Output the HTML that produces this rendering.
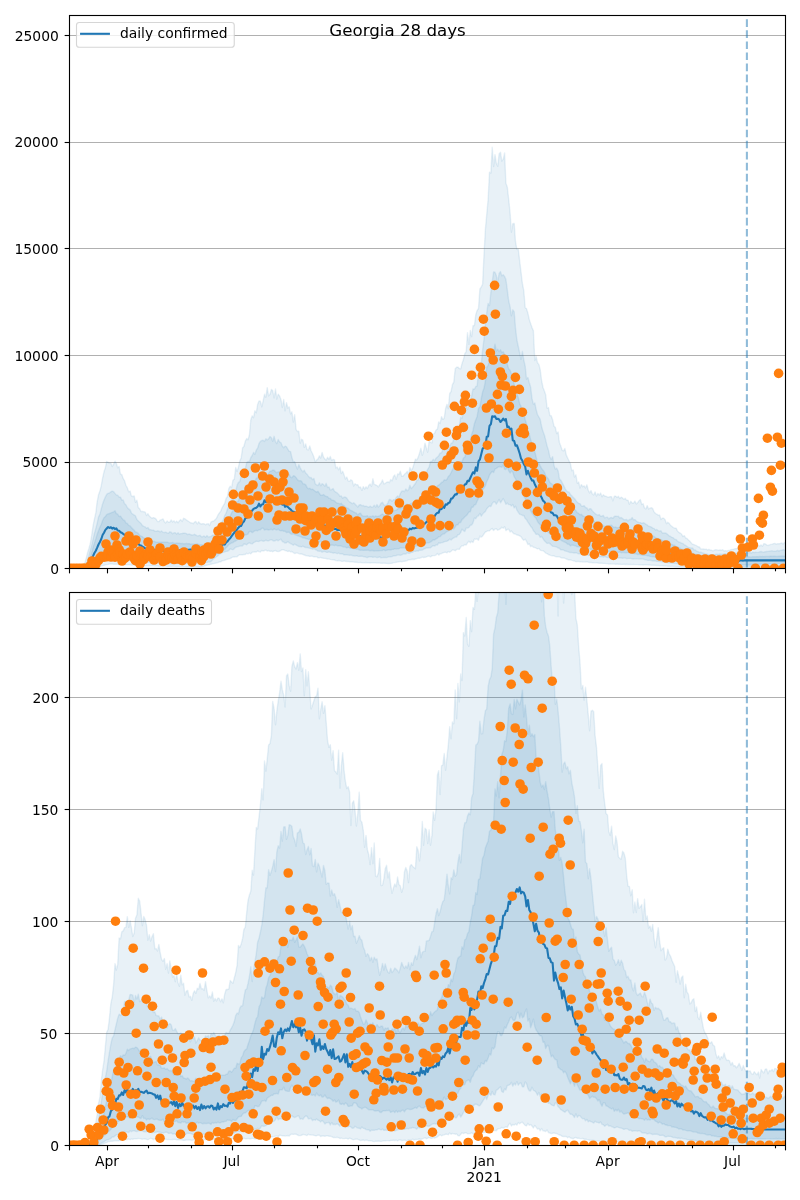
<!DOCTYPE html>
<html lang="en"><head><meta charset="utf-8"><title>Georgia 28 days</title>
<style>
html,body{margin:0;padding:0;background:#fff}
svg{display:block;will-change:transform}
text{font-family:"DejaVu Sans","Liberation Sans",sans-serif;fill:#000}
.t10{font-size:13.89px}
.t12{font-size:16.67px}
</style></head><body>
<svg width="800" height="1200" viewBox="0 0 800 1200">
<rect width="800" height="1200" fill="#fff"/>
<defs>
<clipPath id="c1"><rect x="69.70" y="15.00" width="716.10" height="553.20"/></clipPath>
<clipPath id="c2"><rect x="69.70" y="592.00" width="716.10" height="553.20"/></clipPath>
</defs>
<g stroke="#b0b0b0" stroke-width="1.11"><line x1="69.50" x2="785.50" y1="462.50" y2="462.50"/><line x1="69.50" x2="785.50" y1="355.50" y2="355.50"/><line x1="69.50" x2="785.50" y1="248.50" y2="248.50"/><line x1="69.50" x2="785.50" y1="142.50" y2="142.50"/><line x1="69.50" x2="785.50" y1="35.50" y2="35.50"/><line x1="69.50" x2="785.50" y1="1033.50" y2="1033.50"/><line x1="69.50" x2="785.50" y1="921.50" y2="921.50"/><line x1="69.50" x2="785.50" y1="809.50" y2="809.50"/><line x1="69.50" x2="785.50" y1="697.50" y2="697.50"/></g>
<g clip-path="url(#c1)">
<path d="M69.7 568.3 L71.1 568.1 L72.4 567.8 L73.8 567.6 L75.2 567.4 L76.6 567.2 L77.9 567.0 L79.3 566.8 L80.7 566.5 L82.0 566.3 L83.4 566.1 L84.8 563.1 L86.2 558.3 L87.5 552.8 L88.9 548.4 L90.3 543.5 L91.6 535.9 L93.0 526.2 L94.4 519.1 L95.8 512.9 L97.1 502.1 L98.5 494.8 L99.9 491.1 L101.3 485.3 L102.6 478.1 L104.0 471.8 L105.4 467.6 L106.7 461.5 L108.1 462.3 L109.5 463.4 L110.9 463.2 L112.2 466.6 L113.6 464.1 L115.0 461.2 L116.3 463.3 L117.7 467.8 L119.1 466.5 L120.5 474.4 L121.8 474.5 L123.2 478.6 L124.6 480.8 L125.9 485.4 L127.3 487.7 L128.7 491.9 L130.1 491.1 L131.4 495.9 L132.8 496.5 L134.2 496.0 L135.5 502.3 L136.9 500.2 L138.3 507.6 L139.7 508.8 L141.0 511.5 L142.4 511.4 L143.8 511.7 L145.2 512.1 L146.5 515.5 L147.9 513.7 L149.3 516.0 L150.6 517.2 L152.0 518.3 L153.4 517.6 L154.8 518.1 L156.1 519.1 L157.5 521.5 L158.9 521.6 L160.2 519.9 L161.6 519.7 L163.0 518.9 L164.4 521.7 L165.7 522.9 L167.1 520.9 L168.5 522.2 L169.8 522.0 L171.2 520.0 L172.6 522.0 L174.0 520.7 L175.3 522.7 L176.7 521.1 L178.1 522.8 L179.4 520.7 L180.8 519.6 L182.2 521.4 L183.6 518.3 L184.9 518.8 L186.3 519.9 L187.7 520.8 L189.1 521.8 L190.4 522.7 L191.8 522.9 L193.2 523.7 L194.5 522.1 L195.9 521.5 L197.3 523.9 L198.7 521.8 L200.0 523.5 L201.4 524.0 L202.8 523.7 L204.1 523.7 L205.5 524.8 L206.9 523.9 L208.3 523.7 L209.6 525.5 L211.0 522.1 L212.4 521.3 L213.7 521.1 L215.1 519.7 L216.5 518.3 L217.9 515.2 L219.2 513.1 L220.6 511.4 L222.0 507.9 L223.3 505.6 L224.7 503.3 L226.1 498.5 L227.5 496.5 L228.8 488.5 L230.2 486.2 L231.6 487.5 L232.9 480.3 L234.3 479.1 L235.7 467.5 L237.1 471.5 L238.4 467.1 L239.8 461.0 L241.2 457.7 L242.6 447.8 L243.9 446.5 L245.3 441.1 L246.7 438.6 L248.0 439.8 L249.4 434.7 L250.8 419.8 L252.2 415.8 L253.5 417.7 L254.9 410.8 L256.3 412.7 L257.6 404.5 L259.0 400.9 L260.4 401.2 L261.8 406.8 L263.1 401.1 L264.5 394.3 L265.9 397.2 L267.2 387.6 L268.6 395.9 L270.0 394.2 L271.4 389.5 L272.7 390.6 L274.1 397.9 L275.5 389.0 L276.8 399.1 L278.2 394.1 L279.6 395.9 L281.0 399.6 L282.3 407.5 L283.7 399.5 L285.1 410.8 L286.5 402.6 L287.8 408.0 L289.2 406.9 L290.6 413.9 L291.9 411.8 L293.3 422.1 L294.7 414.7 L296.1 429.4 L297.4 431.5 L298.8 431.2 L300.2 443.2 L301.5 439.3 L302.9 440.1 L304.3 447.4 L305.7 444.0 L307.0 449.5 L308.4 449.9 L309.8 445.9 L311.1 450.8 L312.5 453.5 L313.9 457.1 L315.3 461.8 L316.6 460.1 L318.0 458.9 L319.4 455.8 L320.7 458.1 L322.1 452.4 L323.5 457.1 L324.9 459.1 L326.2 460.1 L327.6 457.3 L329.0 459.3 L330.3 456.5 L331.7 460.4 L333.1 459.4 L334.5 459.8 L335.8 468.0 L337.2 467.0 L338.6 469.8 L340.0 467.0 L341.3 473.5 L342.7 471.3 L344.1 474.9 L345.4 479.1 L346.8 477.1 L348.2 480.9 L349.6 481.4 L350.9 479.7 L352.3 480.7 L353.7 486.0 L355.0 483.7 L356.4 484.8 L357.8 484.8 L359.2 487.6 L360.5 487.0 L361.9 490.4 L363.3 486.6 L364.6 489.1 L366.0 486.8 L367.4 488.6 L368.8 485.2 L370.1 483.9 L371.5 486.5 L372.9 478.8 L374.2 484.4 L375.6 484.8 L377.0 485.6 L378.4 486.9 L379.7 484.6 L381.1 483.0 L382.5 479.9 L383.9 483.9 L385.2 483.5 L386.6 482.3 L388.0 481.8 L389.3 482.7 L390.7 479.5 L392.1 480.8 L393.5 476.5 L394.8 474.9 L396.2 479.4 L397.6 473.9 L398.9 474.6 L400.3 471.2 L401.7 476.3 L403.1 476.1 L404.4 474.3 L405.8 473.3 L407.2 471.3 L408.5 474.6 L409.9 467.5 L411.3 470.4 L412.7 468.1 L414.0 463.9 L415.4 459.1 L416.8 459.9 L418.1 457.4 L419.5 453.3 L420.9 448.1 L422.3 455.3 L423.6 451.0 L425.0 443.1 L426.4 448.1 L427.7 452.2 L429.1 441.1 L430.5 442.3 L431.9 442.9 L433.2 434.2 L434.6 433.2 L436.0 430.0 L437.4 429.1 L438.7 421.9 L440.1 423.4 L441.5 416.6 L442.8 419.4 L444.2 418.4 L445.6 408.5 L447.0 404.3 L448.3 408.7 L449.7 393.5 L451.1 391.5 L452.4 384.7 L453.8 382.1 L455.2 368.7 L456.6 367.3 L457.9 367.1 L459.3 368.5 L460.7 368.8 L462.0 363.6 L463.4 359.8 L464.8 353.7 L466.2 351.5 L467.5 332.6 L468.9 344.4 L470.3 330.5 L471.6 336.6 L473.0 325.8 L474.4 325.6 L475.8 314.6 L477.1 310.6 L478.5 308.4 L479.9 289.0 L481.3 286.9 L482.6 284.3 L484.0 254.5 L485.4 229.1 L486.7 214.9 L488.1 199.6 L489.5 172.1 L490.9 173.1 L492.2 147.3 L493.6 166.5 L495.0 154.7 L496.3 163.1 L497.7 166.3 L499.1 153.9 L500.5 152.2 L501.8 161.1 L503.2 159.3 L504.6 152.9 L505.9 183.3 L507.3 187.1 L508.7 199.3 L510.1 212.8 L511.4 232.2 L512.8 223.7 L514.2 223.4 L515.5 241.7 L516.9 249.4 L518.3 249.3 L519.7 261.1 L521.0 271.8 L522.4 283.5 L523.8 290.7 L525.2 307.7 L526.5 308.6 L527.9 313.1 L529.3 319.5 L530.6 323.6 L532.0 327.6 L533.4 330.8 L534.8 360.5 L536.1 356.4 L537.5 362.7 L538.9 364.4 L540.2 369.6 L541.6 380.4 L543.0 387.5 L544.4 391.0 L545.7 394.9 L547.1 408.3 L548.5 407.5 L549.8 415.5 L551.2 415.8 L552.6 419.7 L554.0 426.2 L555.3 427.3 L556.7 433.5 L558.1 431.9 L559.4 442.6 L560.8 446.1 L562.2 450.3 L563.6 450.8 L564.9 448.4 L566.3 455.1 L567.7 458.0 L569.0 460.8 L570.4 463.7 L571.8 470.7 L573.2 470.0 L574.5 477.0 L575.9 474.8 L577.3 483.2 L578.7 482.0 L580.0 488.0 L581.4 484.6 L582.8 486.8 L584.1 485.8 L585.5 488.0 L586.9 484.8 L588.3 490.4 L589.6 492.9 L591.0 490.5 L592.4 494.0 L593.7 494.9 L595.1 491.9 L596.5 496.0 L597.9 493.5 L599.2 495.2 L600.6 493.1 L602.0 496.8 L603.3 494.8 L604.7 496.0 L606.1 496.3 L607.5 496.9 L608.8 497.2 L610.2 496.6 L611.6 496.8 L612.9 500.9 L614.3 496.2 L615.7 496.1 L617.1 497.6 L618.4 496.3 L619.8 498.6 L621.2 497.1 L622.6 498.1 L623.9 499.4 L625.3 498.3 L626.7 500.4 L628.0 500.1 L629.4 504.2 L630.8 501.3 L632.2 503.0 L633.5 503.2 L634.9 501.1 L636.3 503.9 L637.6 502.7 L639.0 500.8 L640.4 499.6 L641.8 504.5 L643.1 503.8 L644.5 508.0 L645.9 508.9 L647.2 505.6 L648.6 509.0 L650.0 508.2 L651.4 507.7 L652.7 508.5 L654.1 511.9 L655.5 513.5 L656.8 514.2 L658.2 515.1 L659.6 515.0 L661.0 519.6 L662.3 518.1 L663.7 518.1 L665.1 519.7 L666.5 523.7 L667.8 522.3 L669.2 523.4 L670.6 525.4 L671.9 526.4 L673.3 527.5 L674.7 528.2 L676.1 528.1 L677.4 530.9 L678.8 532.3 L680.2 533.2 L681.5 534.0 L682.9 536.6 L684.3 535.7 L685.7 538.0 L687.0 538.5 L688.4 540.0 L689.8 541.1 L691.1 542.8 L692.5 544.2 L693.9 544.5 L695.3 545.2 L696.6 545.7 L698.0 546.7 L699.4 547.0 L700.7 548.9 L702.1 548.9 L703.5 549.0 L704.9 549.4 L706.2 549.2 L707.6 550.0 L709.0 549.4 L710.3 550.2 L711.7 550.3 L713.1 550.9 L714.5 550.0 L715.8 549.8 L717.2 549.9 L718.6 550.3 L720.0 549.8 L721.3 550.3 L722.7 549.7 L724.1 551.0 L725.4 550.6 L726.8 551.0 L728.2 550.4 L729.6 550.5 L730.9 549.7 L732.3 549.4 L733.7 549.2 L735.0 548.7 L736.4 548.6 L737.8 548.2 L739.2 547.9 L740.5 548.9 L741.9 547.8 L743.3 547.7 L744.6 547.5 L746.0 547.5 L747.4 548.4 L748.8 547.4 L750.1 547.7 L751.5 547.3 L752.9 548.2 L754.2 546.8 L755.6 546.2 L757.0 545.5 L758.4 545.4 L759.7 546.1 L761.1 544.9 L762.5 546.3 L763.9 543.6 L765.2 543.9 L766.6 544.8 L768.0 545.5 L769.3 544.9 L770.7 544.4 L772.1 544.4 L773.5 543.6 L774.8 543.4 L776.2 544.1 L777.6 543.7 L778.9 543.8 L780.3 543.5 L781.7 542.9 L783.1 544.0 L784.4 542.8 L785.8 542.0 L785.8 567.3 L784.4 567.4 L783.1 567.4 L781.7 567.3 L780.3 567.4 L778.9 567.3 L777.6 567.3 L776.2 567.3 L774.8 567.3 L773.5 567.4 L772.1 567.4 L770.7 567.3 L769.3 567.3 L768.0 567.3 L766.6 567.3 L765.2 567.3 L763.9 567.4 L762.5 567.4 L761.1 567.4 L759.7 567.4 L758.4 567.3 L757.0 567.3 L755.6 567.4 L754.2 567.4 L752.9 567.4 L751.5 567.4 L750.1 567.4 L748.8 567.4 L747.4 567.4 L746.0 567.4 L744.6 567.4 L743.3 567.4 L741.9 567.4 L740.5 567.4 L739.2 567.4 L737.8 567.4 L736.4 567.4 L735.0 567.4 L733.7 567.4 L732.3 567.5 L730.9 567.5 L729.6 567.4 L728.2 567.4 L726.8 567.4 L725.4 567.4 L724.1 567.4 L722.7 567.4 L721.3 567.4 L720.0 567.4 L718.6 567.4 L717.2 567.4 L715.8 567.4 L714.5 567.5 L713.1 567.4 L711.7 567.5 L710.3 567.5 L709.0 567.5 L707.6 567.5 L706.2 567.5 L704.9 567.5 L703.5 567.5 L702.1 567.4 L700.7 567.4 L699.4 567.5 L698.0 567.5 L696.6 567.5 L695.3 567.5 L693.9 567.5 L692.5 567.5 L691.1 567.5 L689.8 567.5 L688.4 567.4 L687.0 567.3 L685.7 567.2 L684.3 567.1 L682.9 567.0 L681.5 567.0 L680.2 566.9 L678.8 566.8 L677.4 566.7 L676.1 566.7 L674.7 566.5 L673.3 566.4 L671.9 566.3 L670.6 566.4 L669.2 566.2 L667.8 566.2 L666.5 566.1 L665.1 565.9 L663.7 566.0 L662.3 565.8 L661.0 565.6 L659.6 565.7 L658.2 565.4 L656.8 565.5 L655.5 565.4 L654.1 565.3 L652.7 565.2 L651.4 565.3 L650.0 565.0 L648.6 565.0 L647.2 564.9 L645.9 564.9 L644.5 564.8 L643.1 565.0 L641.8 564.7 L640.4 564.7 L639.0 564.7 L637.6 564.6 L636.3 564.6 L634.9 564.6 L633.5 564.4 L632.2 564.6 L630.8 564.4 L629.4 564.5 L628.0 564.5 L626.7 564.3 L625.3 564.5 L623.9 564.2 L622.6 564.4 L621.2 564.4 L619.8 564.2 L618.4 564.2 L617.1 564.0 L615.7 564.2 L614.3 564.1 L612.9 564.1 L611.6 564.1 L610.2 564.0 L608.8 564.1 L607.5 563.6 L606.1 563.6 L604.7 563.4 L603.3 563.4 L602.0 563.3 L600.6 563.3 L599.2 563.3 L597.9 563.0 L596.5 562.8 L595.1 562.6 L593.7 562.8 L592.4 562.7 L591.0 562.5 L589.6 562.5 L588.3 562.3 L586.9 561.7 L585.5 562.0 L584.1 562.1 L582.8 562.1 L581.4 561.6 L580.0 561.7 L578.7 561.5 L577.3 561.4 L575.9 561.7 L574.5 561.0 L573.2 560.7 L571.8 560.3 L570.4 559.8 L569.0 560.0 L567.7 559.5 L566.3 559.0 L564.9 558.3 L563.6 558.0 L562.2 558.1 L560.8 557.7 L559.4 556.6 L558.1 556.8 L556.7 556.8 L555.3 556.6 L554.0 555.8 L552.6 555.9 L551.2 555.6 L549.8 555.1 L548.5 554.5 L547.1 553.7 L545.7 553.1 L544.4 551.8 L543.0 550.6 L541.6 550.6 L540.2 550.2 L538.9 548.4 L537.5 548.9 L536.1 548.2 L534.8 547.5 L533.4 547.2 L532.0 546.0 L530.6 546.6 L529.3 543.9 L527.9 544.6 L526.5 541.3 L525.2 539.2 L523.8 540.3 L522.4 538.9 L521.0 536.6 L519.7 535.9 L518.3 535.2 L516.9 535.0 L515.5 534.1 L514.2 533.9 L512.8 532.7 L511.4 530.9 L510.1 532.0 L508.7 529.2 L507.3 529.4 L505.9 530.6 L504.6 526.7 L503.2 528.3 L501.8 527.2 L500.5 528.7 L499.1 529.6 L497.7 530.2 L496.3 528.7 L495.0 529.1 L493.6 530.5 L492.2 528.5 L490.9 529.4 L489.5 530.9 L488.1 530.6 L486.7 531.4 L485.4 532.0 L484.0 533.9 L482.6 536.1 L481.3 537.1 L479.9 536.1 L478.5 540.3 L477.1 538.9 L475.8 539.3 L474.4 538.9 L473.0 542.5 L471.6 541.3 L470.3 542.7 L468.9 541.2 L467.5 542.8 L466.2 545.0 L464.8 544.4 L463.4 545.7 L462.0 545.6 L460.7 547.1 L459.3 549.4 L457.9 549.1 L456.6 549.4 L455.2 550.7 L453.8 550.1 L452.4 549.9 L451.1 551.2 L449.7 552.2 L448.3 551.5 L447.0 552.8 L445.6 552.2 L444.2 552.4 L442.8 552.8 L441.5 553.6 L440.1 553.9 L438.7 555.1 L437.4 553.5 L436.0 555.1 L434.6 555.6 L433.2 555.6 L431.9 555.9 L430.5 556.8 L429.1 556.1 L427.7 556.3 L426.4 556.9 L425.0 557.3 L423.6 557.5 L422.3 557.1 L420.9 557.8 L419.5 558.3 L418.1 558.2 L416.8 558.6 L415.4 559.0 L414.0 559.5 L412.7 559.2 L411.3 559.5 L409.9 559.8 L408.5 559.8 L407.2 560.6 L405.8 561.0 L404.4 561.2 L403.1 561.4 L401.7 561.7 L400.3 561.4 L398.9 561.7 L397.6 562.1 L396.2 562.3 L394.8 562.6 L393.5 562.6 L392.1 563.3 L390.7 563.4 L389.3 563.5 L388.0 563.5 L386.6 563.4 L385.2 563.2 L383.9 563.1 L382.5 563.3 L381.1 563.3 L379.7 563.1 L378.4 563.0 L377.0 563.1 L375.6 562.9 L374.2 562.9 L372.9 562.7 L371.5 562.8 L370.1 563.0 L368.8 562.8 L367.4 562.9 L366.0 562.5 L364.6 562.7 L363.3 562.6 L361.9 562.7 L360.5 562.4 L359.2 562.6 L357.8 562.5 L356.4 562.2 L355.0 562.3 L353.7 562.1 L352.3 561.9 L350.9 561.7 L349.6 561.7 L348.2 561.4 L346.8 561.5 L345.4 561.3 L344.1 560.9 L342.7 561.4 L341.3 561.2 L340.0 560.8 L338.6 560.5 L337.2 560.9 L335.8 560.6 L334.5 560.0 L333.1 559.9 L331.7 559.6 L330.3 559.4 L329.0 559.1 L327.6 559.1 L326.2 558.5 L324.9 558.4 L323.5 558.3 L322.1 558.1 L320.7 557.4 L319.4 557.8 L318.0 557.9 L316.6 556.6 L315.3 556.7 L313.9 556.9 L312.5 556.3 L311.1 556.1 L309.8 556.4 L308.4 556.0 L307.0 555.8 L305.7 555.5 L304.3 555.0 L302.9 554.4 L301.5 554.0 L300.2 554.0 L298.8 553.6 L297.4 553.1 L296.1 553.1 L294.7 553.5 L293.3 552.6 L291.9 551.5 L290.6 551.8 L289.2 551.0 L287.8 551.5 L286.5 550.8 L285.1 550.6 L283.7 549.8 L282.3 549.7 L281.0 550.3 L279.6 551.2 L278.2 551.5 L276.8 551.4 L275.5 550.5 L274.1 550.9 L272.7 551.7 L271.4 551.0 L270.0 551.4 L268.6 550.5 L267.2 551.0 L265.9 550.1 L264.5 550.5 L263.1 551.0 L261.8 550.4 L260.4 552.0 L259.0 551.6 L257.6 551.0 L256.3 552.0 L254.9 551.9 L253.5 552.1 L252.2 552.3 L250.8 553.8 L249.4 553.1 L248.0 553.8 L246.7 553.3 L245.3 554.5 L243.9 554.5 L242.6 554.9 L241.2 554.7 L239.8 554.7 L238.4 555.5 L237.1 556.7 L235.7 556.6 L234.3 557.0 L232.9 557.0 L231.6 557.7 L230.2 558.6 L228.8 558.8 L227.5 559.3 L226.1 559.6 L224.7 560.3 L223.3 560.6 L222.0 560.9 L220.6 561.8 L219.2 562.0 L217.9 562.6 L216.5 563.0 L215.1 563.3 L213.7 563.6 L212.4 563.9 L211.0 564.2 L209.6 564.7 L208.3 564.8 L206.9 565.3 L205.5 565.5 L204.1 566.1 L202.8 566.4 L201.4 566.7 L200.0 567.0 L198.7 567.0 L197.3 567.0 L195.9 566.9 L194.5 566.8 L193.2 566.8 L191.8 566.8 L190.4 566.8 L189.1 566.7 L187.7 566.8 L186.3 566.7 L184.9 566.6 L183.6 566.6 L182.2 566.5 L180.8 566.5 L179.4 566.4 L178.1 566.4 L176.7 566.5 L175.3 566.4 L174.0 566.3 L172.6 566.2 L171.2 566.4 L169.8 566.3 L168.5 566.4 L167.1 566.3 L165.7 566.1 L164.4 566.1 L163.0 566.1 L161.6 565.9 L160.2 566.2 L158.9 566.2 L157.5 566.0 L156.1 566.0 L154.8 566.0 L153.4 565.9 L152.0 565.8 L150.6 565.8 L149.3 565.7 L147.9 565.6 L146.5 565.8 L145.2 565.7 L143.8 565.5 L142.4 565.6 L141.0 565.5 L139.7 565.6 L138.3 565.4 L136.9 565.5 L135.5 565.4 L134.2 565.1 L132.8 565.1 L131.4 565.2 L130.1 564.8 L128.7 564.9 L127.3 564.9 L125.9 564.7 L124.6 564.7 L123.2 564.7 L121.8 564.6 L120.5 564.5 L119.1 564.5 L117.7 564.3 L116.3 564.2 L115.0 564.2 L113.6 564.3 L112.2 563.9 L110.9 564.0 L109.5 564.1 L108.1 564.4 L106.7 564.6 L105.4 564.9 L104.0 565.2 L102.6 565.7 L101.3 566.1 L99.9 566.3 L98.5 566.7 L97.1 567.1 L95.8 567.3 L94.4 567.5 L93.0 567.6 L91.6 567.6 L90.3 567.6 L88.9 567.7 L87.5 567.7 L86.2 567.8 L84.8 567.8 L83.4 567.8 L82.0 567.9 L80.7 568.0 L79.3 568.0 L77.9 568.0 L76.6 568.1 L75.2 568.1 L73.8 568.2 L72.4 568.2 L71.1 568.2 L69.7 568.2Z" fill="#1f77b4" fill-opacity="0.100" stroke="#1f77b4" stroke-opacity="0.100" stroke-width="1.39" stroke-linejoin="round"/>
<path d="M69.7 568.8 L71.1 568.6 L72.4 568.3 L73.8 568.1 L75.2 567.9 L76.6 567.7 L77.9 567.5 L79.3 567.3 L80.7 567.0 L82.0 566.8 L83.4 566.6 L84.8 566.2 L86.2 565.4 L87.5 560.5 L88.9 555.5 L90.3 550.3 L91.6 545.8 L93.0 539.6 L94.4 533.6 L95.8 528.6 L97.1 523.6 L98.5 517.1 L99.9 514.3 L101.3 508.7 L102.6 503.9 L104.0 500.0 L105.4 496.9 L106.7 494.4 L108.1 493.3 L109.5 492.9 L110.9 491.8 L112.2 491.1 L113.6 491.7 L115.0 493.4 L116.3 494.9 L117.7 495.2 L119.1 497.2 L120.5 497.1 L121.8 500.1 L123.2 500.0 L124.6 503.8 L125.9 504.7 L127.3 507.5 L128.7 508.9 L130.1 509.9 L131.4 512.9 L132.8 514.2 L134.2 515.1 L135.5 515.9 L136.9 519.6 L138.3 520.9 L139.7 522.2 L141.0 523.4 L142.4 525.6 L143.8 526.4 L145.2 526.9 L146.5 528.3 L147.9 527.5 L149.3 529.5 L150.6 529.7 L152.0 530.1 L153.4 530.1 L154.8 531.1 L156.1 531.3 L157.5 530.8 L158.9 531.1 L160.2 531.9 L161.6 530.9 L163.0 532.4 L164.4 532.5 L165.7 532.2 L167.1 532.8 L168.5 533.2 L169.8 531.8 L171.2 532.2 L172.6 533.8 L174.0 532.7 L175.3 532.7 L176.7 534.0 L178.1 532.7 L179.4 534.2 L180.8 533.6 L182.2 533.5 L183.6 533.1 L184.9 533.2 L186.3 533.6 L187.7 534.6 L189.1 534.0 L190.4 534.5 L191.8 535.0 L193.2 534.9 L194.5 534.3 L195.9 535.1 L197.3 535.9 L198.7 535.7 L200.0 535.3 L201.4 536.7 L202.8 536.7 L204.1 535.9 L205.5 537.2 L206.9 535.6 L208.3 536.9 L209.6 536.7 L211.0 536.4 L212.4 535.2 L213.7 535.1 L215.1 534.6 L216.5 533.1 L217.9 530.7 L219.2 527.6 L220.6 524.7 L222.0 521.8 L223.3 519.9 L224.7 515.5 L226.1 513.2 L227.5 509.0 L228.8 506.1 L230.2 504.1 L231.6 500.2 L232.9 497.8 L234.3 492.7 L235.7 491.4 L237.1 485.2 L238.4 482.4 L239.8 481.6 L241.2 476.2 L242.6 474.9 L243.9 469.0 L245.3 468.7 L246.7 462.6 L248.0 461.5 L249.4 461.7 L250.8 457.6 L252.2 455.5 L253.5 452.5 L254.9 454.3 L256.3 450.0 L257.6 448.2 L259.0 443.6 L260.4 441.4 L261.8 440.5 L263.1 440.3 L264.5 441.4 L265.9 438.7 L267.2 439.9 L268.6 438.8 L270.0 436.5 L271.4 437.7 L272.7 441.3 L274.1 436.3 L275.5 441.7 L276.8 443.6 L278.2 439.5 L279.6 442.0 L281.0 442.7 L282.3 446.0 L283.7 447.7 L285.1 446.1 L286.5 446.8 L287.8 449.1 L289.2 451.3 L290.6 451.6 L291.9 457.6 L293.3 461.7 L294.7 461.6 L296.1 465.9 L297.4 469.0 L298.8 464.6 L300.2 467.8 L301.5 470.3 L302.9 471.9 L304.3 470.3 L305.7 473.0 L307.0 474.2 L308.4 476.2 L309.8 477.8 L311.1 477.5 L312.5 479.6 L313.9 478.5 L315.3 483.9 L316.6 484.9 L318.0 485.5 L319.4 482.8 L320.7 485.8 L322.1 483.7 L323.5 484.6 L324.9 486.2 L326.2 483.4 L327.6 487.6 L329.0 487.0 L330.3 489.9 L331.7 489.6 L333.1 488.5 L334.5 491.2 L335.8 492.1 L337.2 492.9 L338.6 494.4 L340.0 496.2 L341.3 495.9 L342.7 498.3 L344.1 496.9 L345.4 497.1 L346.8 498.1 L348.2 500.4 L349.6 501.9 L350.9 502.6 L352.3 503.7 L353.7 502.7 L355.0 504.0 L356.4 505.4 L357.8 507.0 L359.2 505.0 L360.5 504.6 L361.9 505.7 L363.3 505.4 L364.6 506.5 L366.0 506.1 L367.4 506.7 L368.8 507.3 L370.1 506.2 L371.5 507.1 L372.9 506.9 L374.2 505.2 L375.6 507.2 L377.0 504.6 L378.4 507.1 L379.7 505.6 L381.1 503.1 L382.5 502.3 L383.9 504.9 L385.2 505.2 L386.6 505.1 L388.0 502.6 L389.3 499.5 L390.7 499.8 L392.1 501.3 L393.5 499.6 L394.8 500.1 L396.2 497.5 L397.6 496.0 L398.9 497.3 L400.3 493.5 L401.7 491.2 L403.1 490.8 L404.4 491.7 L405.8 489.0 L407.2 490.8 L408.5 489.8 L409.9 485.2 L411.3 488.5 L412.7 487.1 L414.0 485.3 L415.4 483.5 L416.8 480.5 L418.1 479.7 L419.5 475.8 L420.9 474.3 L422.3 473.6 L423.6 476.0 L425.0 472.9 L426.4 472.2 L427.7 469.3 L429.1 467.0 L430.5 461.5 L431.9 461.3 L433.2 459.3 L434.6 460.8 L436.0 458.2 L437.4 456.9 L438.7 455.7 L440.1 453.1 L441.5 452.8 L442.8 449.9 L444.2 447.6 L445.6 446.5 L447.0 445.0 L448.3 449.8 L449.7 446.6 L451.1 443.2 L452.4 442.9 L453.8 439.1 L455.2 439.1 L456.6 429.5 L457.9 428.2 L459.3 426.0 L460.7 417.2 L462.0 418.2 L463.4 412.3 L464.8 409.8 L466.2 406.4 L467.5 409.4 L468.9 402.4 L470.3 400.9 L471.6 396.3 L473.0 388.9 L474.4 389.3 L475.8 386.5 L477.1 386.0 L478.5 372.8 L479.9 367.1 L481.3 363.8 L482.6 350.4 L484.0 339.0 L485.4 324.9 L486.7 313.1 L488.1 303.4 L489.5 305.5 L490.9 292.0 L492.2 281.9 L493.6 272.0 L495.0 272.3 L496.3 275.6 L497.7 282.0 L499.1 273.5 L500.5 271.6 L501.8 275.9 L503.2 274.8 L504.6 276.5 L505.9 279.4 L507.3 289.8 L508.7 301.0 L510.1 306.8 L511.4 315.8 L512.8 309.8 L514.2 311.8 L515.5 328.1 L516.9 340.0 L518.3 346.5 L519.7 353.0 L521.0 359.3 L522.4 351.5 L523.8 360.1 L525.2 366.1 L526.5 379.1 L527.9 377.5 L529.3 382.7 L530.6 386.9 L532.0 398.6 L533.4 404.2 L534.8 402.9 L536.1 409.3 L537.5 414.7 L538.9 417.0 L540.2 419.3 L541.6 426.5 L543.0 431.6 L544.4 434.9 L545.7 440.2 L547.1 446.1 L548.5 450.4 L549.8 456.7 L551.2 459.5 L552.6 456.6 L554.0 465.5 L555.3 469.1 L556.7 468.2 L558.1 470.8 L559.4 478.7 L560.8 480.2 L562.2 482.7 L563.6 485.4 L564.9 488.3 L566.3 490.5 L567.7 491.8 L569.0 491.9 L570.4 494.5 L571.8 495.8 L573.2 497.4 L574.5 498.5 L575.9 500.6 L577.3 502.3 L578.7 503.5 L580.0 503.6 L581.4 506.0 L582.8 506.3 L584.1 505.6 L585.5 507.5 L586.9 507.9 L588.3 510.2 L589.6 508.7 L591.0 508.8 L592.4 510.9 L593.7 512.3 L595.1 513.6 L596.5 514.5 L597.9 515.2 L599.2 514.5 L600.6 516.2 L602.0 516.0 L603.3 515.4 L604.7 517.9 L606.1 517.4 L607.5 517.3 L608.8 518.9 L610.2 517.7 L611.6 517.5 L612.9 518.3 L614.3 516.5 L615.7 516.1 L617.1 516.4 L618.4 516.3 L619.8 518.1 L621.2 517.5 L622.6 518.5 L623.9 519.8 L625.3 519.8 L626.7 519.5 L628.0 521.0 L629.4 519.5 L630.8 519.5 L632.2 517.5 L633.5 519.8 L634.9 519.6 L636.3 521.0 L637.6 522.0 L639.0 522.5 L640.4 522.6 L641.8 523.3 L643.1 522.8 L644.5 523.1 L645.9 524.4 L647.2 524.9 L648.6 526.2 L650.0 526.6 L651.4 527.1 L652.7 528.1 L654.1 528.4 L655.5 530.1 L656.8 529.4 L658.2 530.7 L659.6 531.1 L661.0 530.8 L662.3 533.0 L663.7 532.9 L665.1 533.0 L666.5 533.5 L667.8 534.6 L669.2 535.9 L670.6 536.5 L671.9 537.3 L673.3 537.8 L674.7 539.4 L676.1 539.5 L677.4 541.0 L678.8 542.0 L680.2 542.4 L681.5 543.2 L682.9 543.5 L684.3 544.8 L685.7 545.4 L687.0 546.6 L688.4 547.3 L689.8 547.7 L691.1 547.9 L692.5 548.0 L693.9 549.8 L695.3 549.9 L696.6 551.3 L698.0 551.5 L699.4 552.4 L700.7 552.2 L702.1 552.7 L703.5 553.2 L704.9 553.7 L706.2 554.0 L707.6 554.3 L709.0 554.8 L710.3 554.8 L711.7 554.6 L713.1 555.0 L714.5 554.8 L715.8 554.3 L717.2 554.3 L718.6 554.5 L720.0 554.0 L721.3 554.1 L722.7 554.2 L724.1 553.8 L725.4 553.6 L726.8 553.9 L728.2 553.6 L729.6 553.6 L730.9 553.6 L732.3 553.8 L733.7 553.7 L735.0 553.6 L736.4 553.3 L737.8 553.4 L739.2 553.3 L740.5 552.7 L741.9 552.5 L743.3 553.3 L744.6 553.4 L746.0 553.0 L747.4 552.7 L748.8 552.5 L750.1 552.6 L751.5 553.0 L752.9 552.1 L754.2 552.6 L755.6 552.3 L757.0 552.4 L758.4 552.4 L759.7 551.8 L761.1 551.5 L762.5 551.9 L763.9 552.1 L765.2 551.7 L766.6 551.5 L768.0 551.4 L769.3 551.1 L770.7 550.9 L772.1 550.8 L773.5 551.2 L774.8 551.1 L776.2 551.0 L777.6 550.4 L778.9 551.0 L780.3 550.4 L781.7 550.3 L783.1 549.6 L784.4 550.0 L785.8 550.7 L785.8 565.6 L784.4 565.6 L783.1 565.7 L781.7 565.7 L780.3 565.6 L778.9 565.8 L777.6 565.8 L776.2 565.8 L774.8 565.9 L773.5 566.0 L772.1 565.9 L770.7 565.8 L769.3 565.9 L768.0 565.9 L766.6 566.0 L765.2 566.0 L763.9 566.1 L762.5 566.1 L761.1 566.1 L759.7 566.1 L758.4 566.1 L757.0 566.3 L755.6 566.3 L754.2 566.3 L752.9 566.2 L751.5 566.3 L750.1 566.3 L748.8 566.3 L747.4 566.3 L746.0 566.5 L744.6 566.4 L743.3 566.5 L741.9 566.4 L740.5 566.5 L739.2 566.5 L737.8 566.4 L736.4 566.5 L735.0 566.4 L733.7 566.4 L732.3 566.4 L730.9 566.4 L729.6 566.4 L728.2 566.4 L726.8 566.4 L725.4 566.4 L724.1 566.3 L722.7 566.3 L721.3 566.3 L720.0 566.2 L718.6 566.3 L717.2 566.3 L715.8 566.2 L714.5 566.2 L713.1 566.2 L711.7 566.2 L710.3 566.2 L709.0 566.1 L707.6 566.1 L706.2 566.1 L704.9 566.0 L703.5 566.0 L702.1 566.1 L700.7 566.1 L699.4 565.9 L698.0 565.7 L696.6 565.7 L695.3 565.5 L693.9 565.4 L692.5 565.2 L691.1 565.1 L689.8 565.0 L688.4 565.1 L687.0 564.7 L685.7 564.4 L684.3 564.4 L682.9 564.3 L681.5 564.1 L680.2 564.0 L678.8 563.8 L677.4 563.9 L676.1 563.5 L674.7 563.5 L673.3 563.3 L671.9 563.2 L670.6 563.1 L669.2 562.9 L667.8 562.8 L666.5 562.6 L665.1 562.3 L663.7 562.0 L662.3 562.1 L661.0 561.6 L659.6 561.6 L658.2 561.4 L656.8 561.4 L655.5 561.0 L654.1 560.8 L652.7 561.0 L651.4 560.5 L650.0 560.2 L648.6 560.4 L647.2 560.2 L645.9 559.8 L644.5 559.5 L643.1 559.1 L641.8 559.0 L640.4 558.8 L639.0 559.1 L637.6 558.6 L636.3 558.8 L634.9 558.6 L633.5 559.0 L632.2 558.8 L630.8 558.4 L629.4 558.4 L628.0 558.4 L626.7 558.6 L625.3 558.1 L623.9 558.1 L622.6 558.3 L621.2 558.0 L619.8 557.9 L618.4 558.0 L617.1 557.6 L615.7 558.0 L614.3 557.8 L612.9 557.7 L611.6 557.8 L610.2 557.5 L608.8 557.5 L607.5 557.6 L606.1 557.2 L604.7 556.7 L603.3 557.2 L602.0 556.7 L600.6 556.7 L599.2 556.8 L597.9 556.1 L596.5 556.9 L595.1 556.4 L593.7 555.7 L592.4 556.0 L591.0 555.3 L589.6 555.3 L588.3 555.5 L586.9 554.8 L585.5 554.7 L584.1 554.7 L582.8 555.1 L581.4 554.3 L580.0 553.8 L578.7 553.8 L577.3 553.3 L575.9 552.7 L574.5 553.0 L573.2 552.8 L571.8 552.4 L570.4 552.5 L569.0 552.2 L567.7 551.6 L566.3 551.2 L564.9 550.9 L563.6 550.1 L562.2 549.8 L560.8 549.9 L559.4 548.2 L558.1 548.0 L556.7 547.1 L555.3 546.6 L554.0 546.4 L552.6 546.3 L551.2 545.0 L549.8 543.5 L548.5 543.1 L547.1 543.4 L545.7 542.1 L544.4 540.8 L543.0 538.7 L541.6 536.4 L540.2 537.3 L538.9 534.9 L537.5 534.1 L536.1 534.4 L534.8 532.3 L533.4 530.7 L532.0 527.7 L530.6 526.2 L529.3 524.2 L527.9 522.1 L526.5 519.6 L525.2 518.5 L523.8 515.4 L522.4 515.5 L521.0 514.6 L519.7 514.3 L518.3 512.3 L516.9 510.1 L515.5 506.2 L514.2 507.9 L512.8 504.4 L511.4 505.9 L510.1 504.6 L508.7 504.6 L507.3 503.1 L505.9 504.3 L504.6 501.3 L503.2 498.5 L501.8 500.9 L500.5 502.8 L499.1 499.5 L497.7 502.0 L496.3 504.2 L495.0 502.0 L493.6 502.0 L492.2 503.6 L490.9 506.5 L489.5 505.9 L488.1 507.2 L486.7 508.7 L485.4 511.5 L484.0 512.6 L482.6 514.1 L481.3 516.2 L479.9 513.4 L478.5 515.8 L477.1 516.3 L475.8 518.7 L474.4 518.0 L473.0 522.9 L471.6 525.1 L470.3 525.3 L468.9 527.4 L467.5 528.1 L466.2 528.1 L464.8 531.5 L463.4 530.6 L462.0 529.2 L460.7 532.4 L459.3 534.4 L457.9 534.7 L456.6 537.1 L455.2 537.1 L453.8 537.8 L452.4 538.7 L451.1 540.0 L449.7 539.1 L448.3 540.4 L447.0 541.2 L445.6 541.4 L444.2 541.7 L442.8 542.6 L441.5 542.6 L440.1 543.2 L438.7 542.9 L437.4 545.1 L436.0 545.0 L434.6 546.1 L433.2 545.7 L431.9 546.5 L430.5 547.7 L429.1 547.8 L427.7 548.0 L426.4 547.8 L425.0 548.7 L423.6 549.2 L422.3 550.1 L420.9 550.2 L419.5 550.2 L418.1 551.1 L416.8 550.8 L415.4 551.4 L414.0 551.1 L412.7 552.2 L411.3 552.4 L409.9 553.2 L408.5 553.3 L407.2 552.8 L405.8 554.1 L404.4 554.0 L403.1 554.1 L401.7 554.9 L400.3 555.2 L398.9 555.1 L397.6 555.1 L396.2 555.5 L394.8 555.8 L393.5 555.8 L392.1 556.6 L390.7 556.8 L389.3 556.6 L388.0 557.1 L386.6 557.6 L385.2 557.5 L383.9 557.5 L382.5 557.6 L381.1 557.8 L379.7 556.9 L378.4 557.3 L377.0 557.6 L375.6 557.1 L374.2 557.1 L372.9 557.2 L371.5 556.9 L370.1 556.9 L368.8 556.9 L367.4 557.5 L366.0 557.2 L364.6 556.8 L363.3 556.6 L361.9 556.2 L360.5 556.3 L359.2 556.4 L357.8 556.2 L356.4 555.7 L355.0 556.1 L353.7 555.8 L352.3 555.5 L350.9 555.1 L349.6 555.2 L348.2 555.1 L346.8 554.9 L345.4 554.7 L344.1 554.9 L342.7 554.0 L341.3 553.7 L340.0 553.8 L338.6 553.1 L337.2 553.6 L335.8 553.1 L334.5 552.7 L333.1 553.2 L331.7 552.5 L330.3 552.4 L329.0 551.8 L327.6 552.4 L326.2 552.2 L324.9 551.5 L323.5 551.6 L322.1 552.2 L320.7 551.1 L319.4 551.3 L318.0 551.1 L316.6 550.1 L315.3 549.5 L313.9 548.8 L312.5 549.2 L311.1 548.5 L309.8 548.3 L308.4 547.8 L307.0 547.5 L305.7 547.5 L304.3 547.0 L302.9 546.2 L301.5 546.9 L300.2 546.5 L298.8 546.5 L297.4 545.6 L296.1 545.0 L294.7 544.1 L293.3 545.2 L291.9 544.2 L290.6 543.6 L289.2 542.8 L287.8 541.6 L286.5 542.8 L285.1 543.1 L283.7 542.1 L282.3 541.5 L281.0 539.1 L279.6 539.8 L278.2 540.8 L276.8 539.9 L275.5 540.5 L274.1 541.1 L272.7 540.5 L271.4 539.6 L270.0 540.1 L268.6 540.8 L267.2 540.8 L265.9 540.2 L264.5 541.0 L263.1 541.3 L261.8 540.5 L260.4 540.6 L259.0 541.5 L257.6 541.4 L256.3 541.2 L254.9 542.0 L253.5 542.7 L252.2 543.9 L250.8 543.6 L249.4 542.9 L248.0 543.4 L246.7 544.8 L245.3 544.2 L243.9 544.0 L242.6 545.8 L241.2 546.0 L239.8 546.1 L238.4 546.6 L237.1 546.9 L235.7 547.2 L234.3 548.6 L232.9 549.7 L231.6 549.3 L230.2 548.8 L228.8 550.6 L227.5 551.2 L226.1 551.4 L224.7 551.9 L223.3 552.3 L222.0 552.7 L220.6 553.7 L219.2 554.5 L217.9 555.9 L216.5 556.7 L215.1 557.7 L213.7 558.8 L212.4 560.1 L211.0 561.6 L209.6 562.1 L208.3 562.1 L206.9 562.4 L205.5 562.2 L204.1 562.3 L202.8 562.6 L201.4 562.6 L200.0 562.8 L198.7 562.9 L197.3 562.9 L195.9 562.9 L194.5 562.9 L193.2 563.3 L191.8 563.4 L190.4 563.3 L189.1 563.4 L187.7 563.5 L186.3 563.5 L184.9 563.6 L183.6 563.8 L182.2 563.7 L180.8 564.0 L179.4 563.9 L178.1 563.9 L176.7 563.8 L175.3 563.8 L174.0 563.6 L172.6 563.7 L171.2 563.7 L169.8 563.6 L168.5 563.5 L167.1 563.3 L165.7 563.4 L164.4 563.2 L163.0 563.1 L161.6 563.0 L160.2 563.1 L158.9 562.7 L157.5 562.9 L156.1 562.9 L154.8 562.6 L153.4 562.6 L152.0 562.6 L150.6 562.5 L149.3 562.4 L147.9 562.2 L146.5 562.3 L145.2 562.3 L143.8 562.5 L142.4 562.0 L141.0 561.9 L139.7 561.8 L138.3 562.0 L136.9 561.4 L135.5 561.4 L134.2 561.1 L132.8 560.9 L131.4 560.7 L130.1 560.4 L128.7 560.2 L127.3 560.1 L125.9 559.8 L124.6 559.3 L123.2 559.4 L121.8 559.4 L120.5 558.9 L119.1 558.7 L117.7 558.7 L116.3 558.6 L115.0 558.0 L113.6 558.0 L112.2 558.5 L110.9 558.8 L109.5 558.8 L108.1 559.1 L106.7 559.8 L105.4 560.2 L104.0 560.7 L102.6 561.3 L101.3 562.0 L99.9 562.9 L98.5 563.4 L97.1 564.1 L95.8 565.1 L94.4 565.7 L93.0 566.5 L91.6 567.0 L90.3 567.1 L88.9 567.2 L87.5 567.3 L86.2 567.4 L84.8 567.4 L83.4 567.5 L82.0 567.6 L80.7 567.6 L79.3 567.7 L77.9 567.8 L76.6 567.9 L75.2 568.0 L73.8 568.0 L72.4 568.1 L71.1 568.2 L69.7 568.2Z" fill="#1f77b4" fill-opacity="0.100" stroke="#1f77b4" stroke-opacity="0.100" stroke-width="1.39" stroke-linejoin="round"/>
<path d="M69.7 569.3 L71.1 569.1 L72.4 568.8 L73.8 568.6 L75.2 568.4 L76.6 568.2 L77.9 568.0 L79.3 567.8 L80.7 567.5 L82.0 567.3 L83.4 567.1 L84.8 566.7 L86.2 566.2 L87.5 566.1 L88.9 562.7 L90.3 557.5 L91.6 552.9 L93.0 547.6 L94.4 543.1 L95.8 538.9 L97.1 534.6 L98.5 530.7 L99.9 527.2 L101.3 524.3 L102.6 520.5 L104.0 517.8 L105.4 516.5 L106.7 514.7 L108.1 513.9 L109.5 513.5 L110.9 512.9 L112.2 512.3 L113.6 511.9 L115.0 510.8 L116.3 513.6 L117.7 514.2 L119.1 516.5 L120.5 516.1 L121.8 518.1 L123.2 519.8 L124.6 520.4 L125.9 522.9 L127.3 523.5 L128.7 525.4 L130.1 525.9 L131.4 527.5 L132.8 528.9 L134.2 530.3 L135.5 532.0 L136.9 532.4 L138.3 533.4 L139.7 535.2 L141.0 536.2 L142.4 536.7 L143.8 538.0 L145.2 538.4 L146.5 539.4 L147.9 539.3 L149.3 540.6 L150.6 540.4 L152.0 541.3 L153.4 541.4 L154.8 541.5 L156.1 542.2 L157.5 542.2 L158.9 542.3 L160.2 542.2 L161.6 542.1 L163.0 542.2 L164.4 542.2 L165.7 542.1 L167.1 542.1 L168.5 542.6 L169.8 542.9 L171.2 542.8 L172.6 542.4 L174.0 543.2 L175.3 543.3 L176.7 542.9 L178.1 543.1 L179.4 543.3 L180.8 543.6 L182.2 543.4 L183.6 543.8 L184.9 543.8 L186.3 543.4 L187.7 543.7 L189.1 543.6 L190.4 544.1 L191.8 543.9 L193.2 543.9 L194.5 544.3 L195.9 544.0 L197.3 543.8 L198.7 544.5 L200.0 544.7 L201.4 544.8 L202.8 545.0 L204.1 544.8 L205.5 545.1 L206.9 545.1 L208.3 545.3 L209.6 544.7 L211.0 544.1 L212.4 544.1 L213.7 543.9 L215.1 543.6 L216.5 542.3 L217.9 541.0 L219.2 537.6 L220.6 535.7 L222.0 533.1 L223.3 531.5 L224.7 529.4 L226.1 526.7 L227.5 522.5 L228.8 519.0 L230.2 516.3 L231.6 512.8 L232.9 510.7 L234.3 508.2 L235.7 504.8 L237.1 502.3 L238.4 500.7 L239.8 497.0 L241.2 495.1 L242.6 493.7 L243.9 491.8 L245.3 489.9 L246.7 488.0 L248.0 486.8 L249.4 483.5 L250.8 480.7 L252.2 481.6 L253.5 480.9 L254.9 481.5 L256.3 478.4 L257.6 477.6 L259.0 476.2 L260.4 474.7 L261.8 475.5 L263.1 477.8 L264.5 473.7 L265.9 473.9 L267.2 475.3 L268.6 473.2 L270.0 471.1 L271.4 471.0 L272.7 470.1 L274.1 470.3 L275.5 471.8 L276.8 472.7 L278.2 471.9 L279.6 471.8 L281.0 474.4 L282.3 471.9 L283.7 475.0 L285.1 473.0 L286.5 473.3 L287.8 474.3 L289.2 474.3 L290.6 477.1 L291.9 477.7 L293.3 475.8 L294.7 476.1 L296.1 477.6 L297.4 479.6 L298.8 480.7 L300.2 480.8 L301.5 481.1 L302.9 483.8 L304.3 483.9 L305.7 484.8 L307.0 487.4 L308.4 488.7 L309.8 488.3 L311.1 489.5 L312.5 489.1 L313.9 490.2 L315.3 491.3 L316.6 492.1 L318.0 491.3 L319.4 493.3 L320.7 495.3 L322.1 495.3 L323.5 494.5 L324.9 495.7 L326.2 496.5 L327.6 496.6 L329.0 498.4 L330.3 498.4 L331.7 500.1 L333.1 500.3 L334.5 500.8 L335.8 502.3 L337.2 503.3 L338.6 503.4 L340.0 503.9 L341.3 503.3 L342.7 505.2 L344.1 505.7 L345.4 507.2 L346.8 507.8 L348.2 508.3 L349.6 509.8 L350.9 510.4 L352.3 511.0 L353.7 512.0 L355.0 512.6 L356.4 513.2 L357.8 515.1 L359.2 513.5 L360.5 513.2 L361.9 515.3 L363.3 516.3 L364.6 516.3 L366.0 516.1 L367.4 515.8 L368.8 517.4 L370.1 516.3 L371.5 516.7 L372.9 515.8 L374.2 517.0 L375.6 515.9 L377.0 516.6 L378.4 516.2 L379.7 515.9 L381.1 514.7 L382.5 514.0 L383.9 515.2 L385.2 515.2 L386.6 514.6 L388.0 513.0 L389.3 513.4 L390.7 511.3 L392.1 512.5 L393.5 510.8 L394.8 510.4 L396.2 510.2 L397.6 509.1 L398.9 507.9 L400.3 508.2 L401.7 507.0 L403.1 506.1 L404.4 506.2 L405.8 504.5 L407.2 504.2 L408.5 504.9 L409.9 504.3 L411.3 503.3 L412.7 504.2 L414.0 502.8 L415.4 502.1 L416.8 502.9 L418.1 502.0 L419.5 501.3 L420.9 501.0 L422.3 499.3 L423.6 498.4 L425.0 498.3 L426.4 495.9 L427.7 495.0 L429.1 493.4 L430.5 491.7 L431.9 489.9 L433.2 489.9 L434.6 489.1 L436.0 488.8 L437.4 485.9 L438.7 485.1 L440.1 484.0 L441.5 482.5 L442.8 481.9 L444.2 479.8 L445.6 480.4 L447.0 479.3 L448.3 476.5 L449.7 475.3 L451.1 472.5 L452.4 469.7 L453.8 467.7 L455.2 465.1 L456.6 462.6 L457.9 464.9 L459.3 463.8 L460.7 461.5 L462.0 462.0 L463.4 458.0 L464.8 457.2 L466.2 451.8 L467.5 445.9 L468.9 444.8 L470.3 440.6 L471.6 434.4 L473.0 430.4 L474.4 423.7 L475.8 419.8 L477.1 416.8 L478.5 408.2 L479.9 406.8 L481.3 398.5 L482.6 392.1 L484.0 388.3 L485.4 381.2 L486.7 367.5 L488.1 365.4 L489.5 360.9 L490.9 355.9 L492.2 354.4 L493.6 351.7 L495.0 344.2 L496.3 351.1 L497.7 349.2 L499.1 351.7 L500.5 349.7 L501.8 352.6 L503.2 351.7 L504.6 354.5 L505.9 357.0 L507.3 364.1 L508.7 369.0 L510.1 370.2 L511.4 373.7 L512.8 374.9 L514.2 384.6 L515.5 387.2 L516.9 393.7 L518.3 397.7 L519.7 403.8 L521.0 406.2 L522.4 411.4 L523.8 413.9 L525.2 419.7 L526.5 423.8 L527.9 431.7 L529.3 434.2 L530.6 439.5 L532.0 443.6 L533.4 447.0 L534.8 451.4 L536.1 457.1 L537.5 462.6 L538.9 462.9 L540.2 465.9 L541.6 468.4 L543.0 470.2 L544.4 472.2 L545.7 475.7 L547.1 477.6 L548.5 479.0 L549.8 482.5 L551.2 483.5 L552.6 484.5 L554.0 488.3 L555.3 489.4 L556.7 492.7 L558.1 493.9 L559.4 495.9 L560.8 497.8 L562.2 499.3 L563.6 500.0 L564.9 501.5 L566.3 502.6 L567.7 502.3 L569.0 504.9 L570.4 505.0 L571.8 507.7 L573.2 508.7 L574.5 509.3 L575.9 510.7 L577.3 512.7 L578.7 513.4 L580.0 514.7 L581.4 514.3 L582.8 516.0 L584.1 516.4 L585.5 517.9 L586.9 517.4 L588.3 519.2 L589.6 519.2 L591.0 520.7 L592.4 520.8 L593.7 520.8 L595.1 522.1 L596.5 522.3 L597.9 523.1 L599.2 522.7 L600.6 523.5 L602.0 524.6 L603.3 525.7 L604.7 526.3 L606.1 526.0 L607.5 526.2 L608.8 525.9 L610.2 525.5 L611.6 525.2 L612.9 526.8 L614.3 527.4 L615.7 527.0 L617.1 527.8 L618.4 527.6 L619.8 527.3 L621.2 527.4 L622.6 527.5 L623.9 527.6 L625.3 528.2 L626.7 529.5 L628.0 529.2 L629.4 529.6 L630.8 530.0 L632.2 529.4 L633.5 530.2 L634.9 530.9 L636.3 531.1 L637.6 531.5 L639.0 531.7 L640.4 532.6 L641.8 532.6 L643.1 533.2 L644.5 534.0 L645.9 533.9 L647.2 534.0 L648.6 534.5 L650.0 535.5 L651.4 535.7 L652.7 536.0 L654.1 536.5 L655.5 537.6 L656.8 538.2 L658.2 538.5 L659.6 539.2 L661.0 539.6 L662.3 540.3 L663.7 540.7 L665.1 541.4 L666.5 541.7 L667.8 542.0 L669.2 543.6 L670.6 544.3 L671.9 544.5 L673.3 545.1 L674.7 545.3 L676.1 546.9 L677.4 546.8 L678.8 547.6 L680.2 548.2 L681.5 549.2 L682.9 549.4 L684.3 549.6 L685.7 550.5 L687.0 550.5 L688.4 551.5 L689.8 552.1 L691.1 552.6 L692.5 553.2 L693.9 553.9 L695.3 554.2 L696.6 554.4 L698.0 554.8 L699.4 555.2 L700.7 555.4 L702.1 555.8 L703.5 556.0 L704.9 556.3 L706.2 556.5 L707.6 557.1 L709.0 557.4 L710.3 557.8 L711.7 557.7 L713.1 557.4 L714.5 557.4 L715.8 557.6 L717.2 557.5 L718.6 557.5 L720.0 557.4 L721.3 557.3 L722.7 557.3 L724.1 557.4 L725.4 557.3 L726.8 557.2 L728.2 557.2 L729.6 557.3 L730.9 557.3 L732.3 557.4 L733.7 557.2 L735.0 557.2 L736.4 557.1 L737.8 557.2 L739.2 556.9 L740.5 557.1 L741.9 557.1 L743.3 557.0 L744.6 557.1 L746.0 556.7 L747.4 556.7 L748.8 556.8 L750.1 556.9 L751.5 556.9 L752.9 556.8 L754.2 556.7 L755.6 556.8 L757.0 556.6 L758.4 556.7 L759.7 556.4 L761.1 556.6 L762.5 556.5 L763.9 556.6 L765.2 556.5 L766.6 556.4 L768.0 556.4 L769.3 556.5 L770.7 556.1 L772.1 556.4 L773.5 556.3 L774.8 556.2 L776.2 556.4 L777.6 556.4 L778.9 556.2 L780.3 556.2 L781.7 556.0 L783.1 556.0 L784.4 556.1 L785.8 556.0 L785.8 562.9 L784.4 562.9 L783.1 563.1 L781.7 563.1 L780.3 563.3 L778.9 563.4 L777.6 563.4 L776.2 563.4 L774.8 563.4 L773.5 563.6 L772.1 563.6 L770.7 563.6 L769.3 563.8 L768.0 563.8 L766.6 563.8 L765.2 563.8 L763.9 564.0 L762.5 564.1 L761.1 564.2 L759.7 564.1 L758.4 564.2 L757.0 564.3 L755.6 564.2 L754.2 564.5 L752.9 564.4 L751.5 564.4 L750.1 564.5 L748.8 564.7 L747.4 564.7 L746.0 564.7 L744.6 564.7 L743.3 564.7 L741.9 564.9 L740.5 565.0 L739.2 565.0 L737.8 565.0 L736.4 565.0 L735.0 565.0 L733.7 565.0 L732.3 564.9 L730.9 565.1 L729.6 565.0 L728.2 565.1 L726.8 565.0 L725.4 565.0 L724.1 565.1 L722.7 564.9 L721.3 565.0 L720.0 564.9 L718.6 564.9 L717.2 564.8 L715.8 564.8 L714.5 564.6 L713.1 564.5 L711.7 564.4 L710.3 564.4 L709.0 564.2 L707.6 564.1 L706.2 564.0 L704.9 563.9 L703.5 563.8 L702.1 563.7 L700.7 563.7 L699.4 563.6 L698.0 563.6 L696.6 563.5 L695.3 563.4 L693.9 563.1 L692.5 563.0 L691.1 563.1 L689.8 562.9 L688.4 562.8 L687.0 562.6 L685.7 562.4 L684.3 561.9 L682.9 561.8 L681.5 561.5 L680.2 561.3 L678.8 560.8 L677.4 560.8 L676.1 560.7 L674.7 560.6 L673.3 560.3 L671.9 560.1 L670.6 559.7 L669.2 559.3 L667.8 559.5 L666.5 559.0 L665.1 558.6 L663.7 558.4 L662.3 558.1 L661.0 558.2 L659.6 558.1 L658.2 557.7 L656.8 557.6 L655.5 557.2 L654.1 556.9 L652.7 556.7 L651.4 556.6 L650.0 556.4 L648.6 555.8 L647.2 555.7 L645.9 555.3 L644.5 555.2 L643.1 555.4 L641.8 555.0 L640.4 554.7 L639.0 554.2 L637.6 554.5 L636.3 553.9 L634.9 553.9 L633.5 553.4 L632.2 553.4 L630.8 552.8 L629.4 552.9 L628.0 552.4 L626.7 552.8 L625.3 552.8 L623.9 552.5 L622.6 552.4 L621.2 552.7 L619.8 551.9 L618.4 552.4 L617.1 552.2 L615.7 552.0 L614.3 551.7 L612.9 551.7 L611.6 551.6 L610.2 551.5 L608.8 551.5 L607.5 551.5 L606.1 551.1 L604.7 551.2 L603.3 551.7 L602.0 550.7 L600.6 550.8 L599.2 550.5 L597.9 550.5 L596.5 549.7 L595.1 549.9 L593.7 549.7 L592.4 549.2 L591.0 549.5 L589.6 548.8 L588.3 548.6 L586.9 548.4 L585.5 547.8 L584.1 547.5 L582.8 547.4 L581.4 546.9 L580.0 546.6 L578.7 546.8 L577.3 546.9 L575.9 546.0 L574.5 545.6 L573.2 545.2 L571.8 545.1 L570.4 545.9 L569.0 544.2 L567.7 544.3 L566.3 542.9 L564.9 542.2 L563.6 541.6 L562.2 540.9 L560.8 540.0 L559.4 539.1 L558.1 538.1 L556.7 538.6 L555.3 537.8 L554.0 536.4 L552.6 536.1 L551.2 534.6 L549.8 533.7 L548.5 532.5 L547.1 531.5 L545.7 529.7 L544.4 529.0 L543.0 527.6 L541.6 526.4 L540.2 524.8 L538.9 523.3 L537.5 521.6 L536.1 518.2 L534.8 516.9 L533.4 515.2 L532.0 513.1 L530.6 510.7 L529.3 507.0 L527.9 505.2 L526.5 502.3 L525.2 498.3 L523.8 496.3 L522.4 493.2 L521.0 489.8 L519.7 487.2 L518.3 484.0 L516.9 481.9 L515.5 478.7 L514.2 476.9 L512.8 472.3 L511.4 471.1 L510.1 473.0 L508.7 470.8 L507.3 467.1 L505.9 469.5 L504.6 469.2 L503.2 465.0 L501.8 467.3 L500.5 466.7 L499.1 466.5 L497.7 467.4 L496.3 468.4 L495.0 469.1 L493.6 472.5 L492.2 471.4 L490.9 472.9 L489.5 475.2 L488.1 479.0 L486.7 481.8 L485.4 485.7 L484.0 488.0 L482.6 489.6 L481.3 492.6 L479.9 493.9 L478.5 498.4 L477.1 501.2 L475.8 504.5 L474.4 504.8 L473.0 507.2 L471.6 507.2 L470.3 511.8 L468.9 512.0 L467.5 514.2 L466.2 515.7 L464.8 516.8 L463.4 518.6 L462.0 519.4 L460.7 522.5 L459.3 522.5 L457.9 524.9 L456.6 524.7 L455.2 526.8 L453.8 529.0 L452.4 527.4 L451.1 530.2 L449.7 529.8 L448.3 531.0 L447.0 531.5 L445.6 532.6 L444.2 533.9 L442.8 534.1 L441.5 535.0 L440.1 536.6 L438.7 536.8 L437.4 538.2 L436.0 538.9 L434.6 540.0 L433.2 539.8 L431.9 541.1 L430.5 542.0 L429.1 542.7 L427.7 542.6 L426.4 543.1 L425.0 543.9 L423.6 543.9 L422.3 543.9 L420.9 544.7 L419.5 545.7 L418.1 545.7 L416.8 545.6 L415.4 546.3 L414.0 545.5 L412.7 545.9 L411.3 547.4 L409.9 546.7 L408.5 547.4 L407.2 547.8 L405.8 547.6 L404.4 548.1 L403.1 547.6 L401.7 548.0 L400.3 548.0 L398.9 548.7 L397.6 548.7 L396.2 549.1 L394.8 548.7 L393.5 549.4 L392.1 549.4 L390.7 550.0 L389.3 549.8 L388.0 549.9 L386.6 550.2 L385.2 550.7 L383.9 549.7 L382.5 550.5 L381.1 550.6 L379.7 550.6 L378.4 550.9 L377.0 550.8 L375.6 550.6 L374.2 551.1 L372.9 550.5 L371.5 550.5 L370.1 550.8 L368.8 550.3 L367.4 550.1 L366.0 550.2 L364.6 550.2 L363.3 550.4 L361.9 550.1 L360.5 550.2 L359.2 550.0 L357.8 549.1 L356.4 549.2 L355.0 548.7 L353.7 548.9 L352.3 548.3 L350.9 548.4 L349.6 547.9 L348.2 547.2 L346.8 547.9 L345.4 547.1 L344.1 547.1 L342.7 546.6 L341.3 546.1 L340.0 545.7 L338.6 545.9 L337.2 545.7 L335.8 545.0 L334.5 545.6 L333.1 545.2 L331.7 544.9 L330.3 545.5 L329.0 544.1 L327.6 543.8 L326.2 543.9 L324.9 543.5 L323.5 542.3 L322.1 542.1 L320.7 541.1 L319.4 542.3 L318.0 541.1 L316.6 541.6 L315.3 539.9 L313.9 540.0 L312.5 539.3 L311.1 539.7 L309.8 539.1 L308.4 539.4 L307.0 538.7 L305.7 538.5 L304.3 537.9 L302.9 538.0 L301.5 537.1 L300.2 536.6 L298.8 536.2 L297.4 535.6 L296.1 535.1 L294.7 534.5 L293.3 533.8 L291.9 534.3 L290.6 533.9 L289.2 532.2 L287.8 532.3 L286.5 532.5 L285.1 531.2 L283.7 531.3 L282.3 530.4 L281.0 530.7 L279.6 530.4 L278.2 529.1 L276.8 530.0 L275.5 529.6 L274.1 528.9 L272.7 530.0 L271.4 529.3 L270.0 529.6 L268.6 530.0 L267.2 529.5 L265.9 529.4 L264.5 530.0 L263.1 528.1 L261.8 528.3 L260.4 529.8 L259.0 529.7 L257.6 530.8 L256.3 530.4 L254.9 530.6 L253.5 531.8 L252.2 532.6 L250.8 531.4 L249.4 531.4 L248.0 534.1 L246.7 534.7 L245.3 534.9 L243.9 535.3 L242.6 536.6 L241.2 536.4 L239.8 537.6 L238.4 539.1 L237.1 540.0 L235.7 541.0 L234.3 541.5 L232.9 542.6 L231.6 543.0 L230.2 543.7 L228.8 544.7 L227.5 546.4 L226.1 547.7 L224.7 549.3 L223.3 550.3 L222.0 551.4 L220.6 551.8 L219.2 553.2 L217.9 553.4 L216.5 554.3 L215.1 554.5 L213.7 555.1 L212.4 555.3 L211.0 556.0 L209.6 556.6 L208.3 557.1 L206.9 557.6 L205.5 557.7 L204.1 557.9 L202.8 558.2 L201.4 558.1 L200.0 558.5 L198.7 558.5 L197.3 558.9 L195.9 558.7 L194.5 558.8 L193.2 558.8 L191.8 558.9 L190.4 559.4 L189.1 559.3 L187.7 559.6 L186.3 559.4 L184.9 559.6 L183.6 559.7 L182.2 559.9 L180.8 559.9 L179.4 560.0 L178.1 559.8 L176.7 559.7 L175.3 559.8 L174.0 559.4 L172.6 559.2 L171.2 559.4 L169.8 559.4 L168.5 559.2 L167.1 558.9 L165.7 558.9 L164.4 558.7 L163.0 558.8 L161.6 558.6 L160.2 558.7 L158.9 558.5 L157.5 558.5 L156.1 558.6 L154.8 558.5 L153.4 558.3 L152.0 558.0 L150.6 558.0 L149.3 557.9 L147.9 557.3 L146.5 557.0 L145.2 556.5 L143.8 556.2 L142.4 555.8 L141.0 555.6 L139.7 555.0 L138.3 554.5 L136.9 554.5 L135.5 553.8 L134.2 552.8 L132.8 552.7 L131.4 552.2 L130.1 552.2 L128.7 551.4 L127.3 551.0 L125.9 550.4 L124.6 550.4 L123.2 550.2 L121.8 549.9 L120.5 549.4 L119.1 549.2 L117.7 548.8 L116.3 547.9 L115.0 548.4 L113.6 548.6 L112.2 548.5 L110.9 549.1 L109.5 548.9 L108.1 549.3 L106.7 549.4 L105.4 550.9 L104.0 552.1 L102.6 553.3 L101.3 554.4 L99.9 555.9 L98.5 557.8 L97.1 558.9 L95.8 560.5 L94.4 562.0 L93.0 563.5 L91.6 564.9 L90.3 566.5 L88.9 566.9 L87.5 567.0 L86.2 567.1 L84.8 567.2 L83.4 567.3 L82.0 567.4 L80.7 567.5 L79.3 567.6 L77.9 567.7 L76.6 567.8 L75.2 567.9 L73.8 568.0 L72.4 568.1 L71.1 568.2 L69.7 568.2Z" fill="#1f77b4" fill-opacity="0.100" stroke="#1f77b4" stroke-opacity="0.100" stroke-width="1.39" stroke-linejoin="round"/>
<path d="M69.7 568.3 L71.1 568.1 L72.4 568.0 L73.8 567.9 L75.2 567.7 L76.6 567.6 L77.9 567.5 L79.3 567.3 L80.7 567.2 L82.0 567.1 L83.4 567.0 L84.8 566.8 L86.2 566.7 L87.5 566.6 L88.9 564.5 L90.3 561.8 L91.6 558.5 L93.0 556.2 L94.4 553.0 L95.8 550.8 L97.1 547.9 L98.5 544.5 L99.9 542.0 L101.3 539.0 L102.6 535.0 L104.0 532.7 L105.4 529.9 L106.7 528.5 L108.1 527.0 L109.5 527.9 L110.9 527.2 L112.2 528.6 L113.6 527.7 L115.0 529.1 L116.3 528.4 L117.7 530.5 L119.1 530.7 L120.5 532.2 L121.8 532.8 L123.2 533.9 L124.6 534.8 L125.9 535.8 L127.3 536.7 L128.7 537.5 L130.1 538.1 L131.4 539.5 L132.8 540.0 L134.2 541.1 L135.5 541.5 L136.9 543.1 L138.3 543.7 L139.7 545.2 L141.0 545.6 L142.4 546.6 L143.8 547.4 L145.2 548.5 L146.5 549.0 L147.9 549.5 L149.3 549.3 L150.6 549.4 L152.0 549.5 L153.4 550.4 L154.8 549.8 L156.1 550.4 L157.5 550.9 L158.9 551.1 L160.2 551.0 L161.6 551.4 L163.0 550.7 L164.4 551.2 L165.7 550.9 L167.1 550.9 L168.5 550.8 L169.8 551.1 L171.2 550.9 L172.6 551.0 L174.0 550.4 L175.3 551.0 L176.7 550.6 L178.1 551.0 L179.4 550.3 L180.8 550.4 L182.2 550.2 L183.6 550.7 L184.9 550.2 L186.3 550.6 L187.7 549.9 L189.1 549.8 L190.4 549.5 L191.8 549.7 L193.2 549.5 L194.5 549.7 L195.9 549.8 L197.3 549.6 L198.7 549.2 L200.0 548.7 L201.4 548.4 L202.8 548.6 L204.1 547.9 L205.5 547.9 L206.9 546.9 L208.3 547.2 L209.6 546.4 L211.0 546.3 L212.4 545.9 L213.7 545.8 L215.1 545.8 L216.5 545.5 L217.9 545.0 L219.2 545.1 L220.6 545.1 L222.0 545.2 L223.3 544.2 L224.7 544.6 L226.1 542.4 L227.5 541.4 L228.8 539.6 L230.2 538.3 L231.6 536.1 L232.9 534.4 L234.3 532.6 L235.7 531.2 L237.1 529.5 L238.4 527.7 L239.8 526.1 L241.2 525.9 L242.6 522.8 L243.9 521.6 L245.3 518.4 L246.7 517.8 L248.0 514.0 L249.4 516.4 L250.8 512.0 L252.2 510.6 L253.5 508.9 L254.9 508.3 L256.3 507.8 L257.6 506.6 L259.0 503.7 L260.4 506.5 L261.8 504.5 L263.1 504.3 L264.5 500.2 L265.9 502.1 L267.2 500.8 L268.6 501.4 L270.0 500.5 L271.4 500.9 L272.7 501.7 L274.1 502.7 L275.5 501.9 L276.8 503.2 L278.2 503.4 L279.6 503.1 L281.0 503.0 L282.3 504.7 L283.7 503.7 L285.1 506.8 L286.5 505.7 L287.8 506.9 L289.2 508.4 L290.6 509.3 L291.9 511.0 L293.3 511.9 L294.7 512.1 L296.1 513.8 L297.4 514.3 L298.8 515.1 L300.2 514.0 L301.5 517.1 L302.9 516.6 L304.3 518.4 L305.7 518.7 L307.0 520.0 L308.4 520.0 L309.8 521.1 L311.1 520.4 L312.5 522.4 L313.9 522.1 L315.3 522.3 L316.6 522.2 L318.0 523.9 L319.4 523.5 L320.7 526.3 L322.1 524.9 L323.5 525.8 L324.9 525.4 L326.2 526.8 L327.6 526.5 L329.0 527.2 L330.3 527.0 L331.7 528.3 L333.1 528.0 L334.5 528.9 L335.8 528.7 L337.2 529.9 L338.6 529.8 L340.0 529.9 L341.3 530.5 L342.7 531.0 L344.1 531.0 L345.4 532.5 L346.8 532.6 L348.2 533.3 L349.6 533.8 L350.9 534.9 L352.3 535.1 L353.7 535.6 L355.0 534.5 L356.4 535.2 L357.8 535.3 L359.2 537.2 L360.5 536.0 L361.9 537.1 L363.3 535.7 L364.6 536.9 L366.0 536.5 L367.4 537.4 L368.8 536.8 L370.1 537.2 L371.5 537.2 L372.9 537.9 L374.2 537.2 L375.6 538.2 L377.0 537.8 L378.4 538.1 L379.7 537.0 L381.1 537.6 L382.5 537.5 L383.9 537.1 L385.2 536.0 L386.6 535.8 L388.0 535.4 L389.3 535.6 L390.7 534.0 L392.1 534.4 L393.5 534.2 L394.8 533.5 L396.2 533.0 L397.6 531.9 L398.9 532.2 L400.3 532.3 L401.7 531.1 L403.1 531.0 L404.4 530.6 L405.8 530.4 L407.2 529.9 L408.5 530.3 L409.9 528.6 L411.3 529.2 L412.7 528.1 L414.0 528.4 L415.4 528.0 L416.8 527.7 L418.1 527.2 L419.5 525.9 L420.9 525.0 L422.3 525.3 L423.6 523.9 L425.0 523.4 L426.4 522.1 L427.7 521.0 L429.1 520.6 L430.5 518.9 L431.9 517.0 L433.2 516.9 L434.6 516.1 L436.0 514.0 L437.4 512.8 L438.7 512.7 L440.1 508.5 L441.5 509.1 L442.8 506.2 L444.2 507.9 L445.6 504.4 L447.0 504.7 L448.3 503.0 L449.7 502.5 L451.1 498.6 L452.4 498.5 L453.8 496.3 L455.2 494.3 L456.6 494.5 L457.9 492.3 L459.3 488.6 L460.7 489.8 L462.0 487.6 L463.4 486.7 L464.8 484.5 L466.2 484.0 L467.5 480.9 L468.9 481.1 L470.3 478.0 L471.6 475.1 L473.0 472.3 L474.4 473.6 L475.8 467.4 L477.1 470.9 L478.5 461.4 L479.9 459.4 L481.3 454.1 L482.6 448.7 L484.0 447.3 L485.4 446.7 L486.7 436.8 L488.1 436.4 L489.5 425.9 L490.9 424.2 L492.2 416.2 L493.6 416.7 L495.0 416.2 L496.3 418.9 L497.7 418.7 L499.1 419.5 L500.5 422.0 L501.8 420.6 L503.2 418.6 L504.6 420.4 L505.9 419.1 L507.3 427.1 L508.7 426.6 L510.1 429.5 L511.4 428.6 L512.8 440.4 L514.2 441.0 L515.5 445.7 L516.9 445.2 L518.3 449.2 L519.7 453.5 L521.0 458.4 L522.4 460.8 L523.8 464.0 L525.2 466.6 L526.5 474.4 L527.9 470.8 L529.3 474.4 L530.6 477.7 L532.0 480.4 L533.4 480.6 L534.8 484.2 L536.1 486.9 L537.5 491.1 L538.9 492.7 L540.2 495.0 L541.6 497.5 L543.0 500.6 L544.4 501.7 L545.7 504.3 L547.1 505.9 L548.5 509.3 L549.8 510.9 L551.2 512.7 L552.6 512.9 L554.0 515.3 L555.3 515.3 L556.7 515.8 L558.1 518.6 L559.4 520.1 L560.8 521.3 L562.2 522.4 L563.6 524.7 L564.9 525.4 L566.3 525.6 L567.7 528.1 L569.0 527.6 L570.4 530.0 L571.8 529.4 L573.2 531.0 L574.5 531.6 L575.9 533.9 L577.3 532.9 L578.7 534.3 L580.0 534.0 L581.4 535.2 L582.8 535.6 L584.1 537.0 L585.5 537.0 L586.9 537.9 L588.3 537.4 L589.6 539.7 L591.0 538.4 L592.4 539.1 L593.7 539.2 L595.1 539.3 L596.5 539.4 L597.9 539.6 L599.2 539.2 L600.6 540.4 L602.0 540.3 L603.3 540.4 L604.7 539.3 L606.1 541.0 L607.5 540.3 L608.8 541.0 L610.2 540.2 L611.6 540.5 L612.9 540.4 L614.3 541.0 L615.7 541.3 L617.1 541.7 L618.4 541.1 L619.8 542.1 L621.2 541.8 L622.6 541.7 L623.9 541.3 L625.3 542.7 L626.7 542.0 L628.0 542.7 L629.4 542.9 L630.8 543.9 L632.2 542.7 L633.5 543.5 L634.9 543.8 L636.3 543.9 L637.6 544.2 L639.0 545.7 L640.4 544.8 L641.8 545.4 L643.1 545.2 L644.5 545.9 L645.9 546.0 L647.2 547.3 L648.6 547.2 L650.0 547.6 L651.4 548.2 L652.7 548.9 L654.1 548.7 L655.5 549.7 L656.8 549.5 L658.2 550.7 L659.6 550.4 L661.0 551.9 L662.3 551.5 L663.7 552.5 L665.1 552.6 L666.5 553.3 L667.8 553.4 L669.2 554.5 L670.6 554.6 L671.9 555.0 L673.3 555.4 L674.7 556.0 L676.1 556.1 L677.4 556.9 L678.8 557.1 L680.2 557.6 L681.5 557.8 L682.9 558.1 L684.3 558.5 L685.7 559.0 L687.0 559.0 L688.4 559.8 L689.8 559.7 L691.1 560.2 L692.5 560.4 L693.9 560.7 L695.3 560.9 L696.6 561.2 L698.0 561.3 L699.4 561.7 L700.7 561.9 L702.1 562.0 L703.5 562.1 L704.9 562.4 L706.2 562.4 L707.6 562.7 L709.0 562.5 L710.3 562.7 L711.7 562.7 L713.1 562.8 L714.5 562.8 L715.8 562.8 L717.2 562.7 L718.6 563.0 L720.0 562.8 L721.3 562.9 L722.7 562.9 L724.1 563.0 L725.4 563.0 L726.8 562.8 L728.2 562.7 L729.6 562.8 L730.9 562.5 L732.3 562.4 L733.7 562.3 L735.0 562.2 L736.4 562.0 L737.8 562.1 L739.2 560.8 L740.5 560.3 L741.9 560.4 L743.3 560.6 L744.6 560.3 L746.0 560.4 L747.4 560.4 L748.8 560.4 L750.1 560.4 L751.5 560.4 L752.9 560.4 L754.2 560.4 L755.6 560.4 L757.0 560.4 L758.4 560.4 L759.7 560.4 L761.1 560.4 L762.5 560.4 L763.9 560.4 L765.2 560.4 L766.6 560.4 L768.0 560.4 L769.3 560.4 L770.7 560.4 L772.1 560.4 L773.5 560.4 L774.8 560.4 L776.2 560.4 L777.6 560.4 L778.9 560.4 L780.3 560.4 L781.7 560.4 L783.1 560.4 L784.4 560.4 L785.8 560.4" fill="none" stroke="#1f77b4" stroke-width="2.08" stroke-linejoin="round" stroke-linecap="square"/>
<line x1="746.9" x2="746.9" y1="567.50" y2="15.00" stroke="#1f77b4" stroke-opacity="0.5" stroke-width="2.08" stroke-dasharray="7.7 3.33"/>
<g fill="#ff7f0e"><circle cx="69.7" cy="568.2" r="4.8"/><circle cx="72.4" cy="568.2" r="4.8"/><circle cx="75.2" cy="568.2" r="4.8"/><circle cx="77.9" cy="568.2" r="4.8"/><circle cx="80.7" cy="568.2" r="4.8"/><circle cx="83.4" cy="568.2" r="4.8"/><circle cx="84.8" cy="568.2" r="4.8"/><circle cx="87.5" cy="568.2" r="4.8"/><circle cx="90.3" cy="565.7" r="4.8"/><circle cx="92.0" cy="561.0" r="4.8"/><circle cx="93.0" cy="564.7" r="4.8"/><circle cx="95.8" cy="564.8" r="4.8"/><circle cx="98.5" cy="560.5" r="4.8"/><circle cx="100.0" cy="558.0" r="4.8"/><circle cx="101.3" cy="556.3" r="4.8"/><circle cx="104.0" cy="557.2" r="4.8"/><circle cx="106.0" cy="544.0" r="4.8"/><circle cx="106.7" cy="556.8" r="4.8"/><circle cx="108.0" cy="552.0" r="4.8"/><circle cx="108.1" cy="554.6" r="4.8"/><circle cx="110.9" cy="550.0" r="4.8"/><circle cx="111.0" cy="557.0" r="4.8"/><circle cx="112.2" cy="551.9" r="4.8"/><circle cx="113.6" cy="553.9" r="4.8"/><circle cx="115.0" cy="557.1" r="4.8"/><circle cx="115.0" cy="536.0" r="4.8"/><circle cx="117.0" cy="545.0" r="4.8"/><circle cx="117.7" cy="554.2" r="4.8"/><circle cx="119.1" cy="549.5" r="4.8"/><circle cx="120.0" cy="552.0" r="4.8"/><circle cx="122.0" cy="561.0" r="4.8"/><circle cx="123.2" cy="554.0" r="4.8"/><circle cx="124.6" cy="558.4" r="4.8"/><circle cx="126.0" cy="541.0" r="4.8"/><circle cx="126.0" cy="557.0" r="4.8"/><circle cx="127.3" cy="554.1" r="4.8"/><circle cx="129.0" cy="536.0" r="4.8"/><circle cx="130.0" cy="552.0" r="4.8"/><circle cx="131.4" cy="554.7" r="4.8"/><circle cx="133.0" cy="544.0" r="4.8"/><circle cx="134.0" cy="558.0" r="4.8"/><circle cx="135.5" cy="560.7" r="4.8"/><circle cx="136.0" cy="540.0" r="4.8"/><circle cx="136.9" cy="555.6" r="4.8"/><circle cx="139.7" cy="553.1" r="4.8"/><circle cx="140.0" cy="551.0" r="4.8"/><circle cx="140.0" cy="564.2" r="4.8"/><circle cx="142.4" cy="554.4" r="4.8"/><circle cx="143.8" cy="559.5" r="4.8"/><circle cx="144.0" cy="556.0" r="4.8"/><circle cx="146.5" cy="554.2" r="4.8"/><circle cx="147.9" cy="555.7" r="4.8"/><circle cx="148.0" cy="542.0" r="4.8"/><circle cx="150.0" cy="550.0" r="4.8"/><circle cx="150.6" cy="556.9" r="4.8"/><circle cx="153.4" cy="556.9" r="4.8"/><circle cx="154.0" cy="560.0" r="4.8"/><circle cx="156.0" cy="555.0" r="4.8"/><circle cx="157.5" cy="553.1" r="4.8"/><circle cx="160.0" cy="548.0" r="4.8"/><circle cx="160.2" cy="556.7" r="4.8"/><circle cx="163.0" cy="561.5" r="4.8"/><circle cx="165.7" cy="556.7" r="4.8"/><circle cx="166.0" cy="560.0" r="4.8"/><circle cx="168.0" cy="552.0" r="4.8"/><circle cx="168.5" cy="555.8" r="4.8"/><circle cx="169.8" cy="557.7" r="4.8"/><circle cx="172.0" cy="558.0" r="4.8"/><circle cx="174.0" cy="559.5" r="4.8"/><circle cx="174.0" cy="549.0" r="4.8"/><circle cx="175.3" cy="554.9" r="4.8"/><circle cx="176.7" cy="556.9" r="4.8"/><circle cx="178.0" cy="559.0" r="4.8"/><circle cx="180.0" cy="554.0" r="4.8"/><circle cx="180.8" cy="556.9" r="4.8"/><circle cx="182.2" cy="560.7" r="4.8"/><circle cx="184.0" cy="552.0" r="4.8"/><circle cx="186.0" cy="558.0" r="4.8"/><circle cx="186.3" cy="554.9" r="4.8"/><circle cx="187.7" cy="556.8" r="4.8"/><circle cx="190.0" cy="555.0" r="4.8"/><circle cx="190.4" cy="557.6" r="4.8"/><circle cx="192.0" cy="562.0" r="4.8"/><circle cx="193.2" cy="558.5" r="4.8"/><circle cx="195.9" cy="553.6" r="4.8"/><circle cx="196.0" cy="549.0" r="4.8"/><circle cx="200.0" cy="557.0" r="4.8"/><circle cx="201.4" cy="560.6" r="4.8"/><circle cx="202.0" cy="552.0" r="4.8"/><circle cx="202.8" cy="557.5" r="4.8"/><circle cx="204.0" cy="550.0" r="4.8"/><circle cx="204.1" cy="556.0" r="4.8"/><circle cx="206.0" cy="554.0" r="4.8"/><circle cx="208.0" cy="547.0" r="4.8"/><circle cx="208.3" cy="552.4" r="4.8"/><circle cx="209.6" cy="549.1" r="4.8"/><circle cx="211.0" cy="554.0" r="4.8"/><circle cx="212.0" cy="552.0" r="4.8"/><circle cx="213.0" cy="549.0" r="4.8"/><circle cx="215.1" cy="543.8" r="4.8"/><circle cx="217.0" cy="540.0" r="4.8"/><circle cx="218.0" cy="531.0" r="4.8"/><circle cx="219.0" cy="549.0" r="4.8"/><circle cx="222.0" cy="527.0" r="4.8"/><circle cx="222.0" cy="540.0" r="4.8"/><circle cx="227.0" cy="532.0" r="4.8"/><circle cx="228.6" cy="521.0" r="4.8"/><circle cx="232.0" cy="527.0" r="4.8"/><circle cx="232.6" cy="505.0" r="4.8"/><circle cx="233.4" cy="494.4" r="4.8"/><circle cx="238.0" cy="508.0" r="4.8"/><circle cx="238.0" cy="521.0" r="4.8"/><circle cx="239.6" cy="535.0" r="4.8"/><circle cx="243.0" cy="495.0" r="4.8"/><circle cx="244.0" cy="509.0" r="4.8"/><circle cx="244.4" cy="473.4" r="4.8"/><circle cx="248.0" cy="514.0" r="4.8"/><circle cx="249.0" cy="489.0" r="4.8"/><circle cx="250.0" cy="500.0" r="4.8"/><circle cx="253.0" cy="485.0" r="4.8"/><circle cx="255.4" cy="468.0" r="4.8"/><circle cx="258.0" cy="496.0" r="4.8"/><circle cx="258.4" cy="516.0" r="4.8"/><circle cx="262.6" cy="476.0" r="4.8"/><circle cx="264.4" cy="466.0" r="4.8"/><circle cx="266.0" cy="487.0" r="4.8"/><circle cx="268.0" cy="508.0" r="4.8"/><circle cx="269.6" cy="479.0" r="4.8"/><circle cx="270.0" cy="499.0" r="4.8"/><circle cx="274.0" cy="482.0" r="4.8"/><circle cx="276.0" cy="490.0" r="4.8"/><circle cx="277.0" cy="501.0" r="4.8"/><circle cx="277.0" cy="520.0" r="4.8"/><circle cx="279.0" cy="515.0" r="4.8"/><circle cx="280.0" cy="487.0" r="4.8"/><circle cx="282.0" cy="500.0" r="4.8"/><circle cx="283.0" cy="482.0" r="4.8"/><circle cx="284.0" cy="474.0" r="4.8"/><circle cx="285.0" cy="516.0" r="4.8"/><circle cx="288.0" cy="501.0" r="4.8"/><circle cx="289.0" cy="492.0" r="4.8"/><circle cx="290.0" cy="516.0" r="4.8"/><circle cx="294.0" cy="498.0" r="4.8"/><circle cx="296.0" cy="516.0" r="4.8"/><circle cx="296.0" cy="529.0" r="4.8"/><circle cx="300.0" cy="508.0" r="4.8"/><circle cx="300.0" cy="519.0" r="4.8"/><circle cx="300.2" cy="513.4" r="4.8"/><circle cx="301.5" cy="510.2" r="4.8"/><circle cx="303.0" cy="508.0" r="4.8"/><circle cx="305.0" cy="531.0" r="4.8"/><circle cx="305.7" cy="520.7" r="4.8"/><circle cx="306.0" cy="516.0" r="4.8"/><circle cx="311.0" cy="525.0" r="4.8"/><circle cx="312.0" cy="516.0" r="4.8"/><circle cx="314.0" cy="543.0" r="4.8"/><circle cx="315.3" cy="521.8" r="4.8"/><circle cx="316.0" cy="519.0" r="4.8"/><circle cx="316.0" cy="536.0" r="4.8"/><circle cx="319.4" cy="520.4" r="4.8"/><circle cx="320.0" cy="512.0" r="4.8"/><circle cx="320.0" cy="526.0" r="4.8"/><circle cx="322.1" cy="519.9" r="4.8"/><circle cx="324.0" cy="512.0" r="4.8"/><circle cx="325.4" cy="545.0" r="4.8"/><circle cx="326.2" cy="530.4" r="4.8"/><circle cx="328.0" cy="519.0" r="4.8"/><circle cx="330.0" cy="527.0" r="4.8"/><circle cx="330.3" cy="523.5" r="4.8"/><circle cx="332.0" cy="512.0" r="4.8"/><circle cx="334.5" cy="522.8" r="4.8"/><circle cx="336.0" cy="536.0" r="4.8"/><circle cx="338.0" cy="520.0" r="4.8"/><circle cx="340.0" cy="524.8" r="4.8"/><circle cx="341.3" cy="521.9" r="4.8"/><circle cx="342.0" cy="511.0" r="4.8"/><circle cx="344.0" cy="528.0" r="4.8"/><circle cx="345.4" cy="530.9" r="4.8"/><circle cx="346.0" cy="534.0" r="4.8"/><circle cx="348.0" cy="519.0" r="4.8"/><circle cx="348.2" cy="524.4" r="4.8"/><circle cx="350.0" cy="539.0" r="4.8"/><circle cx="352.0" cy="527.0" r="4.8"/><circle cx="352.0" cy="534.0" r="4.8"/><circle cx="354.0" cy="544.0" r="4.8"/><circle cx="355.0" cy="534.0" r="4.8"/><circle cx="356.0" cy="524.0" r="4.8"/><circle cx="356.4" cy="530.9" r="4.8"/><circle cx="357.0" cy="521.0" r="4.8"/><circle cx="360.0" cy="540.0" r="4.8"/><circle cx="362.0" cy="528.0" r="4.8"/><circle cx="364.0" cy="542.0" r="4.8"/><circle cx="366.0" cy="534.0" r="4.8"/><circle cx="367.4" cy="527.9" r="4.8"/><circle cx="368.8" cy="525.2" r="4.8"/><circle cx="369.0" cy="523.0" r="4.8"/><circle cx="370.0" cy="538.0" r="4.8"/><circle cx="370.1" cy="530.5" r="4.8"/><circle cx="371.5" cy="525.7" r="4.8"/><circle cx="373.0" cy="529.0" r="4.8"/><circle cx="374.2" cy="533.8" r="4.8"/><circle cx="376.0" cy="535.0" r="4.8"/><circle cx="377.0" cy="527.7" r="4.8"/><circle cx="378.0" cy="523.0" r="4.8"/><circle cx="379.7" cy="528.7" r="4.8"/><circle cx="381.1" cy="530.6" r="4.8"/><circle cx="383.0" cy="528.0" r="4.8"/><circle cx="383.0" cy="542.0" r="4.8"/><circle cx="386.0" cy="534.0" r="4.8"/><circle cx="387.0" cy="520.0" r="4.8"/><circle cx="388.6" cy="510.0" r="4.8"/><circle cx="389.3" cy="526.7" r="4.8"/><circle cx="392.0" cy="527.0" r="4.8"/><circle cx="394.0" cy="536.0" r="4.8"/><circle cx="394.8" cy="533.2" r="4.8"/><circle cx="396.2" cy="525.8" r="4.8"/><circle cx="398.0" cy="519.0" r="4.8"/><circle cx="398.0" cy="529.0" r="4.8"/><circle cx="399.4" cy="503.0" r="4.8"/><circle cx="402.0" cy="538.0" r="4.8"/><circle cx="404.0" cy="532.0" r="4.8"/><circle cx="406.0" cy="514.0" r="4.8"/><circle cx="408.0" cy="509.0" r="4.8"/><circle cx="410.0" cy="547.0" r="4.8"/><circle cx="412.0" cy="541.0" r="4.8"/><circle cx="413.0" cy="476.0" r="4.8"/><circle cx="415.0" cy="520.0" r="4.8"/><circle cx="417.0" cy="504.4" r="4.8"/><circle cx="420.0" cy="524.4" r="4.8"/><circle cx="421.0" cy="542.4" r="4.8"/><circle cx="423.4" cy="500.0" r="4.8"/><circle cx="423.6" cy="476.0" r="4.8"/><circle cx="426.0" cy="495.0" r="4.8"/><circle cx="428.4" cy="436.2" r="4.8"/><circle cx="431.0" cy="500.0" r="4.8"/><circle cx="431.0" cy="519.0" r="4.8"/><circle cx="431.0" cy="527.0" r="4.8"/><circle cx="432.6" cy="490.0" r="4.8"/><circle cx="435.6" cy="492.0" r="4.8"/><circle cx="436.0" cy="502.4" r="4.8"/><circle cx="439.0" cy="504.0" r="4.8"/><circle cx="440.0" cy="525.6" r="4.8"/><circle cx="442.4" cy="465.0" r="4.8"/><circle cx="444.4" cy="445.4" r="4.8"/><circle cx="446.4" cy="432.2" r="4.8"/><circle cx="447.0" cy="460.0" r="4.8"/><circle cx="449.0" cy="525.6" r="4.8"/><circle cx="451.0" cy="455.0" r="4.8"/><circle cx="454.0" cy="451.0" r="4.8"/><circle cx="454.4" cy="406.4" r="4.8"/><circle cx="456.4" cy="435.4" r="4.8"/><circle cx="457.4" cy="430.6" r="4.8"/><circle cx="458.0" cy="466.0" r="4.8"/><circle cx="460.4" cy="489.0" r="4.8"/><circle cx="461.4" cy="410.4" r="4.8"/><circle cx="463.4" cy="427.4" r="4.8"/><circle cx="464.4" cy="402.0" r="4.8"/><circle cx="465.4" cy="395.4" r="4.8"/><circle cx="467.4" cy="445.2" r="4.8"/><circle cx="468.0" cy="450.0" r="4.8"/><circle cx="468.4" cy="448.0" r="4.8"/><circle cx="469.6" cy="493.0" r="4.8"/><circle cx="471.6" cy="375.2" r="4.8"/><circle cx="472.4" cy="403.2" r="4.8"/><circle cx="474.4" cy="349.4" r="4.8"/><circle cx="475.4" cy="439.4" r="4.8"/><circle cx="477.0" cy="481.0" r="4.8"/><circle cx="478.6" cy="493.0" r="4.8"/><circle cx="479.4" cy="484.4" r="4.8"/><circle cx="480.4" cy="367.4" r="4.8"/><circle cx="482.4" cy="375.2" r="4.8"/><circle cx="483.4" cy="319.2" r="4.8"/><circle cx="484.2" cy="331.2" r="4.8"/><circle cx="486.4" cy="408.0" r="4.8"/><circle cx="487.4" cy="445.2" r="4.8"/><circle cx="489.0" cy="458.0" r="4.8"/><circle cx="490.4" cy="353.0" r="4.8"/><circle cx="491.4" cy="404.0" r="4.8"/><circle cx="493.2" cy="360.0" r="4.8"/><circle cx="494.6" cy="285.4" r="4.8"/><circle cx="495.4" cy="314.2" r="4.8"/><circle cx="497.4" cy="394.4" r="4.8"/><circle cx="498.4" cy="409.2" r="4.8"/><circle cx="500.4" cy="372.0" r="4.8"/><circle cx="501.0" cy="385.0" r="4.8"/><circle cx="502.4" cy="376.4" r="4.8"/><circle cx="504.2" cy="359.2" r="4.8"/><circle cx="505.4" cy="386.0" r="4.8"/><circle cx="506.4" cy="433.2" r="4.8"/><circle cx="508.4" cy="463.2" r="4.8"/><circle cx="509.4" cy="406.4" r="4.8"/><circle cx="511.4" cy="396.4" r="4.8"/><circle cx="513.0" cy="390.4" r="4.8"/><circle cx="515.4" cy="377.4" r="4.8"/><circle cx="516.4" cy="466.4" r="4.8"/><circle cx="517.4" cy="485.4" r="4.8"/><circle cx="519.4" cy="389.4" r="4.8"/><circle cx="520.4" cy="432.4" r="4.8"/><circle cx="522.4" cy="412.2" r="4.8"/><circle cx="523.4" cy="428.2" r="4.8"/><circle cx="524.4" cy="433.6" r="4.8"/><circle cx="526.4" cy="492.4" r="4.8"/><circle cx="527.4" cy="504.4" r="4.8"/><circle cx="528.4" cy="462.0" r="4.8"/><circle cx="531.4" cy="447.0" r="4.8"/><circle cx="533.4" cy="464.4" r="4.8"/><circle cx="534.4" cy="473.0" r="4.8"/><circle cx="537.4" cy="492.4" r="4.8"/><circle cx="537.4" cy="511.4" r="4.8"/><circle cx="541.4" cy="479.0" r="4.8"/><circle cx="542.4" cy="487.0" r="4.8"/><circle cx="545.4" cy="527.4" r="4.8"/><circle cx="546.4" cy="524.4" r="4.8"/><circle cx="548.0" cy="507.4" r="4.8"/><circle cx="550.0" cy="492.4" r="4.8"/><circle cx="554.0" cy="496.0" r="4.8"/><circle cx="554.0" cy="531.4" r="4.8"/><circle cx="556.0" cy="536.4" r="4.8"/><circle cx="557.4" cy="488.0" r="4.8"/><circle cx="559.6" cy="499.4" r="4.8"/><circle cx="562.2" cy="520.7" r="4.8"/><circle cx="562.4" cy="496.4" r="4.8"/><circle cx="564.4" cy="520.0" r="4.8"/><circle cx="566.0" cy="524.0" r="4.8"/><circle cx="566.3" cy="528.0" r="4.8"/><circle cx="567.0" cy="501.0" r="4.8"/><circle cx="567.7" cy="534.9" r="4.8"/><circle cx="568.4" cy="510.4" r="4.8"/><circle cx="569.0" cy="527.1" r="4.8"/><circle cx="570.4" cy="507.0" r="4.8"/><circle cx="571.4" cy="520.0" r="4.8"/><circle cx="573.2" cy="532.1" r="4.8"/><circle cx="574.5" cy="534.3" r="4.8"/><circle cx="576.4" cy="532.0" r="4.8"/><circle cx="576.4" cy="537.0" r="4.8"/><circle cx="578.7" cy="537.6" r="4.8"/><circle cx="580.0" cy="533.4" r="4.8"/><circle cx="582.4" cy="542.4" r="4.8"/><circle cx="583.4" cy="538.0" r="4.8"/><circle cx="584.4" cy="551.0" r="4.8"/><circle cx="585.5" cy="543.7" r="4.8"/><circle cx="586.9" cy="539.6" r="4.8"/><circle cx="587.4" cy="526.0" r="4.8"/><circle cx="589.0" cy="520.0" r="4.8"/><circle cx="591.0" cy="533.5" r="4.8"/><circle cx="592.4" cy="537.2" r="4.8"/><circle cx="594.0" cy="536.0" r="4.8"/><circle cx="594.4" cy="554.4" r="4.8"/><circle cx="596.5" cy="545.5" r="4.8"/><circle cx="597.4" cy="543.0" r="4.8"/><circle cx="598.0" cy="526.4" r="4.8"/><circle cx="599.2" cy="541.4" r="4.8"/><circle cx="600.6" cy="539.5" r="4.8"/><circle cx="602.0" cy="537.0" r="4.8"/><circle cx="603.4" cy="551.0" r="4.8"/><circle cx="607.5" cy="541.0" r="4.8"/><circle cx="608.0" cy="530.4" r="4.8"/><circle cx="608.0" cy="544.0" r="4.8"/><circle cx="612.0" cy="538.0" r="4.8"/><circle cx="612.9" cy="542.6" r="4.8"/><circle cx="613.4" cy="555.4" r="4.8"/><circle cx="615.7" cy="541.9" r="4.8"/><circle cx="617.0" cy="540.0" r="4.8"/><circle cx="619.8" cy="537.6" r="4.8"/><circle cx="620.0" cy="534.0" r="4.8"/><circle cx="622.0" cy="546.0" r="4.8"/><circle cx="622.6" cy="542.3" r="4.8"/><circle cx="624.4" cy="527.4" r="4.8"/><circle cx="625.3" cy="544.0" r="4.8"/><circle cx="628.0" cy="542.7" r="4.8"/><circle cx="629.4" cy="537.5" r="4.8"/><circle cx="630.0" cy="534.0" r="4.8"/><circle cx="632.0" cy="549.0" r="4.8"/><circle cx="633.0" cy="542.0" r="4.8"/><circle cx="634.9" cy="544.3" r="4.8"/><circle cx="638.0" cy="529.0" r="4.8"/><circle cx="640.4" cy="543.4" r="4.8"/><circle cx="642.0" cy="536.0" r="4.8"/><circle cx="642.0" cy="548.0" r="4.8"/><circle cx="643.0" cy="538.0" r="4.8"/><circle cx="643.0" cy="550.0" r="4.8"/><circle cx="644.5" cy="547.6" r="4.8"/><circle cx="645.9" cy="545.6" r="4.8"/><circle cx="647.2" cy="544.0" r="4.8"/><circle cx="648.0" cy="537.0" r="4.8"/><circle cx="650.0" cy="545.8" r="4.8"/><circle cx="652.0" cy="546.0" r="4.8"/><circle cx="653.0" cy="549.0" r="4.8"/><circle cx="657.0" cy="543.0" r="4.8"/><circle cx="658.0" cy="548.0" r="4.8"/><circle cx="660.0" cy="556.0" r="4.8"/><circle cx="662.0" cy="551.0" r="4.8"/><circle cx="662.3" cy="553.7" r="4.8"/><circle cx="666.0" cy="545.0" r="4.8"/><circle cx="666.0" cy="558.0" r="4.8"/><circle cx="666.5" cy="550.7" r="4.8"/><circle cx="672.0" cy="558.0" r="4.8"/><circle cx="675.0" cy="551.0" r="4.8"/><circle cx="676.1" cy="556.2" r="4.8"/><circle cx="678.8" cy="557.7" r="4.8"/><circle cx="681.0" cy="554.0" r="4.8"/><circle cx="682.0" cy="561.0" r="4.8"/><circle cx="684.3" cy="558.4" r="4.8"/><circle cx="687.0" cy="553.0" r="4.8"/><circle cx="689.0" cy="564.2" r="4.8"/><circle cx="692.0" cy="558.0" r="4.8"/><circle cx="695.3" cy="560.8" r="4.8"/><circle cx="696.0" cy="564.2" r="4.8"/><circle cx="698.0" cy="559.0" r="4.8"/><circle cx="700.7" cy="564.7" r="4.8"/><circle cx="704.0" cy="565.2" r="4.8"/><circle cx="705.0" cy="559.0" r="4.8"/><circle cx="707.6" cy="562.5" r="4.8"/><circle cx="710.0" cy="565.2" r="4.8"/><circle cx="712.0" cy="559.0" r="4.8"/><circle cx="716.0" cy="565.2" r="4.8"/><circle cx="719.0" cy="560.0" r="4.8"/><circle cx="720.0" cy="564.9" r="4.8"/><circle cx="722.0" cy="565.2" r="4.8"/><circle cx="724.1" cy="561.8" r="4.8"/><circle cx="725.0" cy="559.0" r="4.8"/><circle cx="728.0" cy="564.2" r="4.8"/><circle cx="730.9" cy="562.3" r="4.8"/><circle cx="731.4" cy="556.0" r="4.8"/><circle cx="732.3" cy="560.2" r="4.8"/><circle cx="734.0" cy="562.0" r="4.8"/><circle cx="735.0" cy="559.6" r="4.8"/><circle cx="738.0" cy="568.2" r="4.8"/><circle cx="740.4" cy="539.0" r="4.8"/><circle cx="741.4" cy="555.0" r="4.8"/><circle cx="742.4" cy="548.0" r="4.8"/><circle cx="748.4" cy="547.0" r="4.8"/><circle cx="752.4" cy="539.0" r="4.8"/><circle cx="753.4" cy="545.0" r="4.8"/><circle cx="755.4" cy="568.2" r="4.8"/><circle cx="758.4" cy="498.4" r="4.8"/><circle cx="759.4" cy="535.2" r="4.8"/><circle cx="760.4" cy="521.2" r="4.8"/><circle cx="762.4" cy="523.2" r="4.8"/><circle cx="763.4" cy="515.2" r="4.8"/><circle cx="765.4" cy="568.2" r="4.8"/><circle cx="767.4" cy="438.2" r="4.8"/><circle cx="770.4" cy="487.2" r="4.8"/><circle cx="771.4" cy="470.4" r="4.8"/><circle cx="772.4" cy="491.2" r="4.8"/><circle cx="774.4" cy="568.2" r="4.8"/><circle cx="777.4" cy="437.2" r="4.8"/><circle cx="778.6" cy="373.4" r="4.8"/><circle cx="780.4" cy="465.2" r="4.8"/><circle cx="781.4" cy="443.2" r="4.8"/><circle cx="783.4" cy="568.2" r="4.8"/></g>
</g>
<g clip-path="url(#c2)">
<path d="M69.7 1145.2 L71.1 1145.1 L72.4 1145.1 L73.8 1145.0 L75.2 1144.9 L76.6 1144.8 L77.9 1144.7 L79.3 1144.6 L80.7 1144.5 L82.0 1144.4 L83.4 1144.3 L84.8 1144.2 L86.2 1144.1 L87.5 1144.0 L88.9 1143.6 L90.3 1143.3 L91.6 1142.7 L93.0 1139.5 L94.4 1131.3 L95.8 1122.5 L97.1 1114.7 L98.5 1103.7 L99.9 1097.5 L101.3 1080.8 L102.6 1070.0 L104.0 1061.2 L105.4 1046.3 L106.7 1032.2 L108.1 1029.3 L109.5 1017.3 L110.9 1003.1 L112.2 997.3 L113.6 984.8 L115.0 963.6 L116.3 970.0 L117.7 964.4 L119.1 938.0 L120.5 938.8 L121.8 931.8 L123.2 930.9 L124.6 927.7 L125.9 927.3 L127.3 916.7 L128.7 927.4 L130.1 920.8 L131.4 927.4 L132.8 936.5 L134.2 933.1 L135.5 918.3 L136.9 915.0 L138.3 898.2 L139.7 901.0 L141.0 912.6 L142.4 925.6 L143.8 916.4 L145.2 919.8 L146.5 925.2 L147.9 940.2 L149.3 934.7 L150.6 941.0 L152.0 936.8 L153.4 933.7 L154.8 948.9 L156.1 948.5 L157.5 950.9 L158.9 944.5 L160.2 952.6 L161.6 959.5 L163.0 961.2 L164.4 958.5 L165.7 969.2 L167.1 963.5 L168.5 973.0 L169.8 960.9 L171.2 968.3 L172.6 977.1 L174.0 975.7 L175.3 981.7 L176.7 974.2 L178.1 982.7 L179.4 986.3 L180.8 975.2 L182.2 984.8 L183.6 983.3 L184.9 995.3 L186.3 991.1 L187.7 990.4 L189.1 996.9 L190.4 996.3 L191.8 1000.3 L193.2 993.4 L194.5 990.8 L195.9 993.3 L197.3 988.3 L198.7 989.1 L200.0 983.4 L201.4 988.7 L202.8 988.7 L204.1 990.4 L205.5 981.7 L206.9 990.6 L208.3 997.9 L209.6 995.9 L211.0 998.0 L212.4 992.0 L213.7 1001.2 L215.1 998.4 L216.5 1001.0 L217.9 998.0 L219.2 998.4 L220.6 1001.7 L222.0 998.8 L223.3 1002.8 L224.7 994.1 L226.1 989.5 L227.5 989.5 L228.8 989.0 L230.2 980.4 L231.6 981.9 L232.9 983.2 L234.3 978.0 L235.7 972.6 L237.1 965.1 L238.4 945.5 L239.8 947.5 L241.2 943.9 L242.6 938.4 L243.9 929.4 L245.3 927.2 L246.7 912.5 L248.0 900.6 L249.4 894.9 L250.8 891.3 L252.2 870.2 L253.5 875.1 L254.9 850.2 L256.3 827.5 L257.6 828.9 L259.0 817.0 L260.4 804.8 L261.8 788.7 L263.1 799.9 L264.5 760.9 L265.9 771.1 L267.2 759.2 L268.6 745.0 L270.0 743.6 L271.4 735.1 L272.7 701.4 L274.1 708.8 L275.5 724.7 L276.8 711.2 L278.2 701.2 L279.6 692.8 L281.0 681.3 L282.3 689.7 L283.7 695.2 L285.1 707.0 L286.5 676.0 L287.8 674.0 L289.2 685.7 L290.6 691.2 L291.9 666.3 L293.3 660.9 L294.7 666.9 L296.1 669.0 L297.4 662.6 L298.8 670.2 L300.2 653.9 L301.5 671.6 L302.9 667.9 L304.3 695.7 L305.7 669.6 L307.0 685.9 L308.4 671.7 L309.8 690.6 L311.1 708.9 L312.5 705.0 L313.9 700.5 L315.3 696.7 L316.6 696.0 L318.0 688.1 L319.4 718.8 L320.7 709.6 L322.1 701.7 L323.5 713.4 L324.9 705.6 L326.2 722.4 L327.6 741.0 L329.0 747.4 L330.3 744.7 L331.7 760.1 L333.1 750.7 L334.5 770.7 L335.8 771.8 L337.2 774.1 L338.6 750.3 L340.0 788.1 L341.3 766.2 L342.7 752.7 L344.1 770.6 L345.4 781.3 L346.8 788.6 L348.2 786.6 L349.6 792.0 L350.9 825.5 L352.3 803.1 L353.7 800.8 L355.0 810.1 L356.4 826.0 L357.8 813.4 L359.2 792.3 L360.5 820.4 L361.9 822.1 L363.3 830.3 L364.6 847.2 L366.0 835.4 L367.4 849.8 L368.8 854.7 L370.1 864.6 L371.5 847.6 L372.9 863.8 L374.2 843.0 L375.6 876.2 L377.0 876.8 L378.4 872.7 L379.7 858.4 L381.1 885.5 L382.5 885.2 L383.9 878.7 L385.2 868.7 L386.6 865.3 L388.0 877.9 L389.3 871.9 L390.7 884.8 L392.1 893.4 L393.5 887.5 L394.8 884.0 L396.2 886.7 L397.6 877.0 L398.9 884.5 L400.3 885.8 L401.7 892.3 L403.1 887.5 L404.4 872.0 L405.8 867.4 L407.2 870.9 L408.5 882.6 L409.9 866.4 L411.3 864.5 L412.7 866.4 L414.0 867.6 L415.4 868.8 L416.8 846.8 L418.1 850.3 L419.5 860.9 L420.9 847.4 L422.3 821.5 L423.6 845.2 L425.0 828.3 L426.4 829.7 L427.7 843.5 L429.1 829.7 L430.5 845.2 L431.9 835.4 L433.2 811.9 L434.6 820.3 L436.0 809.6 L437.4 775.0 L438.7 770.6 L440.1 794.5 L441.5 765.8 L442.8 765.1 L444.2 753.5 L445.6 770.2 L447.0 756.5 L448.3 744.8 L449.7 726.6 L451.1 738.7 L452.4 721.9 L453.8 723.8 L455.2 689.9 L456.6 718.6 L457.9 683.4 L459.3 701.9 L460.7 674.0 L462.0 680.6 L463.4 632.6 L464.8 636.0 L466.2 617.5 L467.5 643.8 L468.9 646.3 L470.3 620.7 L471.6 631.6 L473.0 607.4 L474.4 609.2 L475.8 588.6 L477.1 601.4 L478.5 586.3 L479.9 581.6 L481.3 566.3 L482.6 579.7 L484.0 588.2 L485.4 569.4 L486.7 560.5 L488.1 547.8 L489.5 553.3 L490.9 564.9 L492.2 542.7 L493.6 514.8 L495.0 526.3 L496.3 535.6 L497.7 529.9 L499.1 521.3 L500.5 528.9 L501.8 546.3 L503.2 544.6 L504.6 559.2 L505.9 555.6 L507.3 540.8 L508.7 568.9 L510.1 540.3 L511.4 549.3 L512.8 546.4 L514.2 554.3 L515.5 550.2 L516.9 567.0 L518.3 565.4 L519.7 543.2 L521.0 565.7 L522.4 526.9 L523.8 567.6 L525.2 562.7 L526.5 554.0 L527.9 561.5 L529.3 548.0 L530.6 555.9 L532.0 543.8 L533.4 571.7 L534.8 549.1 L536.1 566.8 L537.5 537.3 L538.9 538.2 L540.2 559.1 L541.6 540.1 L543.0 538.2 L544.4 536.6 L545.7 536.9 L547.1 540.2 L548.5 539.5 L549.8 528.4 L551.2 569.7 L552.6 574.1 L554.0 569.7 L555.3 575.8 L556.7 568.7 L558.1 616.1 L559.4 556.6 L560.8 572.8 L562.2 561.2 L563.6 603.1 L564.9 578.8 L566.3 570.7 L567.7 570.1 L569.0 570.6 L570.4 587.9 L571.8 594.6 L573.2 576.0 L574.5 588.5 L575.9 618.3 L577.3 624.8 L578.7 647.0 L580.0 662.1 L581.4 688.9 L582.8 685.5 L584.1 700.1 L585.5 687.3 L586.9 700.2 L588.3 715.2 L589.6 730.8 L591.0 711.2 L592.4 710.3 L593.7 711.7 L595.1 735.5 L596.5 747.3 L597.9 767.7 L599.2 788.4 L600.6 765.4 L602.0 763.6 L603.3 790.6 L604.7 803.3 L606.1 813.6 L607.5 815.0 L608.8 831.4 L610.2 835.5 L611.6 826.2 L612.9 843.1 L614.3 849.6 L615.7 836.0 L617.1 842.5 L618.4 856.7 L619.8 858.4 L621.2 859.2 L622.6 851.3 L623.9 853.0 L625.3 858.1 L626.7 875.8 L628.0 886.1 L629.4 886.5 L630.8 895.7 L632.2 889.8 L633.5 912.7 L634.9 902.0 L636.3 912.5 L637.6 898.6 L639.0 908.2 L640.4 906.8 L641.8 904.6 L643.1 921.3 L644.5 899.3 L645.9 919.3 L647.2 916.0 L648.6 928.1 L650.0 926.0 L651.4 931.2 L652.7 924.4 L654.1 938.6 L655.5 947.7 L656.8 938.3 L658.2 927.8 L659.6 940.8 L661.0 950.7 L662.3 948.9 L663.7 947.7 L665.1 960.0 L666.5 958.2 L667.8 949.1 L669.2 954.1 L670.6 956.2 L671.9 960.3 L673.3 963.4 L674.7 966.5 L676.1 982.3 L677.4 970.7 L678.8 976.6 L680.2 984.1 L681.5 977.4 L682.9 976.0 L684.3 997.7 L685.7 984.2 L687.0 992.1 L688.4 994.2 L689.8 1004.0 L691.1 1002.9 L692.5 999.7 L693.9 998.7 L695.3 1011.6 L696.6 1006.9 L698.0 1017.4 L699.4 1019.5 L700.7 1012.3 L702.1 1021.3 L703.5 1028.7 L704.9 1032.7 L706.2 1034.6 L707.6 1037.8 L709.0 1042.4 L710.3 1043.3 L711.7 1041.7 L713.1 1045.3 L714.5 1046.0 L715.8 1053.4 L717.2 1058.1 L718.6 1055.8 L720.0 1059.8 L721.3 1056.6 L722.7 1057.9 L724.1 1053.0 L725.4 1057.5 L726.8 1060.5 L728.2 1060.1 L729.6 1060.9 L730.9 1065.1 L732.3 1062.4 L733.7 1066.0 L735.0 1065.6 L736.4 1067.8 L737.8 1066.0 L739.2 1063.4 L740.5 1066.6 L741.9 1070.2 L743.3 1065.5 L744.6 1068.7 L746.0 1071.5 L747.4 1070.4 L748.8 1071.6 L750.1 1070.9 L751.5 1073.7 L752.9 1074.5 L754.2 1071.7 L755.6 1073.4 L757.0 1074.8 L758.4 1072.0 L759.7 1078.0 L761.1 1069.5 L762.5 1071.6 L763.9 1072.9 L765.2 1069.1 L766.6 1068.9 L768.0 1073.8 L769.3 1070.5 L770.7 1070.9 L772.1 1069.5 L773.5 1071.6 L774.8 1068.4 L776.2 1068.8 L777.6 1070.8 L778.9 1075.7 L780.3 1070.8 L781.7 1068.8 L783.1 1067.8 L784.4 1066.7 L785.8 1068.9 L785.8 1145.0 L784.4 1145.0 L783.1 1145.0 L781.7 1145.0 L780.3 1145.0 L778.9 1144.9 L777.6 1144.9 L776.2 1145.0 L774.8 1144.9 L773.5 1144.9 L772.1 1144.9 L770.7 1144.9 L769.3 1144.9 L768.0 1144.9 L766.6 1144.9 L765.2 1144.9 L763.9 1144.9 L762.5 1144.9 L761.1 1144.9 L759.7 1144.8 L758.4 1144.9 L757.0 1144.8 L755.6 1144.8 L754.2 1144.8 L752.9 1144.8 L751.5 1144.8 L750.1 1144.7 L748.8 1144.8 L747.4 1144.7 L746.0 1144.8 L744.6 1144.7 L743.3 1144.7 L741.9 1144.7 L740.5 1144.8 L739.2 1144.7 L737.8 1144.7 L736.4 1144.7 L735.0 1144.7 L733.7 1144.8 L732.3 1144.7 L730.9 1144.7 L729.6 1144.6 L728.2 1144.7 L726.8 1144.7 L725.4 1144.6 L724.1 1144.6 L722.7 1144.6 L721.3 1144.5 L720.0 1144.5 L718.6 1144.7 L717.2 1144.6 L715.8 1144.6 L714.5 1144.6 L713.1 1144.6 L711.7 1144.5 L710.3 1144.6 L709.0 1144.5 L707.6 1144.6 L706.2 1144.6 L704.9 1144.4 L703.5 1144.5 L702.1 1144.5 L700.7 1144.5 L699.4 1144.6 L698.0 1144.4 L696.6 1144.4 L695.3 1144.3 L693.9 1144.5 L692.5 1144.4 L691.1 1144.2 L689.8 1144.1 L688.4 1144.1 L687.0 1144.1 L685.7 1144.0 L684.3 1144.0 L682.9 1144.1 L681.5 1143.9 L680.2 1143.8 L678.8 1143.9 L677.4 1143.9 L676.1 1143.8 L674.7 1143.8 L673.3 1143.7 L671.9 1143.6 L670.6 1143.6 L669.2 1143.6 L667.8 1143.7 L666.5 1143.6 L665.1 1143.5 L663.7 1143.3 L662.3 1143.5 L661.0 1143.4 L659.6 1143.3 L658.2 1143.4 L656.8 1143.2 L655.5 1143.1 L654.1 1143.0 L652.7 1142.9 L651.4 1142.9 L650.0 1142.9 L648.6 1143.0 L647.2 1142.8 L645.9 1142.9 L644.5 1142.6 L643.1 1142.4 L641.8 1142.7 L640.4 1142.6 L639.0 1142.7 L637.6 1142.5 L636.3 1142.4 L634.9 1142.4 L633.5 1142.4 L632.2 1142.2 L630.8 1142.4 L629.4 1142.3 L628.0 1142.2 L626.7 1142.2 L625.3 1142.1 L623.9 1142.4 L622.6 1141.8 L621.2 1141.9 L619.8 1142.0 L618.4 1142.2 L617.1 1141.4 L615.7 1141.3 L614.3 1142.4 L612.9 1141.3 L611.6 1141.6 L610.2 1141.5 L608.8 1141.7 L607.5 1141.6 L606.1 1141.7 L604.7 1141.4 L603.3 1141.6 L602.0 1141.2 L600.6 1141.5 L599.2 1141.1 L597.9 1141.1 L596.5 1140.6 L595.1 1140.7 L593.7 1140.5 L592.4 1140.3 L591.0 1140.5 L589.6 1140.3 L588.3 1139.6 L586.9 1139.5 L585.5 1139.2 L584.1 1139.2 L582.8 1138.4 L581.4 1138.6 L580.0 1138.6 L578.7 1138.2 L577.3 1138.3 L575.9 1137.4 L574.5 1137.9 L573.2 1138.8 L571.8 1138.2 L570.4 1138.0 L569.0 1136.8 L567.7 1137.8 L566.3 1136.5 L564.9 1136.5 L563.6 1136.5 L562.2 1136.4 L560.8 1135.2 L559.4 1135.0 L558.1 1134.3 L556.7 1133.5 L555.3 1133.4 L554.0 1132.9 L552.6 1133.2 L551.2 1133.6 L549.8 1133.0 L548.5 1132.6 L547.1 1130.0 L545.7 1131.6 L544.4 1131.0 L543.0 1130.8 L541.6 1128.6 L540.2 1130.8 L538.9 1128.5 L537.5 1129.1 L536.1 1127.1 L534.8 1125.4 L533.4 1128.0 L532.0 1126.0 L530.6 1124.5 L529.3 1125.3 L527.9 1123.3 L526.5 1125.9 L525.2 1125.4 L523.8 1123.9 L522.4 1122.2 L521.0 1122.6 L519.7 1123.7 L518.3 1122.6 L516.9 1125.1 L515.5 1123.9 L514.2 1125.1 L512.8 1124.5 L511.4 1126.0 L510.1 1123.2 L508.7 1124.6 L507.3 1127.5 L505.9 1126.6 L504.6 1127.6 L503.2 1128.1 L501.8 1127.4 L500.5 1128.5 L499.1 1128.6 L497.7 1129.0 L496.3 1130.7 L495.0 1130.5 L493.6 1130.5 L492.2 1128.4 L490.9 1131.2 L489.5 1130.7 L488.1 1130.9 L486.7 1132.1 L485.4 1132.3 L484.0 1132.4 L482.6 1132.9 L481.3 1132.1 L479.9 1132.0 L478.5 1131.4 L477.1 1133.6 L475.8 1132.8 L474.4 1133.6 L473.0 1133.8 L471.6 1132.7 L470.3 1133.6 L468.9 1133.6 L467.5 1133.7 L466.2 1132.8 L464.8 1132.9 L463.4 1133.5 L462.0 1132.8 L460.7 1134.4 L459.3 1135.9 L457.9 1135.5 L456.6 1133.9 L455.2 1134.2 L453.8 1133.8 L452.4 1133.4 L451.1 1134.2 L449.7 1132.9 L448.3 1134.7 L447.0 1134.3 L445.6 1134.2 L444.2 1134.8 L442.8 1135.2 L441.5 1135.8 L440.1 1134.7 L438.7 1135.7 L437.4 1136.9 L436.0 1137.5 L434.6 1138.2 L433.2 1137.6 L431.9 1138.4 L430.5 1138.2 L429.1 1137.5 L427.7 1138.2 L426.4 1138.7 L425.0 1137.8 L423.6 1138.3 L422.3 1138.8 L420.9 1139.5 L419.5 1139.0 L418.1 1139.3 L416.8 1139.4 L415.4 1139.4 L414.0 1139.8 L412.7 1139.2 L411.3 1139.8 L409.9 1140.2 L408.5 1139.9 L407.2 1140.6 L405.8 1140.5 L404.4 1140.1 L403.1 1140.4 L401.7 1140.5 L400.3 1139.9 L398.9 1140.0 L397.6 1140.9 L396.2 1140.1 L394.8 1140.5 L393.5 1140.3 L392.1 1140.4 L390.7 1140.4 L389.3 1140.9 L388.0 1140.6 L386.6 1140.6 L385.2 1140.9 L383.9 1140.7 L382.5 1141.1 L381.1 1141.4 L379.7 1141.3 L378.4 1141.0 L377.0 1141.2 L375.6 1141.2 L374.2 1141.6 L372.9 1141.4 L371.5 1140.8 L370.1 1140.9 L368.8 1140.9 L367.4 1140.3 L366.0 1140.1 L364.6 1140.6 L363.3 1140.0 L361.9 1140.3 L360.5 1140.6 L359.2 1139.9 L357.8 1139.3 L356.4 1139.1 L355.0 1139.3 L353.7 1139.7 L352.3 1139.4 L350.9 1138.7 L349.6 1138.2 L348.2 1139.1 L346.8 1138.4 L345.4 1138.4 L344.1 1138.6 L342.7 1138.6 L341.3 1138.1 L340.0 1138.5 L338.6 1137.7 L337.2 1137.3 L335.8 1137.6 L334.5 1137.4 L333.1 1137.5 L331.7 1136.6 L330.3 1136.3 L329.0 1136.3 L327.6 1135.7 L326.2 1135.9 L324.9 1136.2 L323.5 1136.0 L322.1 1135.9 L320.7 1136.5 L319.4 1135.3 L318.0 1135.1 L316.6 1135.7 L315.3 1135.7 L313.9 1135.3 L312.5 1135.1 L311.1 1135.1 L309.8 1134.8 L308.4 1134.3 L307.0 1135.5 L305.7 1135.1 L304.3 1134.6 L302.9 1134.4 L301.5 1135.3 L300.2 1135.6 L298.8 1135.6 L297.4 1135.0 L296.1 1134.2 L294.7 1134.1 L293.3 1134.4 L291.9 1134.1 L290.6 1134.5 L289.2 1136.0 L287.8 1135.5 L286.5 1135.9 L285.1 1136.1 L283.7 1135.8 L282.3 1135.8 L281.0 1135.4 L279.6 1135.3 L278.2 1136.7 L276.8 1136.1 L275.5 1136.1 L274.1 1136.6 L272.7 1136.8 L271.4 1136.8 L270.0 1137.3 L268.6 1137.3 L267.2 1138.0 L265.9 1137.6 L264.5 1138.1 L263.1 1138.4 L261.8 1138.7 L260.4 1138.5 L259.0 1139.3 L257.6 1139.0 L256.3 1138.5 L254.9 1139.0 L253.5 1138.4 L252.2 1138.4 L250.8 1138.7 L249.4 1138.8 L248.0 1138.4 L246.7 1138.9 L245.3 1138.8 L243.9 1138.2 L242.6 1139.0 L241.2 1139.0 L239.8 1138.7 L238.4 1138.7 L237.1 1138.6 L235.7 1138.9 L234.3 1138.8 L232.9 1138.3 L231.6 1138.5 L230.2 1138.7 L228.8 1139.0 L227.5 1138.5 L226.1 1138.3 L224.7 1139.3 L223.3 1138.7 L222.0 1139.5 L220.6 1139.2 L219.2 1139.1 L217.9 1139.7 L216.5 1138.9 L215.1 1139.2 L213.7 1139.2 L212.4 1139.7 L211.0 1139.4 L209.6 1139.7 L208.3 1139.1 L206.9 1139.0 L205.5 1139.5 L204.1 1139.5 L202.8 1139.6 L201.4 1139.4 L200.0 1139.8 L198.7 1139.5 L197.3 1138.9 L195.9 1139.8 L194.5 1139.8 L193.2 1139.9 L191.8 1140.3 L190.4 1140.0 L189.1 1139.9 L187.7 1140.1 L186.3 1140.0 L184.9 1140.2 L183.6 1140.4 L182.2 1140.1 L180.8 1139.9 L179.4 1139.9 L178.1 1139.8 L176.7 1139.8 L175.3 1139.4 L174.0 1139.4 L172.6 1139.5 L171.2 1139.6 L169.8 1139.6 L168.5 1139.4 L167.1 1139.6 L165.7 1139.3 L164.4 1139.1 L163.0 1139.0 L161.6 1139.0 L160.2 1139.4 L158.9 1139.9 L157.5 1139.3 L156.1 1139.6 L154.8 1138.8 L153.4 1139.6 L152.0 1138.7 L150.6 1138.3 L149.3 1139.0 L147.9 1139.7 L146.5 1139.3 L145.2 1139.0 L143.8 1138.8 L142.4 1139.2 L141.0 1138.9 L139.7 1138.6 L138.3 1138.5 L136.9 1138.7 L135.5 1138.9 L134.2 1138.9 L132.8 1139.2 L131.4 1139.0 L130.1 1139.7 L128.7 1139.0 L127.3 1139.5 L125.9 1139.9 L124.6 1139.9 L123.2 1139.6 L121.8 1139.9 L120.5 1140.3 L119.1 1140.7 L117.7 1140.7 L116.3 1140.7 L115.0 1140.5 L113.6 1141.1 L112.2 1141.2 L110.9 1141.2 L109.5 1141.6 L108.1 1141.6 L106.7 1142.6 L105.4 1143.1 L104.0 1143.5 L102.6 1144.1 L101.3 1144.6 L99.9 1145.0 L98.5 1145.0 L97.1 1145.0 L95.8 1145.0 L94.4 1145.0 L93.0 1145.0 L91.6 1145.1 L90.3 1145.1 L88.9 1145.1 L87.5 1145.1 L86.2 1145.1 L84.8 1145.1 L83.4 1145.1 L82.0 1145.1 L80.7 1145.2 L79.3 1145.2 L77.9 1145.2 L76.6 1145.2 L75.2 1145.2 L73.8 1145.2 L72.4 1145.2 L71.1 1145.2 L69.7 1145.2Z" fill="#1f77b4" fill-opacity="0.100" stroke="#1f77b4" stroke-opacity="0.100" stroke-width="1.39" stroke-linejoin="round"/>
<path d="M69.7 1145.7 L71.1 1145.6 L72.4 1145.6 L73.8 1145.5 L75.2 1145.4 L76.6 1145.3 L77.9 1145.2 L79.3 1145.1 L80.7 1145.0 L82.0 1144.9 L83.4 1144.8 L84.8 1144.7 L86.2 1144.6 L87.5 1144.5 L88.9 1144.1 L90.3 1143.9 L91.6 1143.5 L93.0 1143.0 L94.4 1142.7 L95.8 1137.5 L97.1 1129.2 L98.5 1121.0 L99.9 1109.4 L101.3 1102.1 L102.6 1092.7 L104.0 1086.1 L105.4 1077.6 L106.7 1071.0 L108.1 1060.7 L109.5 1052.0 L110.9 1043.8 L112.2 1038.1 L113.6 1035.9 L115.0 1029.6 L116.3 1024.1 L117.7 1018.2 L119.1 1014.1 L120.5 1015.5 L121.8 1014.1 L123.2 1010.8 L124.6 1001.5 L125.9 1001.6 L127.3 1002.5 L128.7 1000.1 L130.1 994.5 L131.4 994.6 L132.8 995.2 L134.2 1002.4 L135.5 995.4 L136.9 999.1 L138.3 994.2 L139.7 1001.6 L141.0 1000.9 L142.4 998.5 L143.8 1000.1 L145.2 1003.1 L146.5 1003.3 L147.9 1007.2 L149.3 1005.6 L150.6 1007.1 L152.0 1004.7 L153.4 1012.5 L154.8 1011.8 L156.1 1015.4 L157.5 1015.8 L158.9 1016.0 L160.2 1019.4 L161.6 1017.0 L163.0 1022.3 L164.4 1019.5 L165.7 1021.6 L167.1 1027.9 L168.5 1024.5 L169.8 1023.6 L171.2 1024.8 L172.6 1030.2 L174.0 1030.4 L175.3 1028.6 L176.7 1031.4 L178.1 1033.8 L179.4 1033.9 L180.8 1032.9 L182.2 1034.9 L183.6 1034.5 L184.9 1034.0 L186.3 1038.8 L187.7 1039.7 L189.1 1039.4 L190.4 1041.8 L191.8 1036.9 L193.2 1038.9 L194.5 1037.0 L195.9 1043.0 L197.3 1040.5 L198.7 1037.9 L200.0 1040.0 L201.4 1040.7 L202.8 1041.3 L204.1 1039.7 L205.5 1035.8 L206.9 1036.8 L208.3 1035.5 L209.6 1039.4 L211.0 1033.5 L212.4 1035.0 L213.7 1032.6 L215.1 1034.9 L216.5 1037.3 L217.9 1035.8 L219.2 1035.3 L220.6 1037.5 L222.0 1039.5 L223.3 1037.6 L224.7 1035.4 L226.1 1032.4 L227.5 1033.2 L228.8 1033.1 L230.2 1030.2 L231.6 1027.8 L232.9 1025.2 L234.3 1021.6 L235.7 1015.5 L237.1 1013.0 L238.4 1013.9 L239.8 1008.2 L241.2 1005.9 L242.6 1005.7 L243.9 997.6 L245.3 990.0 L246.7 988.9 L248.0 983.4 L249.4 976.5 L250.8 966.8 L252.2 981.5 L253.5 970.2 L254.9 961.9 L256.3 953.5 L257.6 942.2 L259.0 938.3 L260.4 932.0 L261.8 924.9 L263.1 915.2 L264.5 900.5 L265.9 887.7 L267.2 887.9 L268.6 869.7 L270.0 875.3 L271.4 871.1 L272.7 866.6 L274.1 859.6 L275.5 871.6 L276.8 852.2 L278.2 845.8 L279.6 848.1 L281.0 831.5 L282.3 841.1 L283.7 826.9 L285.1 826.7 L286.5 839.3 L287.8 835.4 L289.2 824.7 L290.6 825.2 L291.9 826.3 L293.3 836.9 L294.7 840.1 L296.1 846.4 L297.4 832.9 L298.8 832.3 L300.2 828.9 L301.5 833.6 L302.9 842.8 L304.3 843.8 L305.7 854.5 L307.0 849.7 L308.4 846.4 L309.8 854.8 L311.1 848.5 L312.5 865.7 L313.9 866.6 L315.3 859.4 L316.6 871.9 L318.0 863.3 L319.4 866.3 L320.7 871.7 L322.1 877.0 L323.5 865.5 L324.9 870.6 L326.2 884.2 L327.6 883.0 L329.0 883.1 L330.3 896.0 L331.7 890.0 L333.1 895.2 L334.5 893.8 L335.8 897.5 L337.2 907.3 L338.6 899.7 L340.0 905.7 L341.3 912.1 L342.7 913.2 L344.1 913.1 L345.4 914.1 L346.8 921.6 L348.2 929.0 L349.6 921.3 L350.9 929.7 L352.3 925.6 L353.7 936.6 L355.0 936.2 L356.4 943.2 L357.8 939.9 L359.2 935.6 L360.5 939.0 L361.9 940.3 L363.3 947.3 L364.6 950.2 L366.0 956.4 L367.4 953.7 L368.8 955.4 L370.1 960.8 L371.5 957.3 L372.9 962.3 L374.2 957.2 L375.6 959.8 L377.0 958.9 L378.4 968.4 L379.7 975.3 L381.1 970.2 L382.5 963.5 L383.9 970.0 L385.2 963.9 L386.6 969.0 L388.0 972.2 L389.3 973.2 L390.7 968.3 L392.1 972.6 L393.5 970.7 L394.8 968.0 L396.2 969.2 L397.6 970.7 L398.9 972.9 L400.3 968.1 L401.7 962.5 L403.1 966.1 L404.4 968.5 L405.8 965.9 L407.2 968.2 L408.5 962.5 L409.9 969.5 L411.3 962.8 L412.7 965.3 L414.0 959.6 L415.4 955.3 L416.8 959.6 L418.1 953.8 L419.5 946.1 L420.9 957.7 L422.3 952.5 L423.6 951.4 L425.0 951.4 L426.4 940.9 L427.7 940.7 L429.1 940.4 L430.5 936.4 L431.9 931.7 L433.2 931.4 L434.6 922.8 L436.0 913.8 L437.4 908.7 L438.7 915.5 L440.1 911.8 L441.5 905.6 L442.8 901.6 L444.2 900.0 L445.6 888.2 L447.0 874.1 L448.3 886.1 L449.7 893.9 L451.1 877.7 L452.4 879.4 L453.8 869.9 L455.2 876.2 L456.6 874.6 L457.9 862.1 L459.3 854.4 L460.7 862.9 L462.0 846.8 L463.4 829.5 L464.8 822.8 L466.2 822.6 L467.5 816.1 L468.9 813.0 L470.3 814.7 L471.6 797.9 L473.0 793.7 L474.4 771.7 L475.8 745.0 L477.1 744.2 L478.5 741.0 L479.9 721.3 L481.3 733.8 L482.6 733.6 L484.0 719.4 L485.4 710.6 L486.7 709.1 L488.1 686.7 L489.5 679.7 L490.9 676.8 L492.2 668.6 L493.6 633.8 L495.0 628.0 L496.3 617.5 L497.7 612.7 L499.1 593.8 L500.5 577.2 L501.8 568.2 L503.2 552.6 L504.6 575.3 L505.9 604.4 L507.3 567.0 L508.7 579.4 L510.1 550.0 L511.4 550.1 L512.8 546.9 L514.2 554.8 L515.5 550.7 L516.9 583.7 L518.3 584.3 L519.7 581.2 L521.0 566.2 L522.4 553.7 L523.8 568.1 L525.2 563.2 L526.5 560.5 L527.9 562.6 L529.3 548.5 L530.6 556.4 L532.0 558.3 L533.4 572.2 L534.8 566.6 L536.1 567.3 L537.5 558.3 L538.9 553.7 L540.2 578.6 L541.6 601.8 L543.0 583.0 L544.4 616.0 L545.7 626.7 L547.1 632.5 L548.5 636.2 L549.8 646.1 L551.2 666.9 L552.6 685.1 L554.0 676.9 L555.3 704.2 L556.7 698.9 L558.1 711.2 L559.4 726.2 L560.8 746.2 L562.2 772.1 L563.6 763.9 L564.9 762.1 L566.3 768.7 L567.7 766.7 L569.0 773.8 L570.4 770.3 L571.8 783.0 L573.2 789.4 L574.5 796.9 L575.9 813.4 L577.3 805.6 L578.7 821.0 L580.0 821.6 L581.4 830.4 L582.8 842.7 L584.1 829.3 L585.5 862.1 L586.9 863.6 L588.3 878.6 L589.6 868.6 L591.0 878.9 L592.4 893.8 L593.7 907.2 L595.1 921.4 L596.5 916.4 L597.9 919.1 L599.2 923.1 L600.6 923.1 L602.0 924.5 L603.3 929.1 L604.7 936.2 L606.1 927.6 L607.5 939.6 L608.8 951.3 L610.2 948.8 L611.6 947.2 L612.9 959.0 L614.3 960.4 L615.7 965.2 L617.1 963.3 L618.4 959.6 L619.8 965.3 L621.2 960.2 L622.6 963.2 L623.9 969.4 L625.3 970.9 L626.7 977.5 L628.0 976.2 L629.4 979.8 L630.8 980.0 L632.2 987.4 L633.5 990.9 L634.9 983.0 L636.3 993.2 L637.6 995.4 L639.0 994.0 L640.4 993.1 L641.8 996.6 L643.1 996.9 L644.5 992.2 L645.9 996.1 L647.2 1002.1 L648.6 1007.1 L650.0 999.1 L651.4 1003.1 L652.7 1004.0 L654.1 1010.4 L655.5 1007.3 L656.8 1008.8 L658.2 1008.2 L659.6 1009.6 L661.0 1010.5 L662.3 1015.0 L663.7 1020.1 L665.1 1020.0 L666.5 1018.0 L667.8 1017.8 L669.2 1021.7 L670.6 1021.8 L671.9 1023.7 L673.3 1022.9 L674.7 1023.2 L676.1 1029.7 L677.4 1026.8 L678.8 1032.0 L680.2 1034.3 L681.5 1040.1 L682.9 1041.6 L684.3 1042.8 L685.7 1044.5 L687.0 1047.9 L688.4 1049.9 L689.8 1049.9 L691.1 1053.7 L692.5 1052.3 L693.9 1053.0 L695.3 1059.3 L696.6 1059.0 L698.0 1058.0 L699.4 1062.2 L700.7 1063.2 L702.1 1065.0 L703.5 1063.3 L704.9 1064.2 L706.2 1067.4 L707.6 1067.6 L709.0 1070.2 L710.3 1070.2 L711.7 1074.3 L713.1 1077.4 L714.5 1077.7 L715.8 1080.4 L717.2 1080.7 L718.6 1080.0 L720.0 1083.0 L721.3 1082.0 L722.7 1084.9 L724.1 1085.4 L725.4 1084.3 L726.8 1087.6 L728.2 1085.6 L729.6 1085.5 L730.9 1088.5 L732.3 1085.9 L733.7 1089.1 L735.0 1089.6 L736.4 1089.7 L737.8 1089.9 L739.2 1091.7 L740.5 1093.0 L741.9 1094.5 L743.3 1094.0 L744.6 1094.0 L746.0 1091.9 L747.4 1092.6 L748.8 1093.2 L750.1 1094.5 L751.5 1094.0 L752.9 1092.9 L754.2 1094.9 L755.6 1093.6 L757.0 1097.7 L758.4 1095.6 L759.7 1095.8 L761.1 1096.7 L762.5 1096.7 L763.9 1095.6 L765.2 1097.9 L766.6 1097.3 L768.0 1098.6 L769.3 1097.6 L770.7 1096.3 L772.1 1098.2 L773.5 1096.9 L774.8 1098.7 L776.2 1097.2 L777.6 1097.4 L778.9 1097.7 L780.3 1099.6 L781.7 1097.3 L783.1 1098.5 L784.4 1096.2 L785.8 1098.9 L785.8 1143.1 L784.4 1143.1 L783.1 1143.1 L781.7 1143.1 L780.3 1142.9 L778.9 1142.9 L777.6 1143.0 L776.2 1142.9 L774.8 1143.1 L773.5 1142.9 L772.1 1143.0 L770.7 1142.9 L769.3 1143.0 L768.0 1142.8 L766.6 1142.8 L765.2 1142.9 L763.9 1143.0 L762.5 1142.9 L761.1 1142.9 L759.7 1142.9 L758.4 1143.0 L757.0 1143.0 L755.6 1142.9 L754.2 1142.9 L752.9 1143.0 L751.5 1143.1 L750.1 1143.2 L748.8 1142.9 L747.4 1143.0 L746.0 1143.1 L744.6 1142.9 L743.3 1143.0 L741.9 1143.0 L740.5 1143.1 L739.2 1143.0 L737.8 1143.1 L736.4 1143.0 L735.0 1143.0 L733.7 1142.9 L732.3 1143.1 L730.9 1142.8 L729.6 1143.0 L728.2 1143.0 L726.8 1142.9 L725.4 1142.9 L724.1 1142.9 L722.7 1142.6 L721.3 1142.6 L720.0 1142.7 L718.6 1142.5 L717.2 1142.5 L715.8 1142.3 L714.5 1142.1 L713.1 1142.4 L711.7 1142.0 L710.3 1142.0 L709.0 1142.1 L707.6 1141.9 L706.2 1141.8 L704.9 1141.6 L703.5 1141.5 L702.1 1141.4 L700.7 1141.5 L699.4 1141.2 L698.0 1141.2 L696.6 1140.8 L695.3 1140.5 L693.9 1140.4 L692.5 1139.9 L691.1 1139.9 L689.8 1139.9 L688.4 1139.8 L687.0 1139.5 L685.7 1139.1 L684.3 1138.9 L682.9 1138.6 L681.5 1138.1 L680.2 1138.6 L678.8 1138.0 L677.4 1138.2 L676.1 1137.8 L674.7 1137.5 L673.3 1137.6 L671.9 1136.9 L670.6 1136.4 L669.2 1136.4 L667.8 1136.3 L666.5 1136.7 L665.1 1136.8 L663.7 1135.4 L662.3 1135.2 L661.0 1135.4 L659.6 1135.4 L658.2 1134.5 L656.8 1134.2 L655.5 1134.3 L654.1 1134.2 L652.7 1134.6 L651.4 1134.0 L650.0 1133.3 L648.6 1133.5 L647.2 1133.9 L645.9 1133.1 L644.5 1132.8 L643.1 1133.1 L641.8 1132.7 L640.4 1131.3 L639.0 1130.7 L637.6 1131.2 L636.3 1130.8 L634.9 1130.7 L633.5 1130.9 L632.2 1131.3 L630.8 1130.1 L629.4 1130.4 L628.0 1129.3 L626.7 1128.6 L625.3 1128.9 L623.9 1129.4 L622.6 1128.7 L621.2 1128.1 L619.8 1127.8 L618.4 1127.4 L617.1 1126.8 L615.7 1127.4 L614.3 1127.9 L612.9 1127.1 L611.6 1126.6 L610.2 1125.8 L608.8 1126.0 L607.5 1124.3 L606.1 1125.1 L604.7 1126.3 L603.3 1124.7 L602.0 1124.3 L600.6 1121.9 L599.2 1123.0 L597.9 1122.4 L596.5 1122.3 L595.1 1121.3 L593.7 1123.1 L592.4 1122.2 L591.0 1121.7 L589.6 1120.9 L588.3 1121.8 L586.9 1119.4 L585.5 1120.8 L584.1 1118.4 L582.8 1118.8 L581.4 1117.7 L580.0 1115.8 L578.7 1115.4 L577.3 1117.3 L575.9 1113.8 L574.5 1117.5 L573.2 1115.5 L571.8 1114.2 L570.4 1114.3 L569.0 1112.3 L567.7 1110.1 L566.3 1110.7 L564.9 1112.2 L563.6 1111.4 L562.2 1110.4 L560.8 1109.7 L559.4 1107.8 L558.1 1106.8 L556.7 1103.2 L555.3 1102.9 L554.0 1105.9 L552.6 1105.4 L551.2 1104.7 L549.8 1103.1 L548.5 1103.4 L547.1 1100.2 L545.7 1101.3 L544.4 1101.0 L543.0 1097.7 L541.6 1093.8 L540.2 1096.3 L538.9 1092.5 L537.5 1095.2 L536.1 1092.3 L534.8 1090.9 L533.4 1090.3 L532.0 1087.2 L530.6 1091.0 L529.3 1090.8 L527.9 1088.4 L526.5 1083.4 L525.2 1082.0 L523.8 1086.9 L522.4 1086.9 L521.0 1083.0 L519.7 1083.2 L518.3 1085.2 L516.9 1081.6 L515.5 1085.0 L514.2 1083.2 L512.8 1086.2 L511.4 1082.3 L510.1 1084.4 L508.7 1085.2 L507.3 1085.4 L505.9 1090.0 L504.6 1088.9 L503.2 1092.5 L501.8 1091.5 L500.5 1086.8 L499.1 1087.9 L497.7 1089.5 L496.3 1090.3 L495.0 1094.7 L493.6 1094.5 L492.2 1091.5 L490.9 1095.4 L489.5 1093.3 L488.1 1095.5 L486.7 1099.6 L485.4 1096.5 L484.0 1099.2 L482.6 1101.5 L481.3 1103.5 L479.9 1105.7 L478.5 1105.6 L477.1 1104.4 L475.8 1104.2 L474.4 1104.5 L473.0 1106.6 L471.6 1106.3 L470.3 1107.0 L468.9 1107.4 L467.5 1111.3 L466.2 1112.0 L464.8 1110.4 L463.4 1112.6 L462.0 1115.2 L460.7 1117.0 L459.3 1114.0 L457.9 1115.3 L456.6 1117.8 L455.2 1117.8 L453.8 1115.4 L452.4 1117.3 L451.1 1118.7 L449.7 1118.9 L448.3 1118.9 L447.0 1119.8 L445.6 1121.1 L444.2 1120.8 L442.8 1121.6 L441.5 1123.9 L440.1 1122.7 L438.7 1122.6 L437.4 1122.8 L436.0 1124.2 L434.6 1123.5 L433.2 1123.9 L431.9 1124.3 L430.5 1125.4 L429.1 1126.2 L427.7 1126.2 L426.4 1125.7 L425.0 1126.5 L423.6 1126.8 L422.3 1126.3 L420.9 1127.2 L419.5 1128.0 L418.1 1127.3 L416.8 1129.2 L415.4 1128.1 L414.0 1127.9 L412.7 1127.4 L411.3 1128.2 L409.9 1128.1 L408.5 1128.8 L407.2 1128.4 L405.8 1128.7 L404.4 1129.4 L403.1 1129.1 L401.7 1128.4 L400.3 1128.0 L398.9 1129.4 L397.6 1129.8 L396.2 1130.4 L394.8 1131.0 L393.5 1129.4 L392.1 1129.8 L390.7 1129.1 L389.3 1129.8 L388.0 1130.3 L386.6 1130.3 L385.2 1130.0 L383.9 1130.4 L382.5 1129.0 L381.1 1130.0 L379.7 1129.3 L378.4 1129.0 L377.0 1129.9 L375.6 1129.9 L374.2 1130.3 L372.9 1130.2 L371.5 1130.1 L370.1 1131.3 L368.8 1129.8 L367.4 1129.9 L366.0 1129.6 L364.6 1128.4 L363.3 1128.4 L361.9 1126.9 L360.5 1128.9 L359.2 1128.2 L357.8 1128.1 L356.4 1127.3 L355.0 1126.3 L353.7 1128.1 L352.3 1128.3 L350.9 1127.0 L349.6 1126.2 L348.2 1126.8 L346.8 1125.9 L345.4 1127.5 L344.1 1125.1 L342.7 1125.4 L341.3 1122.5 L340.0 1126.3 L338.6 1124.8 L337.2 1123.7 L335.8 1124.5 L334.5 1124.3 L333.1 1124.5 L331.7 1122.5 L330.3 1124.9 L329.0 1122.4 L327.6 1122.6 L326.2 1122.9 L324.9 1123.9 L323.5 1121.8 L322.1 1120.4 L320.7 1121.9 L319.4 1120.7 L318.0 1120.2 L316.6 1118.9 L315.3 1120.2 L313.9 1119.6 L312.5 1120.6 L311.1 1118.3 L309.8 1118.6 L308.4 1118.8 L307.0 1116.2 L305.7 1116.0 L304.3 1117.3 L302.9 1119.3 L301.5 1118.5 L300.2 1119.2 L298.8 1115.9 L297.4 1116.1 L296.1 1116.8 L294.7 1117.6 L293.3 1116.9 L291.9 1115.7 L290.6 1116.2 L289.2 1116.2 L287.8 1116.9 L286.5 1116.5 L285.1 1119.4 L283.7 1116.1 L282.3 1119.1 L281.0 1118.9 L279.6 1118.6 L278.2 1119.7 L276.8 1116.7 L275.5 1119.7 L274.1 1121.1 L272.7 1121.7 L271.4 1122.0 L270.0 1121.3 L268.6 1122.9 L267.2 1124.5 L265.9 1125.7 L264.5 1126.2 L263.1 1126.3 L261.8 1125.6 L260.4 1128.0 L259.0 1129.3 L257.6 1128.2 L256.3 1129.1 L254.9 1129.1 L253.5 1129.6 L252.2 1129.4 L250.8 1129.8 L249.4 1129.2 L248.0 1131.0 L246.7 1130.2 L245.3 1130.4 L243.9 1130.2 L242.6 1131.0 L241.2 1130.7 L239.8 1131.7 L238.4 1131.4 L237.1 1131.8 L235.7 1132.3 L234.3 1133.2 L232.9 1132.7 L231.6 1132.7 L230.2 1133.7 L228.8 1133.1 L227.5 1134.2 L226.1 1134.5 L224.7 1133.1 L223.3 1133.3 L222.0 1133.4 L220.6 1134.2 L219.2 1134.6 L217.9 1134.6 L216.5 1134.0 L215.1 1134.0 L213.7 1134.3 L212.4 1134.9 L211.0 1135.1 L209.6 1134.2 L208.3 1134.9 L206.9 1134.8 L205.5 1134.8 L204.1 1133.9 L202.8 1134.1 L201.4 1134.1 L200.0 1134.5 L198.7 1134.3 L197.3 1133.8 L195.9 1134.6 L194.5 1134.2 L193.2 1134.7 L191.8 1134.0 L190.4 1133.4 L189.1 1133.4 L187.7 1133.3 L186.3 1133.6 L184.9 1134.8 L183.6 1133.3 L182.2 1133.5 L180.8 1132.7 L179.4 1132.7 L178.1 1134.0 L176.7 1133.9 L175.3 1133.8 L174.0 1133.7 L172.6 1134.0 L171.2 1132.9 L169.8 1133.3 L168.5 1133.4 L167.1 1132.3 L165.7 1132.2 L164.4 1132.6 L163.0 1133.1 L161.6 1132.7 L160.2 1132.3 L158.9 1132.1 L157.5 1131.7 L156.1 1132.3 L154.8 1132.5 L153.4 1132.3 L152.0 1132.9 L150.6 1132.2 L149.3 1132.7 L147.9 1131.4 L146.5 1131.8 L145.2 1131.5 L143.8 1131.7 L142.4 1130.9 L141.0 1130.8 L139.7 1130.7 L138.3 1130.8 L136.9 1131.6 L135.5 1131.3 L134.2 1130.7 L132.8 1130.9 L131.4 1131.6 L130.1 1130.7 L128.7 1132.5 L127.3 1132.1 L125.9 1131.8 L124.6 1131.2 L123.2 1132.4 L121.8 1132.7 L120.5 1134.3 L119.1 1134.3 L117.7 1134.7 L116.3 1134.9 L115.0 1135.9 L113.6 1137.1 L112.2 1137.0 L110.9 1138.4 L109.5 1139.1 L108.1 1139.9 L106.7 1139.9 L105.4 1140.8 L104.0 1141.8 L102.6 1142.4 L101.3 1143.1 L99.9 1143.8 L98.5 1144.6 L97.1 1144.8 L95.8 1144.8 L94.4 1144.9 L93.0 1144.9 L91.6 1144.9 L90.3 1144.9 L88.9 1145.0 L87.5 1145.0 L86.2 1145.0 L84.8 1145.0 L83.4 1145.0 L82.0 1145.1 L80.7 1145.1 L79.3 1145.1 L77.9 1145.1 L76.6 1145.1 L75.2 1145.2 L73.8 1145.2 L72.4 1145.2 L71.1 1145.2 L69.7 1145.2Z" fill="#1f77b4" fill-opacity="0.100" stroke="#1f77b4" stroke-opacity="0.100" stroke-width="1.39" stroke-linejoin="round"/>
<path d="M69.7 1146.2 L71.1 1146.1 L72.4 1146.1 L73.8 1146.0 L75.2 1145.9 L76.6 1145.8 L77.9 1145.7 L79.3 1145.6 L80.7 1145.5 L82.0 1145.4 L83.4 1145.3 L84.8 1145.2 L86.2 1145.1 L87.5 1145.0 L88.9 1144.6 L90.3 1144.4 L91.6 1144.1 L93.0 1143.7 L94.4 1143.3 L95.8 1143.0 L97.1 1142.7 L98.5 1138.0 L99.9 1131.6 L101.3 1125.1 L102.6 1119.6 L104.0 1113.0 L105.4 1106.3 L106.7 1100.4 L108.1 1094.5 L109.5 1089.6 L110.9 1083.4 L112.2 1076.8 L113.6 1070.2 L115.0 1069.6 L116.3 1067.5 L117.7 1063.3 L119.1 1058.2 L120.5 1055.8 L121.8 1057.1 L123.2 1055.0 L124.6 1055.3 L125.9 1053.4 L127.3 1049.3 L128.7 1050.4 L130.1 1048.9 L131.4 1048.6 L132.8 1048.2 L134.2 1048.5 L135.5 1047.1 L136.9 1047.6 L138.3 1049.3 L139.7 1051.6 L141.0 1049.8 L142.4 1050.9 L143.8 1051.1 L145.2 1052.4 L146.5 1051.2 L147.9 1056.8 L149.3 1057.0 L150.6 1056.3 L152.0 1059.8 L153.4 1062.9 L154.8 1061.9 L156.1 1061.5 L157.5 1065.1 L158.9 1064.8 L160.2 1065.4 L161.6 1068.4 L163.0 1068.1 L164.4 1068.0 L165.7 1069.3 L167.1 1068.5 L168.5 1070.1 L169.8 1070.8 L171.2 1070.5 L172.6 1072.3 L174.0 1075.4 L175.3 1072.5 L176.7 1071.1 L178.1 1071.6 L179.4 1071.3 L180.8 1076.6 L182.2 1075.7 L183.6 1078.1 L184.9 1078.3 L186.3 1079.1 L187.7 1077.9 L189.1 1079.3 L190.4 1081.1 L191.8 1080.6 L193.2 1081.3 L194.5 1080.9 L195.9 1078.3 L197.3 1080.9 L198.7 1081.1 L200.0 1079.3 L201.4 1079.9 L202.8 1080.4 L204.1 1082.0 L205.5 1080.1 L206.9 1080.7 L208.3 1078.7 L209.6 1078.8 L211.0 1077.8 L212.4 1079.2 L213.7 1079.9 L215.1 1078.3 L216.5 1078.3 L217.9 1078.4 L219.2 1076.3 L220.6 1075.3 L222.0 1075.3 L223.3 1075.3 L224.7 1075.4 L226.1 1074.2 L227.5 1074.0 L228.8 1071.2 L230.2 1070.9 L231.6 1072.2 L232.9 1070.4 L234.3 1068.2 L235.7 1068.3 L237.1 1063.3 L238.4 1063.9 L239.8 1063.8 L241.2 1057.6 L242.6 1055.9 L243.9 1051.7 L245.3 1049.8 L246.7 1048.9 L248.0 1044.5 L249.4 1040.5 L250.8 1035.8 L252.2 1033.1 L253.5 1029.7 L254.9 1023.4 L256.3 1018.4 L257.6 1016.9 L259.0 1006.9 L260.4 1004.3 L261.8 996.9 L263.1 998.6 L264.5 997.4 L265.9 988.3 L267.2 984.5 L268.6 977.7 L270.0 975.7 L271.4 971.8 L272.7 970.4 L274.1 964.7 L275.5 963.2 L276.8 962.0 L278.2 957.0 L279.6 956.1 L281.0 945.5 L282.3 945.8 L283.7 944.5 L285.1 945.6 L286.5 941.1 L287.8 947.3 L289.2 939.9 L290.6 940.0 L291.9 940.6 L293.3 937.1 L294.7 942.3 L296.1 939.8 L297.4 936.7 L298.8 946.8 L300.2 947.4 L301.5 945.5 L302.9 944.1 L304.3 946.2 L305.7 949.4 L307.0 953.7 L308.4 956.4 L309.8 959.4 L311.1 959.9 L312.5 962.6 L313.9 960.8 L315.3 963.3 L316.6 972.8 L318.0 972.2 L319.4 974.6 L320.7 972.9 L322.1 975.3 L323.5 976.6 L324.9 985.3 L326.2 986.4 L327.6 987.1 L329.0 988.4 L330.3 985.2 L331.7 986.5 L333.1 992.2 L334.5 993.9 L335.8 994.7 L337.2 991.8 L338.6 1001.2 L340.0 995.4 L341.3 996.2 L342.7 997.1 L344.1 999.2 L345.4 1000.4 L346.8 1003.9 L348.2 1005.3 L349.6 1008.9 L350.9 1008.0 L352.3 1008.7 L353.7 1009.5 L355.0 1008.5 L356.4 1011.4 L357.8 1011.1 L359.2 1012.4 L360.5 1016.7 L361.9 1020.5 L363.3 1024.0 L364.6 1023.9 L366.0 1020.0 L367.4 1022.7 L368.8 1027.0 L370.1 1023.5 L371.5 1024.5 L372.9 1022.7 L374.2 1026.2 L375.6 1026.9 L377.0 1024.5 L378.4 1026.6 L379.7 1027.3 L381.1 1026.1 L382.5 1026.3 L383.9 1030.4 L385.2 1028.0 L386.6 1028.7 L388.0 1027.7 L389.3 1030.8 L390.7 1033.1 L392.1 1028.8 L393.5 1030.4 L394.8 1026.4 L396.2 1034.0 L397.6 1026.0 L398.9 1031.2 L400.3 1032.5 L401.7 1029.3 L403.1 1027.9 L404.4 1030.0 L405.8 1025.6 L407.2 1027.4 L408.5 1023.6 L409.9 1026.8 L411.3 1024.8 L412.7 1022.1 L414.0 1024.7 L415.4 1026.0 L416.8 1026.3 L418.1 1022.8 L419.5 1026.0 L420.9 1024.0 L422.3 1023.3 L423.6 1022.9 L425.0 1018.5 L426.4 1016.7 L427.7 1019.6 L429.1 1018.2 L430.5 1011.8 L431.9 1015.5 L433.2 1013.5 L434.6 1012.0 L436.0 1010.9 L437.4 1009.7 L438.7 1001.9 L440.1 999.8 L441.5 997.9 L442.8 993.5 L444.2 993.1 L445.6 988.1 L447.0 991.6 L448.3 984.6 L449.7 985.9 L451.1 979.0 L452.4 981.6 L453.8 973.8 L455.2 971.5 L456.6 963.4 L457.9 958.2 L459.3 956.7 L460.7 956.1 L462.0 946.8 L463.4 949.1 L464.8 939.7 L466.2 938.7 L467.5 933.7 L468.9 931.6 L470.3 921.8 L471.6 915.8 L473.0 905.7 L474.4 904.8 L475.8 892.6 L477.1 894.4 L478.5 879.6 L479.9 878.7 L481.3 867.9 L482.6 858.2 L484.0 855.3 L485.4 847.8 L486.7 844.4 L488.1 841.3 L489.5 831.2 L490.9 830.1 L492.2 825.9 L493.6 820.5 L495.0 788.9 L496.3 796.0 L497.7 781.7 L499.1 797.8 L500.5 776.3 L501.8 754.5 L503.2 750.5 L504.6 740.7 L505.9 741.6 L507.3 730.6 L508.7 708.3 L510.1 703.9 L511.4 713.6 L512.8 714.4 L514.2 699.4 L515.5 708.8 L516.9 699.3 L518.3 702.5 L519.7 704.9 L521.0 700.1 L522.4 690.1 L523.8 716.9 L525.2 705.0 L526.5 717.4 L527.9 734.4 L529.3 725.1 L530.6 736.3 L532.0 733.7 L533.4 736.7 L534.8 734.6 L536.1 757.7 L537.5 758.1 L538.9 770.9 L540.2 782.2 L541.6 787.1 L543.0 785.1 L544.4 789.6 L545.7 781.7 L547.1 791.5 L548.5 798.9 L549.8 809.3 L551.2 817.1 L552.6 811.6 L554.0 811.8 L555.3 830.0 L556.7 837.8 L558.1 845.6 L559.4 860.4 L560.8 857.4 L562.2 863.7 L563.6 877.0 L564.9 891.2 L566.3 902.4 L567.7 917.9 L569.0 919.8 L570.4 924.2 L571.8 928.8 L573.2 929.2 L574.5 941.9 L575.9 936.9 L577.3 951.6 L578.7 954.2 L580.0 955.0 L581.4 963.2 L582.8 972.0 L584.1 975.4 L585.5 977.0 L586.9 987.4 L588.3 985.4 L589.6 991.5 L591.0 994.3 L592.4 996.7 L593.7 996.4 L595.1 997.9 L596.5 1002.4 L597.9 1007.8 L599.2 1011.1 L600.6 1009.1 L602.0 1014.1 L603.3 1014.8 L604.7 1020.4 L606.1 1016.9 L607.5 1021.6 L608.8 1022.1 L610.2 1025.7 L611.6 1027.5 L612.9 1028.8 L614.3 1029.2 L615.7 1035.8 L617.1 1036.9 L618.4 1035.2 L619.8 1031.9 L621.2 1038.6 L622.6 1040.7 L623.9 1043.1 L625.3 1041.5 L626.7 1041.8 L628.0 1043.6 L629.4 1043.5 L630.8 1045.3 L632.2 1048.4 L633.5 1052.4 L634.9 1048.8 L636.3 1050.2 L637.6 1053.3 L639.0 1052.3 L640.4 1052.1 L641.8 1057.4 L643.1 1058.8 L644.5 1062.3 L645.9 1058.3 L647.2 1060.4 L648.6 1061.3 L650.0 1061.8 L651.4 1059.1 L652.7 1059.2 L654.1 1061.9 L655.5 1062.6 L656.8 1063.9 L658.2 1066.9 L659.6 1065.6 L661.0 1067.5 L662.3 1067.2 L663.7 1069.2 L665.1 1069.8 L666.5 1073.6 L667.8 1072.8 L669.2 1073.8 L670.6 1073.2 L671.9 1074.3 L673.3 1075.1 L674.7 1078.0 L676.1 1079.4 L677.4 1082.1 L678.8 1082.7 L680.2 1083.8 L681.5 1085.2 L682.9 1085.7 L684.3 1086.9 L685.7 1086.1 L687.0 1088.3 L688.4 1090.2 L689.8 1090.8 L691.1 1090.9 L692.5 1093.0 L693.9 1094.7 L695.3 1096.9 L696.6 1096.6 L698.0 1096.5 L699.4 1098.0 L700.7 1098.1 L702.1 1099.4 L703.5 1101.3 L704.9 1101.9 L706.2 1101.8 L707.6 1103.8 L709.0 1104.8 L710.3 1106.8 L711.7 1107.7 L713.1 1105.9 L714.5 1107.8 L715.8 1108.6 L717.2 1108.6 L718.6 1109.0 L720.0 1109.2 L721.3 1110.6 L722.7 1111.5 L724.1 1111.6 L725.4 1112.5 L726.8 1113.8 L728.2 1114.9 L729.6 1114.1 L730.9 1114.4 L732.3 1115.3 L733.7 1115.7 L735.0 1116.1 L736.4 1117.3 L737.8 1116.2 L739.2 1116.8 L740.5 1118.0 L741.9 1117.8 L743.3 1119.0 L744.6 1118.0 L746.0 1118.5 L747.4 1118.3 L748.8 1119.6 L750.1 1119.7 L751.5 1119.6 L752.9 1119.5 L754.2 1119.7 L755.6 1120.2 L757.0 1120.6 L758.4 1120.6 L759.7 1121.0 L761.1 1120.2 L762.5 1119.8 L763.9 1120.8 L765.2 1120.2 L766.6 1119.5 L768.0 1119.4 L769.3 1119.7 L770.7 1120.8 L772.1 1120.0 L773.5 1120.6 L774.8 1120.2 L776.2 1119.8 L777.6 1120.1 L778.9 1120.5 L780.3 1120.3 L781.7 1120.5 L783.1 1120.4 L784.4 1120.1 L785.8 1120.0 L785.8 1138.7 L784.4 1138.8 L783.1 1138.6 L781.7 1138.7 L780.3 1138.8 L778.9 1138.5 L777.6 1138.9 L776.2 1138.5 L774.8 1138.7 L773.5 1138.8 L772.1 1138.6 L770.7 1138.7 L769.3 1138.6 L768.0 1138.6 L766.6 1138.6 L765.2 1138.8 L763.9 1138.7 L762.5 1138.8 L761.1 1138.7 L759.7 1138.7 L758.4 1138.9 L757.0 1138.6 L755.6 1138.6 L754.2 1138.7 L752.9 1138.8 L751.5 1138.5 L750.1 1138.6 L748.8 1138.8 L747.4 1138.9 L746.0 1138.9 L744.6 1138.8 L743.3 1138.6 L741.9 1138.7 L740.5 1138.5 L739.2 1138.7 L737.8 1138.7 L736.4 1138.9 L735.0 1138.7 L733.7 1138.2 L732.3 1138.2 L730.9 1138.4 L729.6 1137.7 L728.2 1137.6 L726.8 1137.4 L725.4 1137.7 L724.1 1137.1 L722.7 1137.2 L721.3 1137.0 L720.0 1136.9 L718.6 1136.7 L717.2 1136.6 L715.8 1136.3 L714.5 1136.3 L713.1 1135.5 L711.7 1135.9 L710.3 1134.7 L709.0 1134.8 L707.6 1135.1 L706.2 1134.6 L704.9 1134.0 L703.5 1133.6 L702.1 1133.5 L700.7 1133.6 L699.4 1133.3 L698.0 1133.1 L696.6 1132.2 L695.3 1132.1 L693.9 1132.1 L692.5 1131.7 L691.1 1131.1 L689.8 1130.9 L688.4 1130.7 L687.0 1130.7 L685.7 1130.3 L684.3 1129.8 L682.9 1130.0 L681.5 1128.9 L680.2 1128.9 L678.8 1129.0 L677.4 1128.0 L676.1 1127.4 L674.7 1127.2 L673.3 1126.9 L671.9 1127.1 L670.6 1125.6 L669.2 1125.6 L667.8 1125.5 L666.5 1125.0 L665.1 1124.7 L663.7 1123.6 L662.3 1124.2 L661.0 1122.8 L659.6 1122.0 L658.2 1123.0 L656.8 1121.7 L655.5 1121.2 L654.1 1119.5 L652.7 1119.4 L651.4 1118.7 L650.0 1120.0 L648.6 1119.4 L647.2 1120.1 L645.9 1118.4 L644.5 1120.2 L643.1 1119.0 L641.8 1118.9 L640.4 1118.4 L639.0 1118.7 L637.6 1117.6 L636.3 1117.9 L634.9 1117.4 L633.5 1115.2 L632.2 1116.5 L630.8 1115.5 L629.4 1113.9 L628.0 1112.6 L626.7 1113.4 L625.3 1113.5 L623.9 1114.1 L622.6 1112.9 L621.2 1111.1 L619.8 1112.1 L618.4 1109.2 L617.1 1110.9 L615.7 1109.5 L614.3 1111.3 L612.9 1108.1 L611.6 1109.0 L610.2 1108.1 L608.8 1107.3 L607.5 1106.2 L606.1 1105.9 L604.7 1102.6 L603.3 1103.0 L602.0 1106.2 L600.6 1103.6 L599.2 1099.6 L597.9 1100.9 L596.5 1098.8 L595.1 1097.3 L593.7 1097.3 L592.4 1096.2 L591.0 1097.3 L589.6 1098.5 L588.3 1095.2 L586.9 1094.0 L585.5 1093.1 L584.1 1092.5 L582.8 1090.9 L581.4 1089.6 L580.0 1090.3 L578.7 1087.6 L577.3 1084.9 L575.9 1081.3 L574.5 1086.2 L573.2 1082.4 L571.8 1079.6 L570.4 1083.8 L569.0 1080.5 L567.7 1077.4 L566.3 1073.3 L564.9 1071.3 L563.6 1072.7 L562.2 1070.1 L560.8 1069.7 L559.4 1068.3 L558.1 1067.4 L556.7 1059.7 L555.3 1059.5 L554.0 1057.8 L552.6 1055.2 L551.2 1056.7 L549.8 1051.2 L548.5 1045.4 L547.1 1045.5 L545.7 1048.5 L544.4 1042.0 L543.0 1042.2 L541.6 1035.9 L540.2 1035.9 L538.9 1034.5 L537.5 1031.9 L536.1 1030.0 L534.8 1026.4 L533.4 1019.1 L532.0 1023.8 L530.6 1027.7 L529.3 1018.8 L527.9 1021.1 L526.5 1009.0 L525.2 1011.7 L523.8 1016.7 L522.4 1017.7 L521.0 1013.1 L519.7 1018.0 L518.3 1012.1 L516.9 1013.2 L515.5 1018.9 L514.2 1020.8 L512.8 1019.8 L511.4 1016.9 L510.1 1018.1 L508.7 1021.7 L507.3 1024.5 L505.9 1028.3 L504.6 1026.9 L503.2 1032.5 L501.8 1035.5 L500.5 1035.5 L499.1 1032.1 L497.7 1031.7 L496.3 1037.4 L495.0 1046.8 L493.6 1048.9 L492.2 1047.8 L490.9 1055.0 L489.5 1053.9 L488.1 1058.0 L486.7 1061.6 L485.4 1060.5 L484.0 1064.1 L482.6 1063.7 L481.3 1062.7 L479.9 1067.3 L478.5 1065.8 L477.1 1069.6 L475.8 1070.4 L474.4 1072.2 L473.0 1076.0 L471.6 1077.4 L470.3 1082.3 L468.9 1079.9 L467.5 1080.3 L466.2 1081.1 L464.8 1084.6 L463.4 1084.7 L462.0 1084.3 L460.7 1088.2 L459.3 1089.9 L457.9 1093.0 L456.6 1094.1 L455.2 1097.3 L453.8 1096.0 L452.4 1097.0 L451.1 1097.4 L449.7 1096.2 L448.3 1098.0 L447.0 1098.8 L445.6 1099.6 L444.2 1097.0 L442.8 1100.7 L441.5 1100.7 L440.1 1103.5 L438.7 1101.4 L437.4 1100.8 L436.0 1102.2 L434.6 1104.9 L433.2 1102.1 L431.9 1104.1 L430.5 1104.3 L429.1 1102.5 L427.7 1106.8 L426.4 1106.5 L425.0 1106.5 L423.6 1108.1 L422.3 1107.8 L420.9 1107.5 L419.5 1106.1 L418.1 1106.6 L416.8 1108.3 L415.4 1107.4 L414.0 1108.2 L412.7 1108.9 L411.3 1109.4 L409.9 1109.5 L408.5 1109.1 L407.2 1109.0 L405.8 1109.7 L404.4 1111.8 L403.1 1110.1 L401.7 1110.4 L400.3 1111.8 L398.9 1111.0 L397.6 1112.2 L396.2 1110.6 L394.8 1112.6 L393.5 1111.2 L392.1 1111.6 L390.7 1112.4 L389.3 1110.3 L388.0 1110.6 L386.6 1110.5 L385.2 1110.9 L383.9 1110.7 L382.5 1111.2 L381.1 1112.5 L379.7 1112.0 L378.4 1110.4 L377.0 1110.9 L375.6 1111.0 L374.2 1110.7 L372.9 1109.7 L371.5 1109.7 L370.1 1109.8 L368.8 1109.7 L367.4 1108.8 L366.0 1107.4 L364.6 1107.3 L363.3 1107.8 L361.9 1109.1 L360.5 1107.8 L359.2 1107.4 L357.8 1106.2 L356.4 1103.4 L355.0 1102.8 L353.7 1102.9 L352.3 1105.7 L350.9 1105.8 L349.6 1106.2 L348.2 1106.4 L346.8 1103.7 L345.4 1102.9 L344.1 1104.7 L342.7 1103.4 L341.3 1104.4 L340.0 1103.9 L338.6 1100.0 L337.2 1101.5 L335.8 1102.0 L334.5 1100.0 L333.1 1101.2 L331.7 1099.5 L330.3 1098.7 L329.0 1097.9 L327.6 1098.5 L326.2 1097.2 L324.9 1094.9 L323.5 1096.8 L322.1 1097.2 L320.7 1094.9 L319.4 1095.9 L318.0 1095.1 L316.6 1093.1 L315.3 1096.0 L313.9 1094.7 L312.5 1095.2 L311.1 1095.0 L309.8 1090.6 L308.4 1092.3 L307.0 1090.9 L305.7 1092.1 L304.3 1090.4 L302.9 1091.7 L301.5 1089.7 L300.2 1086.5 L298.8 1088.5 L297.4 1086.7 L296.1 1087.0 L294.7 1086.5 L293.3 1087.8 L291.9 1085.1 L290.6 1087.5 L289.2 1091.4 L287.8 1091.3 L286.5 1091.1 L285.1 1090.4 L283.7 1087.1 L282.3 1089.9 L281.0 1089.7 L279.6 1089.7 L278.2 1094.0 L276.8 1093.4 L275.5 1093.7 L274.1 1093.8 L272.7 1095.4 L271.4 1095.2 L270.0 1096.3 L268.6 1097.1 L267.2 1098.3 L265.9 1101.5 L264.5 1100.3 L263.1 1100.8 L261.8 1101.1 L260.4 1104.1 L259.0 1106.3 L257.6 1106.6 L256.3 1105.9 L254.9 1105.8 L253.5 1109.9 L252.2 1109.0 L250.8 1109.9 L249.4 1110.4 L248.0 1110.5 L246.7 1111.7 L245.3 1112.9 L243.9 1113.0 L242.6 1114.2 L241.2 1116.4 L239.8 1116.5 L238.4 1117.0 L237.1 1118.8 L235.7 1120.6 L234.3 1120.3 L232.9 1119.4 L231.6 1121.6 L230.2 1120.3 L228.8 1120.3 L227.5 1119.8 L226.1 1121.2 L224.7 1121.4 L223.3 1122.0 L222.0 1121.7 L220.6 1122.8 L219.2 1122.8 L217.9 1122.2 L216.5 1123.1 L215.1 1122.5 L213.7 1123.3 L212.4 1122.5 L211.0 1124.4 L209.6 1123.4 L208.3 1123.1 L206.9 1123.5 L205.5 1123.5 L204.1 1123.2 L202.8 1123.8 L201.4 1123.2 L200.0 1122.5 L198.7 1123.2 L197.3 1122.1 L195.9 1123.3 L194.5 1122.9 L193.2 1122.8 L191.8 1121.6 L190.4 1122.4 L189.1 1122.9 L187.7 1122.9 L186.3 1123.3 L184.9 1121.8 L183.6 1122.2 L182.2 1121.5 L180.8 1123.1 L179.4 1122.5 L178.1 1122.6 L176.7 1120.8 L175.3 1121.4 L174.0 1121.7 L172.6 1121.3 L171.2 1122.0 L169.8 1122.6 L168.5 1122.7 L167.1 1120.6 L165.7 1121.6 L164.4 1121.9 L163.0 1119.2 L161.6 1120.3 L160.2 1120.2 L158.9 1120.2 L157.5 1119.3 L156.1 1119.1 L154.8 1119.6 L153.4 1119.4 L152.0 1118.1 L150.6 1118.9 L149.3 1119.6 L147.9 1118.6 L146.5 1120.0 L145.2 1118.2 L143.8 1118.6 L142.4 1115.6 L141.0 1118.5 L139.7 1118.0 L138.3 1117.0 L136.9 1117.0 L135.5 1116.6 L134.2 1116.4 L132.8 1116.1 L131.4 1116.0 L130.1 1118.5 L128.7 1117.2 L127.3 1116.6 L125.9 1117.1 L124.6 1116.5 L123.2 1118.0 L121.8 1117.4 L120.5 1118.2 L119.1 1121.2 L117.7 1121.7 L116.3 1123.6 L115.0 1125.1 L113.6 1126.3 L112.2 1127.4 L110.9 1129.3 L109.5 1130.7 L108.1 1131.9 L106.7 1133.4 L105.4 1134.4 L104.0 1135.8 L102.6 1136.9 L101.3 1138.4 L99.9 1139.7 L98.5 1141.1 L97.1 1142.5 L95.8 1143.7 L94.4 1144.5 L93.0 1144.6 L91.6 1144.6 L90.3 1144.6 L88.9 1144.7 L87.5 1144.7 L86.2 1144.8 L84.8 1144.8 L83.4 1144.8 L82.0 1144.9 L80.7 1144.9 L79.3 1145.0 L77.9 1145.0 L76.6 1145.0 L75.2 1145.1 L73.8 1145.1 L72.4 1145.2 L71.1 1145.2 L69.7 1145.2Z" fill="#1f77b4" fill-opacity="0.100" stroke="#1f77b4" stroke-opacity="0.100" stroke-width="1.39" stroke-linejoin="round"/>
<path d="M69.7 1145.2 L71.1 1145.2 L72.4 1145.1 L73.8 1145.0 L75.2 1144.6 L76.6 1145.2 L77.9 1144.2 L79.3 1145.0 L80.7 1144.7 L82.0 1145.2 L83.4 1144.6 L84.8 1144.9 L86.2 1144.4 L87.5 1145.2 L88.9 1143.5 L90.3 1144.3 L91.6 1142.9 L93.0 1143.7 L94.4 1141.3 L95.8 1142.5 L97.1 1138.7 L98.5 1136.9 L99.9 1134.8 L101.3 1130.5 L102.6 1127.8 L104.0 1127.6 L105.4 1124.7 L106.7 1122.9 L108.1 1117.3 L109.5 1116.3 L110.9 1110.9 L112.2 1109.7 L113.6 1104.5 L115.0 1105.0 L116.3 1098.8 L117.7 1099.1 L119.1 1095.3 L120.5 1095.4 L121.8 1092.4 L123.2 1095.0 L124.6 1090.1 L125.9 1092.4 L127.3 1089.5 L128.7 1092.5 L130.1 1091.0 L131.4 1091.6 L132.8 1088.9 L134.2 1091.7 L135.5 1090.3 L136.9 1090.6 L138.3 1088.8 L139.7 1092.2 L141.0 1091.7 L142.4 1092.2 L143.8 1092.9 L145.2 1091.5 L146.5 1090.6 L147.9 1093.3 L149.3 1092.7 L150.6 1093.0 L152.0 1093.4 L153.4 1094.4 L154.8 1094.5 L156.1 1097.8 L157.5 1095.4 L158.9 1099.1 L160.2 1095.6 L161.6 1101.5 L163.0 1100.8 L164.4 1101.2 L165.7 1100.5 L167.1 1102.6 L168.5 1102.4 L169.8 1103.0 L171.2 1102.1 L172.6 1104.6 L174.0 1100.8 L175.3 1106.2 L176.7 1101.9 L178.1 1108.0 L179.4 1104.1 L180.8 1106.2 L182.2 1102.7 L183.6 1105.8 L184.9 1106.0 L186.3 1105.5 L187.7 1104.4 L189.1 1108.7 L190.4 1106.8 L191.8 1105.9 L193.2 1105.6 L194.5 1108.3 L195.9 1106.1 L197.3 1109.0 L198.7 1107.0 L200.0 1110.1 L201.4 1104.6 L202.8 1108.6 L204.1 1106.0 L205.5 1108.3 L206.9 1106.5 L208.3 1106.3 L209.6 1107.7 L211.0 1105.6 L212.4 1106.0 L213.7 1109.5 L215.1 1107.6 L216.5 1109.6 L217.9 1103.4 L219.2 1109.3 L220.6 1106.2 L222.0 1107.2 L223.3 1104.1 L224.7 1105.9 L226.1 1105.5 L227.5 1106.6 L228.8 1102.7 L230.2 1103.5 L231.6 1099.0 L232.9 1102.9 L234.3 1100.6 L235.7 1100.4 L237.1 1097.4 L238.4 1096.0 L239.8 1091.8 L241.2 1092.8 L242.6 1090.8 L243.9 1087.2 L245.3 1087.5 L246.7 1088.2 L248.0 1083.0 L249.4 1081.1 L250.8 1073.5 L252.2 1077.2 L253.5 1069.2 L254.9 1070.7 L256.3 1063.2 L257.6 1071.0 L259.0 1061.5 L260.4 1064.5 L261.8 1046.8 L263.1 1059.3 L264.5 1053.8 L265.9 1054.6 L267.2 1049.1 L268.6 1050.8 L270.0 1046.7 L271.4 1041.3 L272.7 1035.6 L274.1 1046.3 L275.5 1046.9 L276.8 1037.7 L278.2 1032.2 L279.6 1034.0 L281.0 1028.4 L282.3 1038.3 L283.7 1031.9 L285.1 1029.5 L286.5 1031.2 L287.8 1028.4 L289.2 1030.8 L290.6 1026.1 L291.9 1021.1 L293.3 1027.3 L294.7 1024.0 L296.1 1027.3 L297.4 1024.7 L298.8 1032.2 L300.2 1027.6 L301.5 1035.7 L302.9 1029.9 L304.3 1029.4 L305.7 1031.5 L307.0 1040.7 L308.4 1032.4 L309.8 1037.0 L311.1 1039.0 L312.5 1044.3 L313.9 1035.2 L315.3 1051.6 L316.6 1043.2 L318.0 1045.3 L319.4 1039.3 L320.7 1049.8 L322.1 1046.2 L323.5 1049.0 L324.9 1044.0 L326.2 1049.1 L327.6 1051.8 L329.0 1055.2 L330.3 1050.1 L331.7 1058.1 L333.1 1049.3 L334.5 1058.9 L335.8 1058.7 L337.2 1057.5 L338.6 1056.4 L340.0 1061.7 L341.3 1060.9 L342.7 1057.6 L344.1 1054.2 L345.4 1062.4 L346.8 1054.3 L348.2 1066.8 L349.6 1063.9 L350.9 1067.1 L352.3 1062.1 L353.7 1068.2 L355.0 1066.1 L356.4 1066.1 L357.8 1064.4 L359.2 1068.0 L360.5 1068.3 L361.9 1070.7 L363.3 1073.5 L364.6 1070.6 L366.0 1071.2 L367.4 1072.2 L368.8 1074.2 L370.1 1077.5 L371.5 1074.8 L372.9 1078.8 L374.2 1073.8 L375.6 1078.9 L377.0 1075.0 L378.4 1079.8 L379.7 1076.0 L381.1 1076.8 L382.5 1078.8 L383.9 1077.6 L385.2 1078.4 L386.6 1079.7 L388.0 1077.9 L389.3 1080.2 L390.7 1077.3 L392.1 1082.4 L393.5 1077.3 L394.8 1077.9 L396.2 1075.7 L397.6 1081.8 L398.9 1076.8 L400.3 1079.6 L401.7 1073.7 L403.1 1079.4 L404.4 1075.6 L405.8 1078.7 L407.2 1077.1 L408.5 1074.1 L409.9 1073.8 L411.3 1075.6 L412.7 1072.0 L414.0 1074.2 L415.4 1073.9 L416.8 1072.7 L418.1 1072.6 L419.5 1075.7 L420.9 1068.1 L422.3 1073.3 L423.6 1071.0 L425.0 1074.5 L426.4 1068.0 L427.7 1071.9 L429.1 1068.2 L430.5 1067.7 L431.9 1065.5 L433.2 1067.4 L434.6 1066.0 L436.0 1066.6 L437.4 1062.3 L438.7 1065.3 L440.1 1057.4 L441.5 1058.9 L442.8 1056.4 L444.2 1057.1 L445.6 1053.5 L447.0 1052.0 L448.3 1047.9 L449.7 1053.4 L451.1 1046.6 L452.4 1048.2 L453.8 1046.2 L455.2 1045.0 L456.6 1040.8 L457.9 1036.9 L459.3 1037.0 L460.7 1036.9 L462.0 1027.8 L463.4 1030.3 L464.8 1022.3 L466.2 1025.8 L467.5 1021.1 L468.9 1022.9 L470.3 1008.0 L471.6 1009.9 L473.0 1003.1 L474.4 1009.4 L475.8 1001.3 L477.1 999.6 L478.5 991.5 L479.9 994.3 L481.3 986.3 L482.6 988.1 L484.0 983.0 L485.4 979.1 L486.7 974.0 L488.1 974.4 L489.5 969.1 L490.9 963.6 L492.2 960.1 L493.6 956.5 L495.0 946.2 L496.3 946.1 L497.7 937.8 L499.1 938.9 L500.5 926.8 L501.8 928.4 L503.2 915.7 L504.6 915.3 L505.9 910.9 L507.3 911.0 L508.7 901.8 L510.1 903.9 L511.4 895.0 L512.8 895.3 L514.2 893.9 L515.5 892.3 L516.9 889.0 L518.3 891.7 L519.7 887.4 L521.0 893.4 L522.4 891.8 L523.8 892.6 L525.2 896.3 L526.5 906.4 L527.9 900.0 L529.3 910.0 L530.6 912.1 L532.0 916.9 L533.4 923.8 L534.8 931.2 L536.1 923.8 L537.5 930.7 L538.9 932.7 L540.2 940.8 L541.6 938.6 L543.0 943.9 L544.4 944.7 L545.7 947.9 L547.1 948.5 L548.5 957.9 L549.8 958.3 L551.2 962.3 L552.6 962.9 L554.0 980.6 L555.3 972.6 L556.7 979.1 L558.1 983.1 L559.4 989.1 L560.8 987.3 L562.2 998.4 L563.6 990.5 L564.9 996.8 L566.3 1002.9 L567.7 1010.4 L569.0 1006.1 L570.4 1009.5 L571.8 1006.8 L573.2 1016.3 L574.5 1018.4 L575.9 1024.5 L577.3 1023.9 L578.7 1027.1 L580.0 1029.9 L581.4 1035.5 L582.8 1034.1 L584.1 1038.9 L585.5 1038.1 L586.9 1044.2 L588.3 1045.7 L589.6 1047.3 L591.0 1047.8 L592.4 1053.4 L593.7 1050.5 L595.1 1052.1 L596.5 1054.5 L597.9 1056.4 L599.2 1058.4 L600.6 1060.0 L602.0 1062.3 L603.3 1067.9 L604.7 1064.2 L606.1 1070.0 L607.5 1070.2 L608.8 1067.9 L610.2 1069.6 L611.6 1071.5 L612.9 1069.7 L614.3 1075.2 L615.7 1074.9 L617.1 1075.4 L618.4 1074.1 L619.8 1078.7 L621.2 1079.8 L622.6 1079.8 L623.9 1077.5 L625.3 1080.1 L626.7 1079.2 L628.0 1084.5 L629.4 1083.0 L630.8 1085.5 L632.2 1083.9 L633.5 1087.5 L634.9 1084.3 L636.3 1085.4 L637.6 1087.6 L639.0 1087.8 L640.4 1088.0 L641.8 1088.4 L643.1 1086.1 L644.5 1086.2 L645.9 1089.6 L647.2 1090.2 L648.6 1089.0 L650.0 1091.1 L651.4 1087.7 L652.7 1093.6 L654.1 1090.5 L655.5 1094.9 L656.8 1094.2 L658.2 1093.1 L659.6 1093.1 L661.0 1096.0 L662.3 1098.2 L663.7 1101.0 L665.1 1096.6 L666.5 1098.3 L667.8 1100.4 L669.2 1102.1 L670.6 1100.9 L671.9 1100.3 L673.3 1101.4 L674.7 1103.4 L676.1 1101.1 L677.4 1106.5 L678.8 1103.5 L680.2 1106.9 L681.5 1103.6 L682.9 1105.3 L684.3 1106.0 L685.7 1108.3 L687.0 1107.1 L688.4 1108.6 L689.8 1107.2 L691.1 1111.4 L692.5 1110.8 L693.9 1113.6 L695.3 1111.5 L696.6 1112.0 L698.0 1112.8 L699.4 1116.1 L700.7 1113.2 L702.1 1116.0 L703.5 1116.9 L704.9 1117.4 L706.2 1117.3 L707.6 1119.8 L709.0 1118.4 L710.3 1120.6 L711.7 1120.2 L713.1 1121.5 L714.5 1122.2 L715.8 1123.2 L717.2 1123.5 L718.6 1126.3 L720.0 1124.6 L721.3 1126.8 L722.7 1125.6 L724.1 1125.6 L725.4 1124.4 L726.8 1125.0 L728.2 1125.0 L729.6 1126.3 L730.9 1126.8 L732.3 1127.2 L733.7 1126.6 L735.0 1128.2 L736.4 1127.6 L737.8 1128.6 L739.2 1128.5 L740.5 1129.2 L741.9 1128.2 L743.3 1128.9 L744.6 1129.1 L746.0 1128.7 L747.4 1128.8 L748.8 1128.8 L750.1 1128.8 L751.5 1128.9 L752.9 1129.0 L754.2 1129.1 L755.6 1129.2 L757.0 1129.3 L758.4 1129.4 L759.7 1129.5 L761.1 1129.5 L762.5 1129.5 L763.9 1129.5 L765.2 1129.5 L766.6 1129.5 L768.0 1129.5 L769.3 1129.5 L770.7 1129.5 L772.1 1129.5 L773.5 1129.5 L774.8 1129.5 L776.2 1129.5 L777.6 1129.5 L778.9 1129.5 L780.3 1129.5 L781.7 1129.5 L783.1 1129.5 L784.4 1129.5 L785.8 1129.5" fill="none" stroke="#1f77b4" stroke-width="2.08" stroke-linejoin="round" stroke-linecap="square"/>
<line x1="746.9" x2="746.9" y1="1144.50" y2="592.00" stroke="#1f77b4" stroke-opacity="0.5" stroke-width="2.08" stroke-dasharray="7.7 3.33"/>
<g fill="#ff7f0e"><circle cx="69.7" cy="1145.2" r="4.8"/><circle cx="72.4" cy="1145.2" r="4.8"/><circle cx="73.8" cy="1145.2" r="4.8"/><circle cx="75.2" cy="1145.2" r="4.8"/><circle cx="77.9" cy="1145.2" r="4.8"/><circle cx="80.0" cy="1145.2" r="4.8"/><circle cx="80.7" cy="1145.2" r="4.8"/><circle cx="85.0" cy="1142.5" r="4.8"/><circle cx="89.2" cy="1129.2" r="4.8"/><circle cx="91.2" cy="1135.0" r="4.8"/><circle cx="93.8" cy="1142.5" r="4.8"/><circle cx="97.5" cy="1127.5" r="4.8"/><circle cx="98.8" cy="1135.0" r="4.8"/><circle cx="100.5" cy="1109.2" r="4.8"/><circle cx="103.2" cy="1120.0" r="4.8"/><circle cx="103.8" cy="1130.0" r="4.8"/><circle cx="106.2" cy="1091.2" r="4.8"/><circle cx="107.0" cy="1082.5" r="4.8"/><circle cx="108.8" cy="1092.5" r="4.8"/><circle cx="110.5" cy="1098.0" r="4.8"/><circle cx="112.5" cy="1105.5" r="4.8"/><circle cx="112.5" cy="1123.2" r="4.8"/><circle cx="115.5" cy="921.2" r="4.8"/><circle cx="117.8" cy="1070.8" r="4.8"/><circle cx="118.5" cy="1107.0" r="4.8"/><circle cx="119.2" cy="1062.2" r="4.8"/><circle cx="121.2" cy="1116.2" r="4.8"/><circle cx="122.5" cy="1136.2" r="4.8"/><circle cx="123.8" cy="1073.0" r="4.8"/><circle cx="125.5" cy="1011.5" r="4.8"/><circle cx="126.2" cy="1085.0" r="4.8"/><circle cx="128.0" cy="1067.5" r="4.8"/><circle cx="129.5" cy="1004.5" r="4.8"/><circle cx="130.8" cy="1094.2" r="4.8"/><circle cx="132.5" cy="1113.8" r="4.8"/><circle cx="133.2" cy="948.2" r="4.8"/><circle cx="135.8" cy="1094.2" r="4.8"/><circle cx="136.2" cy="1033.2" r="4.8"/><circle cx="137.5" cy="1070.8" r="4.8"/><circle cx="139.2" cy="1105.0" r="4.8"/><circle cx="140.8" cy="1126.2" r="4.8"/><circle cx="143.5" cy="968.2" r="4.8"/><circle cx="144.5" cy="1053.2" r="4.8"/><circle cx="146.2" cy="999.2" r="4.8"/><circle cx="147.0" cy="1076.2" r="4.8"/><circle cx="148.2" cy="1062.2" r="4.8"/><circle cx="150.5" cy="1128.2" r="4.8"/><circle cx="152.5" cy="1006.2" r="4.8"/><circle cx="154.2" cy="1026.5" r="4.8"/><circle cx="156.2" cy="1082.5" r="4.8"/><circle cx="158.5" cy="1044.0" r="4.8"/><circle cx="160.0" cy="1138.2" r="4.8"/><circle cx="162.2" cy="1060.2" r="4.8"/><circle cx="163.2" cy="1024.2" r="4.8"/><circle cx="165.0" cy="1103.0" r="4.8"/><circle cx="166.2" cy="1082.5" r="4.8"/><circle cx="168.2" cy="1049.0" r="4.8"/><circle cx="169.0" cy="1123.2" r="4.8"/><circle cx="170.0" cy="1118.2" r="4.8"/><circle cx="172.5" cy="1058.0" r="4.8"/><circle cx="173.2" cy="1087.5" r="4.8"/><circle cx="174.2" cy="1096.2" r="4.8"/><circle cx="176.2" cy="970.2" r="4.8"/><circle cx="177.0" cy="1113.8" r="4.8"/><circle cx="177.2" cy="1070.8" r="4.8"/><circle cx="180.5" cy="1134.2" r="4.8"/><circle cx="181.0" cy="1098.0" r="4.8"/><circle cx="183.8" cy="1038.2" r="4.8"/><circle cx="184.2" cy="1062.5" r="4.8"/><circle cx="185.0" cy="1055.5" r="4.8"/><circle cx="187.0" cy="1113.8" r="4.8"/><circle cx="188.2" cy="1107.0" r="4.8"/><circle cx="189.2" cy="1035.0" r="4.8"/><circle cx="190.8" cy="1053.2" r="4.8"/><circle cx="192.2" cy="1126.8" r="4.8"/><circle cx="194.2" cy="1098.0" r="4.8"/><circle cx="195.8" cy="1088.2" r="4.8"/><circle cx="198.2" cy="1136.2" r="4.8"/><circle cx="199.2" cy="1142.5" r="4.8"/><circle cx="199.5" cy="1082.5" r="4.8"/><circle cx="202.5" cy="973.0" r="4.8"/><circle cx="203.2" cy="1047.5" r="4.8"/><circle cx="205.0" cy="1081.2" r="4.8"/><circle cx="205.8" cy="1042.5" r="4.8"/><circle cx="209.2" cy="1136.2" r="4.8"/><circle cx="210.0" cy="1048.8" r="4.8"/><circle cx="210.0" cy="1079.5" r="4.8"/><circle cx="211.0" cy="1067.2" r="4.8"/><circle cx="213.0" cy="1042.0" r="4.8"/><circle cx="216.2" cy="1077.0" r="4.8"/><circle cx="217.5" cy="1131.8" r="4.8"/><circle cx="218.8" cy="1040.8" r="4.8"/><circle cx="218.8" cy="1141.7" r="4.8"/><circle cx="223.8" cy="1040.2" r="4.8"/><circle cx="223.8" cy="1133.8" r="4.8"/><circle cx="225.0" cy="1089.2" r="4.8"/><circle cx="227.5" cy="1141.7" r="4.8"/><circle cx="228.8" cy="1131.8" r="4.8"/><circle cx="232.0" cy="1097.5" r="4.8"/><circle cx="235.0" cy="1126.8" r="4.8"/><circle cx="237.5" cy="1096.2" r="4.8"/><circle cx="238.0" cy="1138.2" r="4.8"/><circle cx="239.0" cy="1105.0" r="4.8"/><circle cx="242.5" cy="1095.0" r="4.8"/><circle cx="243.8" cy="1127.5" r="4.8"/><circle cx="245.0" cy="1067.5" r="4.8"/><circle cx="246.2" cy="1076.2" r="4.8"/><circle cx="248.8" cy="1094.2" r="4.8"/><circle cx="248.8" cy="1129.2" r="4.8"/><circle cx="250.0" cy="1063.8" r="4.8"/><circle cx="251.2" cy="1083.8" r="4.8"/><circle cx="253.2" cy="1113.8" r="4.8"/><circle cx="253.8" cy="1062.0" r="4.8"/><circle cx="256.2" cy="1086.2" r="4.8"/><circle cx="257.5" cy="1134.2" r="4.8"/><circle cx="258.2" cy="973.0" r="4.8"/><circle cx="258.8" cy="1062.5" r="4.8"/><circle cx="259.2" cy="964.5" r="4.8"/><circle cx="260.0" cy="1135.0" r="4.8"/><circle cx="262.0" cy="1087.5" r="4.8"/><circle cx="264.5" cy="961.8" r="4.8"/><circle cx="265.0" cy="1031.2" r="4.8"/><circle cx="266.2" cy="1136.2" r="4.8"/><circle cx="268.2" cy="1120.0" r="4.8"/><circle cx="269.2" cy="1024.2" r="4.8"/><circle cx="270.0" cy="968.2" r="4.8"/><circle cx="272.5" cy="1080.5" r="4.8"/><circle cx="273.8" cy="964.0" r="4.8"/><circle cx="275.5" cy="982.5" r="4.8"/><circle cx="276.2" cy="1111.2" r="4.8"/><circle cx="277.0" cy="1142.0" r="4.8"/><circle cx="279.5" cy="968.8" r="4.8"/><circle cx="280.5" cy="1004.2" r="4.8"/><circle cx="281.2" cy="1050.8" r="4.8"/><circle cx="283.2" cy="941.5" r="4.8"/><circle cx="284.2" cy="991.5" r="4.8"/><circle cx="286.2" cy="1116.2" r="4.8"/><circle cx="286.8" cy="1077.5" r="4.8"/><circle cx="288.2" cy="873.0" r="4.8"/><circle cx="290.0" cy="910.0" r="4.8"/><circle cx="291.2" cy="961.2" r="4.8"/><circle cx="292.5" cy="1067.5" r="4.8"/><circle cx="294.2" cy="930.2" r="4.8"/><circle cx="295.8" cy="1070.8" r="4.8"/><circle cx="297.5" cy="1089.2" r="4.8"/><circle cx="298.2" cy="995.0" r="4.8"/><circle cx="298.8" cy="1022.0" r="4.8"/><circle cx="301.2" cy="1022.0" r="4.8"/><circle cx="303.0" cy="935.5" r="4.8"/><circle cx="305.0" cy="1055.5" r="4.8"/><circle cx="306.2" cy="1091.0" r="4.8"/><circle cx="307.5" cy="908.2" r="4.8"/><circle cx="309.2" cy="1035.0" r="4.8"/><circle cx="310.5" cy="961.5" r="4.8"/><circle cx="312.5" cy="970.2" r="4.8"/><circle cx="313.2" cy="910.0" r="4.8"/><circle cx="313.8" cy="1082.5" r="4.8"/><circle cx="316.2" cy="1080.5" r="4.8"/><circle cx="317.2" cy="921.2" r="4.8"/><circle cx="318.2" cy="1006.5" r="4.8"/><circle cx="320.5" cy="982.0" r="4.8"/><circle cx="321.2" cy="986.2" r="4.8"/><circle cx="323.2" cy="1024.2" r="4.8"/><circle cx="324.5" cy="992.5" r="4.8"/><circle cx="325.5" cy="1111.2" r="4.8"/><circle cx="327.5" cy="1069.2" r="4.8"/><circle cx="328.0" cy="997.2" r="4.8"/><circle cx="329.2" cy="957.2" r="4.8"/><circle cx="330.8" cy="1035.0" r="4.8"/><circle cx="332.5" cy="1032.5" r="4.8"/><circle cx="334.2" cy="1024.2" r="4.8"/><circle cx="335.8" cy="1082.5" r="4.8"/><circle cx="336.2" cy="1028.8" r="4.8"/><circle cx="338.8" cy="1077.5" r="4.8"/><circle cx="339.2" cy="1004.2" r="4.8"/><circle cx="340.0" cy="988.2" r="4.8"/><circle cx="342.0" cy="986.2" r="4.8"/><circle cx="343.2" cy="1119.5" r="4.8"/><circle cx="345.0" cy="1122.5" r="4.8"/><circle cx="346.2" cy="973.0" r="4.8"/><circle cx="347.2" cy="912.2" r="4.8"/><circle cx="349.2" cy="1022.0" r="4.8"/><circle cx="350.5" cy="997.5" r="4.8"/><circle cx="351.2" cy="1038.2" r="4.8"/><circle cx="353.2" cy="1055.5" r="4.8"/><circle cx="354.2" cy="1094.2" r="4.8"/><circle cx="356.2" cy="1053.8" r="4.8"/><circle cx="356.2" cy="1067.5" r="4.8"/><circle cx="357.5" cy="1033.2" r="4.8"/><circle cx="360.0" cy="1031.2" r="4.8"/><circle cx="360.0" cy="1066.2" r="4.8"/><circle cx="363.2" cy="1063.8" r="4.8"/><circle cx="365.0" cy="1047.0" r="4.8"/><circle cx="366.2" cy="1062.2" r="4.8"/><circle cx="368.2" cy="1050.8" r="4.8"/><circle cx="369.2" cy="1008.0" r="4.8"/><circle cx="371.2" cy="1029.0" r="4.8"/><circle cx="372.5" cy="1077.5" r="4.8"/><circle cx="373.8" cy="1099.8" r="4.8"/><circle cx="375.0" cy="1073.0" r="4.8"/><circle cx="376.2" cy="1093.2" r="4.8"/><circle cx="377.5" cy="1080.0" r="4.8"/><circle cx="379.5" cy="986.2" r="4.8"/><circle cx="380.2" cy="1015.0" r="4.8"/><circle cx="381.8" cy="1060.5" r="4.8"/><circle cx="383.8" cy="1087.5" r="4.8"/><circle cx="384.2" cy="1091.0" r="4.8"/><circle cx="386.8" cy="1062.2" r="4.8"/><circle cx="387.5" cy="1073.0" r="4.8"/><circle cx="388.2" cy="1047.0" r="4.8"/><circle cx="390.0" cy="1035.0" r="4.8"/><circle cx="391.2" cy="1126.8" r="4.8"/><circle cx="393.8" cy="1090.0" r="4.8"/><circle cx="394.2" cy="1058.0" r="4.8"/><circle cx="397.0" cy="1024.2" r="4.8"/><circle cx="397.5" cy="1058.0" r="4.8"/><circle cx="398.2" cy="1076.2" r="4.8"/><circle cx="401.2" cy="1125.0" r="4.8"/><circle cx="402.5" cy="1089.2" r="4.8"/><circle cx="403.2" cy="1077.5" r="4.8"/><circle cx="405.0" cy="1049.0" r="4.8"/><circle cx="406.2" cy="1020.5" r="4.8"/><circle cx="408.8" cy="1078.8" r="4.8"/><circle cx="409.2" cy="1058.0" r="4.8"/><circle cx="410.0" cy="1145.2" r="4.8"/><circle cx="412.5" cy="1080.0" r="4.8"/><circle cx="413.2" cy="1026.2" r="4.8"/><circle cx="415.5" cy="975.2" r="4.8"/><circle cx="416.5" cy="977.5" r="4.8"/><circle cx="417.5" cy="1091.0" r="4.8"/><circle cx="419.2" cy="1031.2" r="4.8"/><circle cx="420.0" cy="1145.2" r="4.8"/><circle cx="421.8" cy="1123.2" r="4.8"/><circle cx="423.2" cy="1053.2" r="4.8"/><circle cx="424.2" cy="1017.5" r="4.8"/><circle cx="425.0" cy="1062.2" r="4.8"/><circle cx="427.0" cy="1055.5" r="4.8"/><circle cx="430.0" cy="1062.2" r="4.8"/><circle cx="430.0" cy="1103.0" r="4.8"/><circle cx="431.2" cy="1107.0" r="4.8"/><circle cx="432.5" cy="1132.2" r="4.8"/><circle cx="434.2" cy="975.2" r="4.8"/><circle cx="435.0" cy="1048.0" r="4.8"/><circle cx="435.8" cy="1058.0" r="4.8"/><circle cx="437.5" cy="1047.5" r="4.8"/><circle cx="439.2" cy="1105.0" r="4.8"/><circle cx="441.8" cy="1123.2" r="4.8"/><circle cx="442.5" cy="1004.2" r="4.8"/><circle cx="443.2" cy="1028.8" r="4.8"/><circle cx="445.0" cy="964.5" r="4.8"/><circle cx="446.2" cy="973.0" r="4.8"/><circle cx="447.5" cy="993.0" r="4.8"/><circle cx="449.2" cy="1116.2" r="4.8"/><circle cx="450.8" cy="1043.8" r="4.8"/><circle cx="452.5" cy="1096.2" r="4.8"/><circle cx="453.8" cy="1024.2" r="4.8"/><circle cx="453.8" cy="1038.2" r="4.8"/><circle cx="456.2" cy="1022.5" r="4.8"/><circle cx="456.2" cy="1047.0" r="4.8"/><circle cx="457.2" cy="1020.2" r="4.8"/><circle cx="457.5" cy="1145.2" r="4.8"/><circle cx="458.8" cy="1082.5" r="4.8"/><circle cx="461.2" cy="1020.2" r="4.8"/><circle cx="463.2" cy="992.5" r="4.8"/><circle cx="464.2" cy="997.2" r="4.8"/><circle cx="465.2" cy="1060.2" r="4.8"/><circle cx="467.2" cy="1035.0" r="4.8"/><circle cx="468.2" cy="1142.5" r="4.8"/><circle cx="469.2" cy="1109.2" r="4.8"/><circle cx="471.2" cy="1002.2" r="4.8"/><circle cx="472.2" cy="1020.2" r="4.8"/><circle cx="475.2" cy="1004.5" r="4.8"/><circle cx="475.2" cy="1035.0" r="4.8"/><circle cx="476.2" cy="1024.2" r="4.8"/><circle cx="478.2" cy="1136.2" r="4.8"/><circle cx="479.2" cy="1128.8" r="4.8"/><circle cx="480.2" cy="958.8" r="4.8"/><circle cx="482.2" cy="995.0" r="4.8"/><circle cx="483.2" cy="948.2" r="4.8"/><circle cx="484.2" cy="1091.2" r="4.8"/><circle cx="486.2" cy="1141.2" r="4.8"/><circle cx="489.2" cy="1128.8" r="4.8"/><circle cx="490.2" cy="919.2" r="4.8"/><circle cx="491.2" cy="937.0" r="4.8"/><circle cx="493.2" cy="999.2" r="4.8"/><circle cx="494.2" cy="957.2" r="4.8"/><circle cx="495.2" cy="825.2" r="4.8"/><circle cx="497.2" cy="1145.2" r="4.8"/><circle cx="498.2" cy="1107.0" r="4.8"/><circle cx="500.2" cy="726.5" r="4.8"/><circle cx="501.2" cy="829.2" r="4.8"/><circle cx="502.2" cy="760.5" r="4.8"/><circle cx="504.2" cy="780.5" r="4.8"/><circle cx="505.2" cy="802.5" r="4.8"/><circle cx="506.2" cy="1133.8" r="4.8"/><circle cx="508.2" cy="1002.2" r="4.8"/><circle cx="509.2" cy="670.2" r="4.8"/><circle cx="511.2" cy="684.2" r="4.8"/><circle cx="512.2" cy="896.2" r="4.8"/><circle cx="513.2" cy="762.2" r="4.8"/><circle cx="515.2" cy="728.0" r="4.8"/><circle cx="516.2" cy="1136.2" r="4.8"/><circle cx="517.2" cy="1026.2" r="4.8"/><circle cx="519.2" cy="744.5" r="4.8"/><circle cx="520.0" cy="784.0" r="4.8"/><circle cx="522.5" cy="733.5" r="4.8"/><circle cx="523.2" cy="789.2" r="4.8"/><circle cx="524.5" cy="675.2" r="4.8"/><circle cx="526.2" cy="1141.7" r="4.8"/><circle cx="527.2" cy="1047.2" r="4.8"/><circle cx="528.0" cy="678.8" r="4.8"/><circle cx="530.2" cy="838.2" r="4.8"/><circle cx="531.2" cy="767.5" r="4.8"/><circle cx="533.2" cy="917.0" r="4.8"/><circle cx="534.2" cy="625.2" r="4.8"/><circle cx="535.2" cy="1141.7" r="4.8"/><circle cx="537.2" cy="1060.2" r="4.8"/><circle cx="538.2" cy="762.2" r="4.8"/><circle cx="539.2" cy="876.2" r="4.8"/><circle cx="541.2" cy="939.2" r="4.8"/><circle cx="542.2" cy="708.2" r="4.8"/><circle cx="543.2" cy="827.2" r="4.8"/><circle cx="545.2" cy="1098.0" r="4.8"/><circle cx="546.2" cy="1017.5" r="4.8"/><circle cx="548.2" cy="594.5" r="4.8"/><circle cx="549.2" cy="923.0" r="4.8"/><circle cx="550.0" cy="854.2" r="4.8"/><circle cx="552.2" cy="681.2" r="4.8"/><circle cx="553.2" cy="849.2" r="4.8"/><circle cx="554.2" cy="1141.7" r="4.8"/><circle cx="555.2" cy="941.2" r="4.8"/><circle cx="557.2" cy="939.2" r="4.8"/><circle cx="559.2" cy="838.2" r="4.8"/><circle cx="560.5" cy="843.2" r="4.8"/><circle cx="561.2" cy="1100.0" r="4.8"/><circle cx="563.2" cy="977.5" r="4.8"/><circle cx="564.2" cy="1145.2" r="4.8"/><circle cx="565.2" cy="964.5" r="4.8"/><circle cx="567.2" cy="912.5" r="4.8"/><circle cx="568.2" cy="820.2" r="4.8"/><circle cx="570.2" cy="865.0" r="4.8"/><circle cx="571.2" cy="999.2" r="4.8"/><circle cx="572.2" cy="943.2" r="4.8"/><circle cx="574.2" cy="1145.2" r="4.8"/><circle cx="575.2" cy="1051.2" r="4.8"/><circle cx="576.2" cy="1078.0" r="4.8"/><circle cx="578.2" cy="1015.0" r="4.8"/><circle cx="579.2" cy="964.5" r="4.8"/><circle cx="582.2" cy="1029.2" r="4.8"/><circle cx="583.2" cy="1040.2" r="4.8"/><circle cx="584.2" cy="1145.2" r="4.8"/><circle cx="586.2" cy="1041.2" r="4.8"/><circle cx="586.2" cy="1089.2" r="4.8"/><circle cx="587.2" cy="984.2" r="4.8"/><circle cx="589.2" cy="1008.0" r="4.8"/><circle cx="590.2" cy="1047.2" r="4.8"/><circle cx="592.2" cy="997.2" r="4.8"/><circle cx="593.2" cy="1145.2" r="4.8"/><circle cx="594.2" cy="1087.5" r="4.8"/><circle cx="596.2" cy="1073.0" r="4.8"/><circle cx="597.2" cy="984.2" r="4.8"/><circle cx="598.2" cy="941.5" r="4.8"/><circle cx="600.0" cy="983.8" r="4.8"/><circle cx="600.2" cy="926.2" r="4.8"/><circle cx="601.2" cy="973.0" r="4.8"/><circle cx="603.2" cy="1145.2" r="4.8"/><circle cx="604.2" cy="1063.8" r="4.8"/><circle cx="605.2" cy="1089.2" r="4.8"/><circle cx="607.2" cy="993.2" r="4.8"/><circle cx="608.2" cy="1001.2" r="4.8"/><circle cx="609.2" cy="1017.2" r="4.8"/><circle cx="611.2" cy="1069.2" r="4.8"/><circle cx="612.2" cy="1141.7" r="4.8"/><circle cx="615.2" cy="1087.5" r="4.8"/><circle cx="618.2" cy="991.2" r="4.8"/><circle cx="619.2" cy="1033.2" r="4.8"/><circle cx="620.2" cy="1001.2" r="4.8"/><circle cx="622.2" cy="1145.2" r="4.8"/><circle cx="623.2" cy="1067.2" r="4.8"/><circle cx="624.2" cy="1089.2" r="4.8"/><circle cx="626.2" cy="1029.2" r="4.8"/><circle cx="627.2" cy="1006.2" r="4.8"/><circle cx="629.2" cy="1020.2" r="4.8"/><circle cx="630.2" cy="1058.0" r="4.8"/><circle cx="631.2" cy="1145.2" r="4.8"/><circle cx="633.2" cy="1087.5" r="4.8"/><circle cx="634.2" cy="1113.8" r="4.8"/><circle cx="635.2" cy="1076.2" r="4.8"/><circle cx="637.2" cy="1042.2" r="4.8"/><circle cx="637.2" cy="1051.2" r="4.8"/><circle cx="639.2" cy="1020.2" r="4.8"/><circle cx="639.2" cy="1142.5" r="4.8"/><circle cx="641.2" cy="1141.7" r="4.8"/><circle cx="642.2" cy="1069.2" r="4.8"/><circle cx="644.2" cy="1105.0" r="4.8"/><circle cx="645.2" cy="986.2" r="4.8"/><circle cx="646.2" cy="1011.2" r="4.8"/><circle cx="648.2" cy="1073.0" r="4.8"/><circle cx="649.2" cy="1096.2" r="4.8"/><circle cx="651.2" cy="1145.2" r="4.8"/><circle cx="652.2" cy="1111.2" r="4.8"/><circle cx="653.2" cy="1113.8" r="4.8"/><circle cx="655.2" cy="1073.0" r="4.8"/><circle cx="656.2" cy="1098.0" r="4.8"/><circle cx="657.2" cy="1049.0" r="4.8"/><circle cx="659.2" cy="1076.2" r="4.8"/><circle cx="661.2" cy="1145.2" r="4.8"/><circle cx="662.2" cy="1093.8" r="4.8"/><circle cx="664.2" cy="1053.2" r="4.8"/><circle cx="666.2" cy="1105.0" r="4.8"/><circle cx="667.2" cy="1073.0" r="4.8"/><circle cx="668.2" cy="1093.8" r="4.8"/><circle cx="670.2" cy="1145.2" r="4.8"/><circle cx="672.2" cy="1086.5" r="4.8"/><circle cx="674.2" cy="1062.2" r="4.8"/><circle cx="675.2" cy="1095.8" r="4.8"/><circle cx="677.2" cy="1042.2" r="4.8"/><circle cx="679.2" cy="1091.0" r="4.8"/><circle cx="680.2" cy="1145.2" r="4.8"/><circle cx="682.2" cy="1062.2" r="4.8"/><circle cx="683.2" cy="1064.2" r="4.8"/><circle cx="685.2" cy="1058.0" r="4.8"/><circle cx="686.2" cy="1042.2" r="4.8"/><circle cx="688.2" cy="1107.0" r="4.8"/><circle cx="691.2" cy="1145.2" r="4.8"/><circle cx="693.2" cy="1080.0" r="4.8"/><circle cx="694.2" cy="1071.2" r="4.8"/><circle cx="696.2" cy="1051.2" r="4.8"/><circle cx="697.2" cy="1047.5" r="4.8"/><circle cx="700.2" cy="1145.2" r="4.8"/><circle cx="701.2" cy="1060.2" r="4.8"/><circle cx="703.2" cy="1089.2" r="4.8"/><circle cx="704.2" cy="1043.8" r="4.8"/><circle cx="705.2" cy="1069.2" r="4.8"/><circle cx="707.2" cy="1078.0" r="4.8"/><circle cx="709.2" cy="1145.2" r="4.8"/><circle cx="711.2" cy="1116.2" r="4.8"/><circle cx="712.2" cy="1017.2" r="4.8"/><circle cx="714.2" cy="1078.0" r="4.8"/><circle cx="715.2" cy="1069.2" r="4.8"/><circle cx="716.2" cy="1084.2" r="4.8"/><circle cx="718.2" cy="1145.2" r="4.8"/><circle cx="721.2" cy="1120.0" r="4.8"/><circle cx="722.2" cy="1098.0" r="4.8"/><circle cx="723.2" cy="1107.0" r="4.8"/><circle cx="724.2" cy="1141.7" r="4.8"/><circle cx="726.2" cy="1091.0" r="4.8"/><circle cx="730.2" cy="1103.0" r="4.8"/><circle cx="731.2" cy="1120.0" r="4.8"/><circle cx="733.2" cy="1133.8" r="4.8"/><circle cx="735.2" cy="1111.2" r="4.8"/><circle cx="740.2" cy="1115.0" r="4.8"/><circle cx="741.2" cy="1123.2" r="4.8"/><circle cx="742.2" cy="1138.8" r="4.8"/><circle cx="743.2" cy="1109.2" r="4.8"/><circle cx="749.2" cy="1087.5" r="4.8"/><circle cx="751.2" cy="1145.2" r="4.8"/><circle cx="752.2" cy="1103.0" r="4.8"/><circle cx="753.2" cy="1118.2" r="4.8"/><circle cx="757.2" cy="1132.5" r="4.8"/><circle cx="759.2" cy="1130.0" r="4.8"/><circle cx="760.2" cy="1096.2" r="4.8"/><circle cx="760.2" cy="1145.2" r="4.8"/><circle cx="761.2" cy="1118.2" r="4.8"/><circle cx="763.2" cy="1125.0" r="4.8"/><circle cx="766.2" cy="1115.0" r="4.8"/><circle cx="769.2" cy="1109.2" r="4.8"/><circle cx="769.2" cy="1123.2" r="4.8"/><circle cx="769.2" cy="1145.2" r="4.8"/><circle cx="774.2" cy="1121.2" r="4.8"/><circle cx="777.2" cy="1096.2" r="4.8"/><circle cx="778.2" cy="1089.2" r="4.8"/><circle cx="778.2" cy="1145.2" r="4.8"/><circle cx="780.2" cy="1118.2" r="4.8"/><circle cx="781.2" cy="1073.0" r="4.8"/><circle cx="782.2" cy="1067.2" r="4.8"/><circle cx="784.2" cy="1145.2" r="4.8"/></g>
</g>
<g fill="none" stroke="#000" stroke-width="1.11" stroke-linecap="square"><rect x="69.50" y="15.50" width="716.00" height="553.00"/><rect x="69.50" y="592.50" width="716.00" height="553.00"/></g>
<g stroke="#000" stroke-width="1.11"><line x1="69.50" x2="69.50" y1="568.50" y2="573.36"/><line x1="107.50" x2="107.50" y1="568.50" y2="573.36"/><line x1="232.50" x2="232.50" y1="568.50" y2="573.36"/><line x1="358.50" x2="358.50" y1="568.50" y2="573.36"/><line x1="484.50" x2="484.50" y1="568.50" y2="573.36"/><line x1="608.50" x2="608.50" y1="568.50" y2="573.36"/><line x1="733.50" x2="733.50" y1="568.50" y2="573.36"/><line x1="785.50" x2="785.50" y1="568.50" y2="573.36"/><line x1="148.50" x2="148.50" y1="568.50" y2="571.28"/><line x1="191.50" x2="191.50" y1="568.50" y2="571.28"/><line x1="274.50" x2="274.50" y1="568.50" y2="571.28"/><line x1="317.50" x2="317.50" y1="568.50" y2="571.28"/><line x1="401.50" x2="401.50" y1="568.50" y2="571.28"/><line x1="442.50" x2="442.50" y1="568.50" y2="571.28"/><line x1="527.50" x2="527.50" y1="568.50" y2="571.28"/><line x1="565.50" x2="565.50" y1="568.50" y2="571.28"/><line x1="649.50" x2="649.50" y1="568.50" y2="571.28"/><line x1="692.50" x2="692.50" y1="568.50" y2="571.28"/><line x1="775.50" x2="775.50" y1="568.50" y2="571.28"/><line x1="69.50" x2="69.50" y1="1145.50" y2="1150.36"/><line x1="107.50" x2="107.50" y1="1145.50" y2="1150.36"/><line x1="232.50" x2="232.50" y1="1145.50" y2="1150.36"/><line x1="358.50" x2="358.50" y1="1145.50" y2="1150.36"/><line x1="484.50" x2="484.50" y1="1145.50" y2="1150.36"/><line x1="608.50" x2="608.50" y1="1145.50" y2="1150.36"/><line x1="733.50" x2="733.50" y1="1145.50" y2="1150.36"/><line x1="785.50" x2="785.50" y1="1145.50" y2="1150.36"/><line x1="148.50" x2="148.50" y1="1145.50" y2="1148.28"/><line x1="191.50" x2="191.50" y1="1145.50" y2="1148.28"/><line x1="274.50" x2="274.50" y1="1145.50" y2="1148.28"/><line x1="317.50" x2="317.50" y1="1145.50" y2="1148.28"/><line x1="401.50" x2="401.50" y1="1145.50" y2="1148.28"/><line x1="442.50" x2="442.50" y1="1145.50" y2="1148.28"/><line x1="527.50" x2="527.50" y1="1145.50" y2="1148.28"/><line x1="565.50" x2="565.50" y1="1145.50" y2="1148.28"/><line x1="649.50" x2="649.50" y1="1145.50" y2="1148.28"/><line x1="692.50" x2="692.50" y1="1145.50" y2="1148.28"/><line x1="775.50" x2="775.50" y1="1145.50" y2="1148.28"/><line x1="64.64" x2="69.50" y1="568.50" y2="568.50"/><line x1="64.64" x2="69.50" y1="462.50" y2="462.50"/><line x1="64.64" x2="69.50" y1="355.50" y2="355.50"/><line x1="64.64" x2="69.50" y1="248.50" y2="248.50"/><line x1="64.64" x2="69.50" y1="142.50" y2="142.50"/><line x1="64.64" x2="69.50" y1="35.50" y2="35.50"/><line x1="64.64" x2="69.50" y1="1145.50" y2="1145.50"/><line x1="64.64" x2="69.50" y1="1033.50" y2="1033.50"/><line x1="64.64" x2="69.50" y1="921.50" y2="921.50"/><line x1="64.64" x2="69.50" y1="809.50" y2="809.50"/><line x1="64.64" x2="69.50" y1="697.50" y2="697.50"/></g>
<g class="t10"><text x="59.20" y="574.00" text-anchor="end">0</text><text x="57.80" y="467.00" text-anchor="end">5000</text><text x="58.60" y="361.00" text-anchor="end">10000</text><text x="58.60" y="254.00" text-anchor="end">15000</text><text x="58.60" y="147.00" text-anchor="end">20000</text><text x="58.80" y="41.30" text-anchor="end">25000</text><text x="59.20" y="1151.00" text-anchor="end">0</text><text x="57.30" y="1039.00" text-anchor="end">50</text><text x="58.40" y="927.00" text-anchor="end">100</text><text x="58.40" y="815.00" text-anchor="end">150</text><text x="59.00" y="703.00" text-anchor="end">200</text><text x="106.91" y="1166" text-anchor="middle">Apr</text><text x="231.75" y="1166" text-anchor="middle">Jul</text><text x="357.96" y="1166" text-anchor="middle">Oct</text><text x="484.17" y="1166" text-anchor="middle">Jan</text><text x="607.63" y="1166" text-anchor="middle">Apr</text><text x="732.47" y="1166" text-anchor="middle">Jul</text><text x="484.17" y="1182" text-anchor="middle">2021</text></g>
<rect x="76.50" y="22.50" width="157.75" height="24.70" rx="2.8" ry="2.8" fill="#fff" fill-opacity="0.8" stroke="#ccc" stroke-opacity="0.8" stroke-width="1.11"/><line x1="81.10" x2="108.90" y1="33.80" y2="33.80" stroke="#1f77b4" stroke-width="2.08" stroke-linecap="square"/><text class="t10" x="119.95" y="37.80">daily confirmed</text>
<rect x="76.50" y="599.50" width="135.00" height="24.70" rx="2.8" ry="2.8" fill="#fff" fill-opacity="0.8" stroke="#ccc" stroke-opacity="0.8" stroke-width="1.11"/><line x1="81.10" x2="108.90" y1="610.80" y2="610.80" stroke="#1f77b4" stroke-width="2.08" stroke-linecap="square"/><text class="t10" x="119.95" y="614.80">daily deaths</text>
<text class="t12" x="397.5" y="35.9" text-anchor="middle">Georgia 28 days</text>
</svg></body></html>
